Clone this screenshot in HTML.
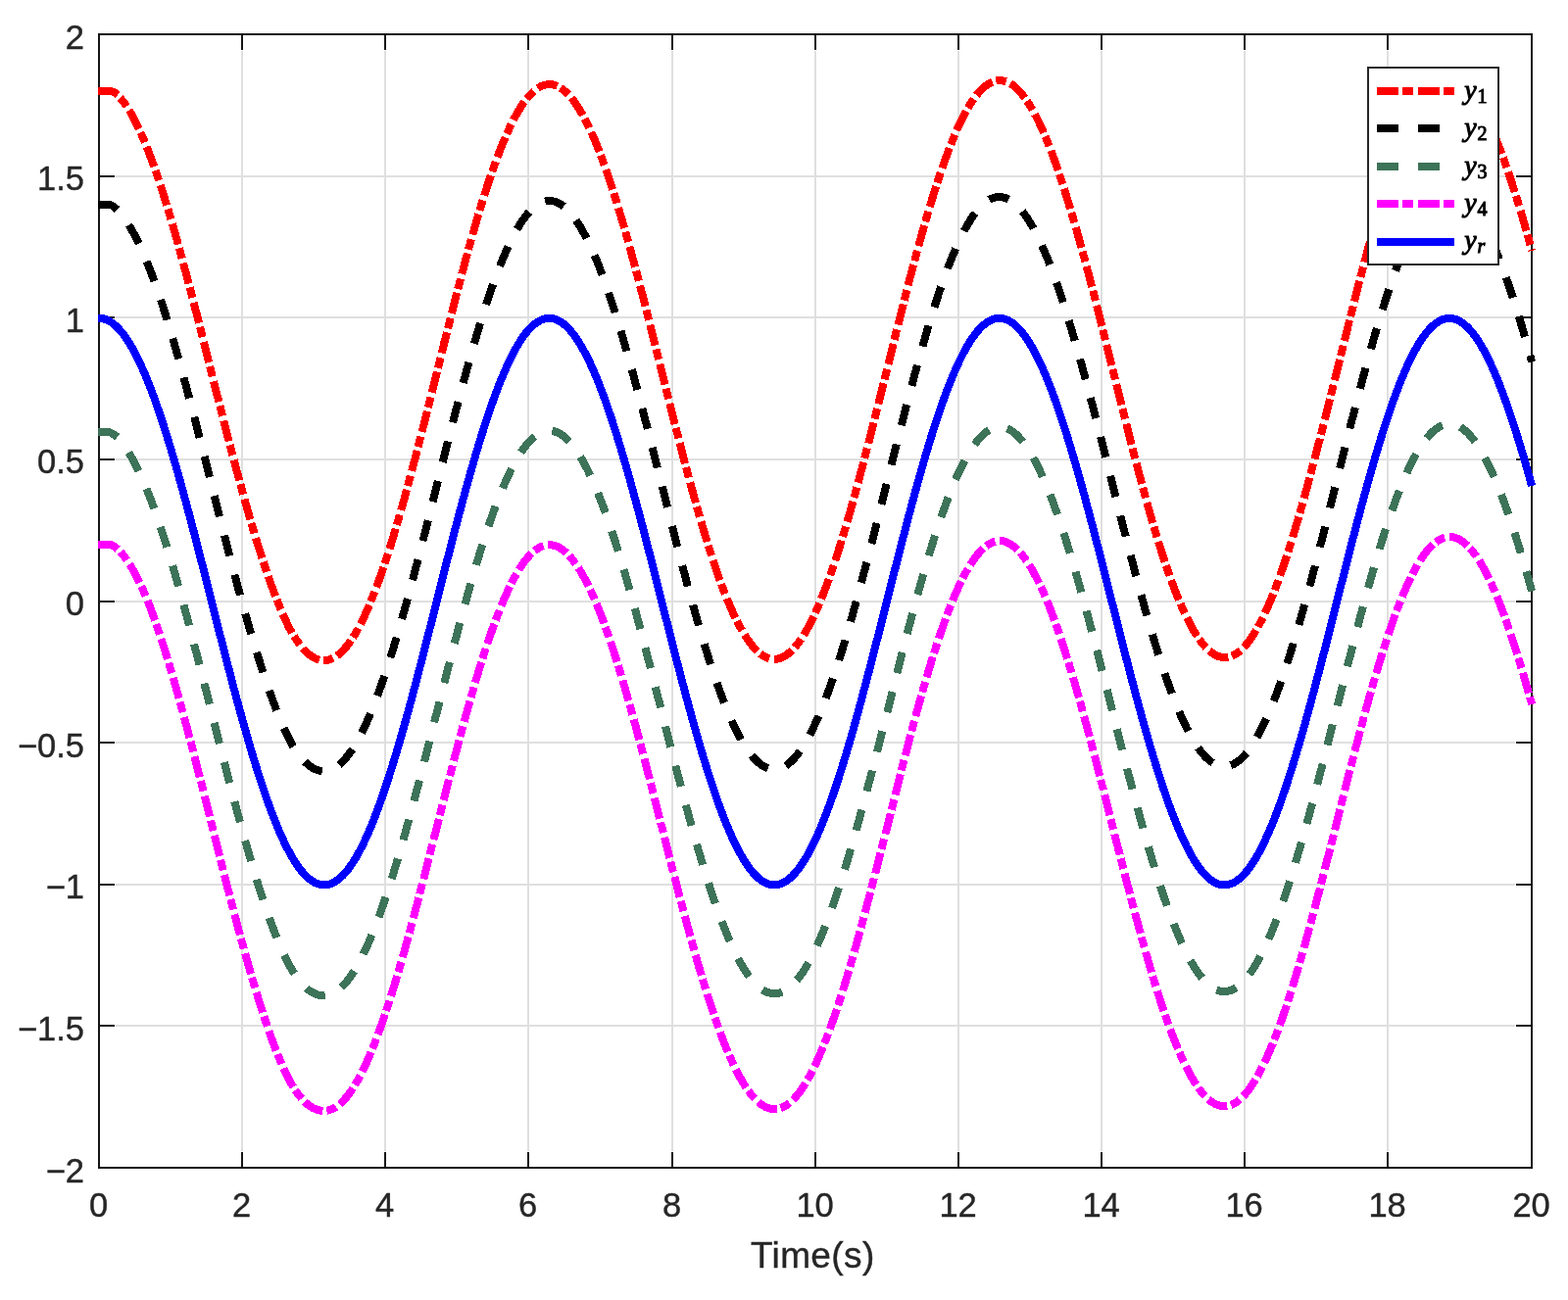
<!DOCTYPE html>
<html lang="en">
<head>
<meta charset="utf-8">
<title>Time(s) plot</title>
<style>
html,body{margin:0;padding:0;background:#fff;}
body{width:1600px;height:1327px;overflow:hidden;position:relative;font-family:"Liberation Sans",sans-serif;}
svg{position:absolute;left:0;top:0;display:block;}
.tick{font-family:"Liberation Sans",sans-serif;font-size:34.5px;fill:#262626;stroke:#262626;stroke-width:0.4px;}
.xlab{font-family:"Liberation Sans",sans-serif;font-size:37px;fill:#262626;stroke:#262626;stroke-width:0.4px;letter-spacing:0.4px;}
.leg{font-family:"Liberation Serif",serif;font-style:italic;font-weight:normal;font-size:28px;fill:#000;stroke:#000;stroke-width:1.0px;}
.sub{font-family:"Liberation Serif",serif;font-style:normal;font-weight:normal;font-size:20px;fill:#000;stroke:#000;stroke-width:1.0px;}
.subi{font-family:"Liberation Serif",serif;font-style:italic;font-weight:normal;font-size:20px;fill:#000;stroke:#000;stroke-width:1.0px;}
</style>
</head>
<body>
<svg xmlns="http://www.w3.org/2000/svg" width="1600" height="1327" viewBox="0 0 1600 1327">
<defs><clipPath id="ax"><rect x="99.8" y="30" width="1470.2" height="1165"/></clipPath></defs>
<rect x="0" y="0" width="1600" height="1327" fill="#fff"/>

<g stroke="#dfdfdf" stroke-width="2" fill="none" shape-rendering="crispEdges">
<line x1="247" y1="52.0" x2="247" y2="1175.0"/>
<line x1="393" y1="52.0" x2="393" y2="1175.0"/>
<line x1="539" y1="52.0" x2="539" y2="1175.0"/>
<line x1="686" y1="52.0" x2="686" y2="1175.0"/>
<line x1="832" y1="52.0" x2="832" y2="1175.0"/>
<line x1="978" y1="52.0" x2="978" y2="1175.0"/>
<line x1="1124" y1="52.0" x2="1124" y2="1175.0"/>
<line x1="1270" y1="52.0" x2="1270" y2="1175.0"/>
<line x1="1416" y1="52.0" x2="1416" y2="1175.0"/>
<line x1="118.0" y1="1047" x2="1546.0" y2="1047"/>
<line x1="118.0" y1="903" x2="1546.0" y2="903"/>
<line x1="118.0" y1="758" x2="1546.0" y2="758"/>
<line x1="118.0" y1="614" x2="1546.0" y2="614"/>
<line x1="118.0" y1="469" x2="1546.0" y2="469"/>
<line x1="118.0" y1="324" x2="1546.0" y2="324"/>
<line x1="118.0" y1="180" x2="1546.0" y2="180"/>
</g>
<g stroke="#151515" stroke-width="2" fill="none" stroke-linecap="butt" shape-rendering="crispEdges">
<rect x="101.0" y="35.0" width="1462.0" height="1157.0"/>
<line x1="247" y1="1192.0" x2="247" y2="1176.0"/>
<line x1="247" y1="35.0" x2="247" y2="51.0"/>
<line x1="393" y1="1192.0" x2="393" y2="1176.0"/>
<line x1="393" y1="35.0" x2="393" y2="51.0"/>
<line x1="539" y1="1192.0" x2="539" y2="1176.0"/>
<line x1="539" y1="35.0" x2="539" y2="51.0"/>
<line x1="686" y1="1192.0" x2="686" y2="1176.0"/>
<line x1="686" y1="35.0" x2="686" y2="51.0"/>
<line x1="832" y1="1192.0" x2="832" y2="1176.0"/>
<line x1="832" y1="35.0" x2="832" y2="51.0"/>
<line x1="978" y1="1192.0" x2="978" y2="1176.0"/>
<line x1="978" y1="35.0" x2="978" y2="51.0"/>
<line x1="1124" y1="1192.0" x2="1124" y2="1176.0"/>
<line x1="1124" y1="35.0" x2="1124" y2="51.0"/>
<line x1="1270" y1="1192.0" x2="1270" y2="1176.0"/>
<line x1="1270" y1="35.0" x2="1270" y2="51.0"/>
<line x1="1416" y1="1192.0" x2="1416" y2="1176.0"/>
<line x1="1416" y1="35.0" x2="1416" y2="51.0"/>
<line x1="101.0" y1="1047.00" x2="117.0" y2="1047.00"/>
<line x1="1563.0" y1="1047.00" x2="1547.0" y2="1047.00"/>
<line x1="101.0" y1="903.00" x2="117.0" y2="903.00"/>
<line x1="1563.0" y1="903.00" x2="1547.0" y2="903.00"/>
<line x1="101.0" y1="758.00" x2="117.0" y2="758.00"/>
<line x1="1563.0" y1="758.00" x2="1547.0" y2="758.00"/>
<line x1="101.0" y1="614.00" x2="117.0" y2="614.00"/>
<line x1="1563.0" y1="614.00" x2="1547.0" y2="614.00"/>
<line x1="101.0" y1="469.00" x2="117.0" y2="469.00"/>
<line x1="1563.0" y1="469.00" x2="1547.0" y2="469.00"/>
<line x1="101.0" y1="324.00" x2="117.0" y2="324.00"/>
<line x1="1563.0" y1="324.00" x2="1547.0" y2="324.00"/>
<line x1="101.0" y1="180.00" x2="117.0" y2="180.00"/>
<line x1="1563.0" y1="180.00" x2="1547.0" y2="180.00"/>
</g>
<g clip-path="url(#ax)" fill="none" stroke-linejoin="bevel" stroke-linecap="butt" stroke-width="8" shape-rendering="crispEdges">
<path d="M100.00 93.45L101.52 93.45L103.04 93.45L104.56 93.45L106.08 93.45L107.60 93.45L109.12 93.45L110.64 93.45L112.16 93.45L113.69 93.45L115.21 93.45L116.51 94.07L117.67 95.05L118.80 96.07L119.90 97.13M122.57 99.96L123.58 101.12L124.56 102.30L125.52 103.50L126.45 104.72L127.36 105.96L128.26 107.21L129.13 108.47M131.81 112.57L132.63 113.88L133.42 115.20L134.20 116.54L134.94 117.89L135.68 119.25L136.40 120.62L137.11 121.99L137.82 123.36L138.51 124.74L139.19 126.12L139.87 127.51L140.54 128.91L141.20 130.30L141.85 131.70M143.48 135.29L144.11 136.70L144.73 138.12L145.35 139.54L145.96 140.96L146.56 142.39L147.16 143.82L147.75 145.25M149.61 149.81L150.18 151.26L150.75 152.70L151.31 154.14L151.87 155.59L152.42 157.04L152.97 158.49L153.52 159.94L154.06 161.39L154.60 162.85L155.14 164.30L155.67 165.76L156.19 167.22L156.72 168.68L157.24 170.14M158.55 173.86L159.06 175.33L159.57 176.80L160.07 178.27L160.57 179.74L161.07 181.21L161.57 182.68L162.06 184.15M163.62 188.84L164.10 190.32L164.58 191.79L165.06 193.27L165.54 194.75L166.01 196.23L166.48 197.71L166.95 199.19L167.42 200.67L167.89 202.15L168.35 203.64L168.81 205.12L169.27 206.60L169.73 208.09L170.18 209.57M171.34 213.36L171.78 214.85L172.23 216.34L172.68 217.83L173.12 219.32L173.57 220.81L174.01 222.30L174.45 223.79M175.84 228.54L176.27 230.03L176.70 231.52L177.14 233.02L177.56 234.51L177.99 236.01L178.42 237.50L178.85 239.00L179.27 240.49L179.69 241.99L180.12 243.49L180.54 244.99L180.96 246.48L181.38 247.98L181.79 249.48M182.85 253.29L183.27 254.79L183.68 256.29L184.09 257.79L184.50 259.30L184.91 260.80L185.32 262.30L185.73 263.80M187.02 268.58L187.43 270.08L187.83 271.58L188.23 273.09L188.63 274.59L189.04 276.09L189.44 277.60L189.84 279.10L190.25 280.60L190.65 282.11L191.05 283.61L191.45 285.11L191.85 286.62L192.24 288.12L192.64 289.63M193.65 293.46L194.05 294.96L194.44 296.47L194.83 297.97L195.23 299.48L195.62 300.99L196.01 302.49L196.41 304.00M197.64 308.78L198.03 310.28L198.42 311.78L198.81 313.28L199.20 314.79L199.58 316.29L199.97 317.79L200.36 319.29L200.74 320.80L201.13 322.30L201.51 323.80L201.89 325.31L202.28 326.81L202.66 328.31L203.05 329.82M204.02 333.65L204.40 335.15L204.78 336.65L205.17 338.16L205.55 339.66L205.93 341.17L206.31 342.67L206.69 344.18M207.90 348.96L208.28 350.47L208.66 351.97L209.04 353.48L209.42 354.98L209.79 356.49L210.17 357.99L210.55 359.50L210.93 361.01L211.31 362.51L211.69 364.02L212.07 365.52L212.44 367.03L212.82 368.53L213.20 370.04M214.16 373.87L214.54 375.37L214.92 376.88L215.29 378.39L215.67 379.89L216.05 381.40L216.43 382.90L216.80 384.41M218.01 389.20L218.39 390.70L218.77 392.21L219.15 393.71L219.53 395.22L219.91 396.72L220.29 398.23L220.67 399.73L221.05 401.23L221.43 402.74L221.81 404.24L222.20 405.75L222.58 407.25L222.96 408.76L223.34 410.26M224.31 414.09L224.70 415.59L225.08 417.10L225.46 418.60L225.85 420.10L226.23 421.61L226.61 423.11L227.00 424.61M228.22 429.40L228.61 430.90L228.99 432.40L229.38 433.91L229.77 435.41L230.15 436.91L230.54 438.41L230.93 439.92L231.32 441.42L231.71 442.92L232.09 444.42L232.48 445.93L232.87 447.43L233.26 448.93L233.65 450.43M234.65 454.25L235.04 455.75L235.44 457.25L235.83 458.75L236.22 460.25L236.62 461.76L237.01 463.26L237.41 464.76M238.67 469.53L239.07 471.02L239.47 472.52L239.87 474.02L240.27 475.51L240.67 477.01L241.07 478.50L241.47 480.00L241.87 481.49L242.28 482.99L242.68 484.48L243.09 485.98L243.49 487.47L243.89 488.97L244.30 490.46M245.32 494.27L245.73 495.76L246.13 497.26L246.54 498.75L246.94 500.24L247.35 501.73L247.76 503.23L248.17 504.72M249.48 509.46L249.90 510.95L250.31 512.44L250.73 513.93L251.15 515.42L251.56 516.91L251.98 518.40L252.40 519.89L252.83 521.38L253.25 522.87L253.67 524.35L254.10 525.84L254.53 527.33L254.96 528.81L255.39 530.30M256.49 534.08L256.92 535.56L257.36 537.04L257.79 538.53L258.23 540.01L258.67 541.49L259.12 542.97L259.56 544.45M260.98 549.16L261.43 550.63L261.88 552.11L262.34 553.59L262.80 555.06L263.25 556.54L263.71 558.01L264.17 559.48L264.64 560.96L265.10 562.43L265.57 563.90L266.04 565.37L266.51 566.84L266.98 568.31L267.46 569.78M268.68 573.52L269.16 574.98L269.64 576.45L270.13 577.91L270.62 579.37L271.11 580.84L271.61 582.30L272.11 583.76M273.71 588.39L274.22 589.85L274.74 591.30L275.25 592.75L275.77 594.20L276.30 595.65L276.82 597.09L277.35 598.54L277.89 599.98L278.43 601.43L278.97 602.87L279.52 604.31L280.07 605.75L280.62 607.18L281.18 608.62M282.62 612.26L283.19 613.69L283.77 615.11L284.34 616.54L284.92 617.97L285.49 619.39L286.08 620.81L286.67 622.23M288.58 626.73L289.19 628.14L289.80 629.54L290.43 630.94L291.06 632.34L291.70 633.73L292.34 635.12L292.99 636.50L293.65 637.89L294.32 639.27L295.01 640.63L295.74 641.98L296.48 643.32L297.23 644.66L297.99 645.99M299.99 649.32L300.79 650.61L301.61 651.89L302.45 653.16L303.30 654.42L304.17 655.67L305.06 656.90L305.97 658.12M308.99 661.88L309.98 663.00L311.01 664.09L312.07 665.16L313.16 666.19L314.28 667.19L315.44 668.14L316.63 669.06L317.85 669.92L319.12 670.73L320.42 671.47L321.77 672.13L323.15 672.71L324.57 673.20L326.02 673.59M329.76 674.06L331.25 674.05L332.73 673.95L334.20 673.73L335.65 673.39L337.07 672.95L338.46 672.42L339.81 671.80M343.87 669.33L345.08 668.42L346.26 667.47L347.39 666.47L348.50 665.44L349.57 664.38L350.62 663.28L351.63 662.16L352.62 661.02L353.59 659.85L354.53 658.67L355.45 657.47L356.35 656.26L357.23 655.03L358.09 653.78M360.22 650.55L361.03 649.26L361.83 647.96L362.61 646.65L363.38 645.33L364.14 644.00L364.88 642.67L365.62 641.33M367.89 637.03L368.59 635.66L369.27 634.29L369.95 632.92L370.62 631.54L371.28 630.15L371.93 628.76L372.58 627.37L373.22 625.98L373.85 624.58L374.47 623.18L375.09 621.78L375.70 620.37L376.31 618.96L376.91 617.55M378.41 613.94L379.00 612.52L379.57 611.09L380.15 609.66L380.71 608.23L381.28 606.80L381.83 605.37L382.39 603.93M384.12 599.35L384.66 597.91L385.20 596.46L385.73 595.02L386.25 593.57L386.78 592.12L387.30 590.67L387.81 589.22L388.33 587.76L388.84 586.31L389.35 584.85L389.85 583.40L390.35 581.94L390.85 580.48L391.34 579.02M392.59 575.30L393.08 573.83L393.56 572.37L394.05 570.90L394.53 569.44L395.00 567.97L395.48 566.50L395.95 565.03M397.44 560.35L397.90 558.87L398.36 557.40L398.82 555.93L399.28 554.45L399.74 552.97L400.19 551.50L400.64 550.02L401.09 548.54L401.54 547.06L401.99 545.58L402.43 544.10L402.87 542.62L403.32 541.14L403.76 539.66M404.87 535.89L405.31 534.41L405.74 532.92L406.17 531.44L406.60 529.95L407.03 528.47L407.46 526.98L407.89 525.50M409.24 520.76L409.66 519.27L410.08 517.79L410.50 516.30L410.91 514.81L411.33 513.32L411.75 511.83L412.16 510.34L412.58 508.85L412.99 507.35L413.40 505.86L413.81 504.37L414.22 502.88L414.63 501.39L415.04 499.89M416.07 496.09L416.47 494.60L416.88 493.11L417.28 491.61L417.68 490.12L418.08 488.62L418.48 487.13L418.88 485.63M420.15 480.87L420.55 479.37L420.94 477.88L421.34 476.38L421.73 474.88L422.12 473.38L422.52 471.89L422.91 470.39L423.30 468.89L423.69 467.39L424.08 465.89L424.47 464.40L424.86 462.90L425.25 461.40L425.64 459.90M426.63 456.08L427.01 454.58L427.40 453.08L427.78 451.58L428.17 450.08L428.55 448.58L428.94 447.08L429.32 445.58M430.54 440.80L430.92 439.30L431.30 437.80L431.68 436.30L432.06 434.80L432.44 433.30L432.82 431.80L433.20 430.29L433.58 428.79L433.96 427.29L434.34 425.79L434.72 424.28L435.10 422.78L435.48 421.28L435.85 419.78M436.81 415.95L437.19 414.45L437.57 412.95L437.94 411.44L438.32 409.94L438.70 408.44L439.07 406.94L439.45 405.43M440.64 400.65L441.02 399.14L441.39 397.64L441.77 396.13L442.14 394.63L442.52 393.12L442.90 391.62L443.27 390.11L443.65 388.61L444.02 387.10L444.40 385.60L444.77 384.09L445.15 382.59L445.52 381.08L445.89 379.57M446.85 375.73L447.23 374.21L447.61 372.70L447.98 371.19L448.36 369.68L448.74 368.17L449.11 366.66L449.49 365.14M450.69 360.33L451.07 358.82L451.44 357.31L451.82 355.80L452.20 354.29L452.58 352.78L452.95 351.27L453.33 349.75L453.71 348.24L454.09 346.73L454.47 345.22L454.85 343.71L455.23 342.20L455.61 340.69L455.99 339.18M456.95 335.33L457.33 333.82L457.72 332.31L458.10 330.80L458.48 329.29L458.86 327.78L459.24 326.27L459.63 324.76M460.84 319.96L461.23 318.45L461.61 316.94L462.00 315.43L462.38 313.92L462.77 312.41L463.16 310.90L463.54 309.39L463.93 307.88L464.32 306.38L464.71 304.87L465.09 303.36L465.48 301.85L465.87 300.34L466.26 298.83M467.26 295.00L467.65 293.49L468.04 291.98L468.44 290.48L468.83 288.97L469.23 287.46L469.62 285.96L470.02 284.45M471.28 279.66L471.68 278.16L472.08 276.65L472.48 275.15L472.88 273.64L473.29 272.14L473.69 270.63L474.09 269.13L474.50 267.63L474.90 266.12L475.31 264.62L475.72 263.12L476.13 261.62L476.53 260.11L476.94 258.61M477.99 254.79L478.41 253.29L478.82 251.79L479.24 250.29L479.65 248.79L480.07 247.29L480.49 245.79L480.91 244.29M482.25 239.53L482.68 238.03L483.10 236.53L483.53 235.04L483.96 233.54L484.39 232.05L484.82 230.55L485.26 229.06L485.69 227.56L486.12 226.07L486.56 224.58L487.00 223.08L487.44 221.59L487.88 220.10L488.33 218.61M489.46 214.82L489.91 213.33L490.36 211.84L490.81 210.35L491.27 208.86L491.72 207.38L492.18 205.89L492.64 204.41M494.12 199.68L494.59 198.20L495.06 196.72L495.53 195.24L496.01 193.76L496.48 192.28L496.96 190.80L497.45 189.33L497.93 187.85L498.42 186.37L498.91 184.90L499.40 183.42L499.89 181.95L500.39 180.48L500.89 179.01M502.18 175.27L502.69 173.80L503.20 172.34L503.72 170.87L504.24 169.41L504.76 167.95L505.29 166.49L505.82 165.03M507.53 160.40L508.08 158.94L508.63 157.49L509.18 156.05L509.74 154.60L510.31 153.15L510.87 151.71L511.45 150.27L512.02 148.83L512.60 147.39L513.19 145.96L513.79 144.53L514.38 143.09L514.99 141.67L515.60 140.24M517.18 136.63L517.81 135.21L518.45 133.80L519.09 132.40L519.75 130.99L520.41 129.59L521.08 128.20L521.75 126.81M523.97 122.41L524.68 121.04L525.40 119.68L526.14 118.32L526.88 116.97L527.64 115.63L528.41 114.29L529.20 112.96L529.99 111.64L530.80 110.33L531.63 109.03L532.47 107.73L533.33 106.45L534.21 105.18L535.11 103.93M537.48 100.81L538.44 99.62L539.44 98.45L540.46 97.31L541.50 96.19L542.58 95.10L543.69 94.04L544.83 93.01M548.70 90.07L549.97 89.28L551.29 88.56L552.64 87.91L554.03 87.35L555.46 86.88L556.91 86.52L558.39 86.28L559.88 86.15L561.38 86.15L562.88 86.28L564.36 86.53L565.81 86.89L567.24 87.36L568.63 87.92M571.95 89.69L573.19 90.51L574.40 91.38L575.57 92.30L576.71 93.27L577.81 94.27L578.88 95.31L579.92 96.38M583.08 99.96L584.03 101.14L584.95 102.33L585.86 103.55L586.74 104.77L587.61 106.01L588.46 107.27L589.29 108.53L590.11 109.80L590.91 111.08L591.70 112.38L592.47 113.68L593.23 114.98L593.98 116.30L594.72 117.62M596.56 121.02L597.26 122.38L597.96 123.73L598.64 125.09L599.32 126.46L599.99 127.83L600.65 129.20L601.30 130.58M603.33 134.99L603.96 136.38L604.58 137.78L605.19 139.18L605.79 140.59L606.40 142.00L606.99 143.41L607.58 144.82L608.16 146.23L608.74 147.65L609.31 149.07L609.88 150.49L610.45 151.91L611.01 153.33L611.56 154.76M612.96 158.40L613.50 159.84L614.04 161.27L614.57 162.71L615.10 164.15L615.63 165.59L616.15 167.03L616.67 168.48M618.30 173.08L618.81 174.53L619.31 175.98L619.81 177.44L620.31 178.89L620.80 180.35L621.30 181.80L621.79 183.26L622.27 184.72L622.76 186.18L623.24 187.64L623.72 189.10L624.20 190.56L624.67 192.02L625.14 193.48M626.34 197.21L626.80 198.68L627.26 200.14L627.73 201.61L628.18 203.08L628.64 204.55L629.10 206.02L629.55 207.49M630.98 212.18L631.43 213.65L631.87 215.13L632.31 216.60L632.75 218.08L633.19 219.56L633.63 221.03L634.07 222.51L634.50 223.99L634.94 225.47L635.37 226.95L635.80 228.43L636.23 229.91L636.66 231.39L637.08 232.87M638.16 236.64L638.58 238.12L639.00 239.60L639.42 241.09L639.84 242.57L640.26 244.06L640.68 245.54L641.09 247.03M642.41 251.75L642.82 253.24L643.23 254.73L643.63 256.22L644.04 257.70L644.45 259.19L644.86 260.68L645.26 262.17L645.66 263.66L646.07 265.15L646.47 266.64L646.87 268.13L647.27 269.62L647.67 271.11L648.07 272.60M649.08 276.39L649.48 277.89L649.87 279.38L650.27 280.87L650.66 282.36L651.06 283.85L651.45 285.35L651.84 286.84M653.09 291.59L653.48 293.09L653.86 294.58L654.25 296.08L654.64 297.57L655.03 299.06L655.42 300.56L655.80 302.05L656.19 303.55L656.57 305.05L656.96 306.54L657.34 308.04L657.73 309.53L658.11 311.03L658.49 312.52M659.46 316.33L659.85 317.83L660.23 319.33L660.61 320.82L660.99 322.32L661.37 323.82L661.75 325.31L662.13 326.81M663.33 331.58L663.71 333.07L664.09 334.57L664.46 336.07L664.84 337.57L665.22 339.07L665.59 340.57L665.97 342.06L666.35 343.56L666.72 345.06L667.10 346.56L667.47 348.06L667.85 349.56L668.22 351.06L668.60 352.55M669.55 356.37L669.93 357.87L670.30 359.37L670.67 360.87L671.05 362.37L671.42 363.86L671.80 365.36L672.17 366.86M673.36 371.63L673.73 373.14L674.11 374.64L674.48 376.15L674.86 377.66L675.23 379.16L675.61 380.67L675.98 382.17L676.36 383.68L676.73 385.19L677.11 386.69L677.48 388.20L677.86 389.70L678.23 391.21L678.61 392.72M679.57 396.56L679.94 398.06L680.32 399.57L680.70 401.08L681.07 402.59L681.45 404.10L681.83 405.61L682.20 407.12M683.40 411.91L683.78 413.42L684.16 414.93L684.54 416.44L684.92 417.95L685.30 419.45L685.68 420.96L686.05 422.47L686.43 423.98L686.81 425.48L687.19 426.99L687.57 428.50L687.96 430.01L688.34 431.51L688.72 433.02M689.69 436.86L690.07 438.36L690.46 439.87L690.84 441.38L691.22 442.88L691.61 444.39L691.99 445.90L692.38 447.40M693.61 452.19L693.99 453.70L694.38 455.20L694.77 456.71L695.16 458.21L695.55 459.72L695.94 461.22L696.33 462.73L696.72 464.23L697.11 465.74L697.50 467.24L697.90 468.74L698.29 470.25L698.68 471.75L699.08 473.25M700.08 477.08L700.48 478.58L700.88 480.08L701.28 481.58L701.68 483.09L702.08 484.59L702.48 486.09L702.88 487.59M704.16 492.36L704.57 493.86L704.97 495.36L705.38 496.86L705.79 498.36L706.20 499.86L706.61 501.36L707.02 502.86L707.43 504.35L707.84 505.85L708.25 507.35L708.67 508.85L709.08 510.34L709.50 511.84L709.92 513.33M710.99 517.14L711.41 518.63L711.83 520.13L712.26 521.62L712.68 523.12L713.11 524.61L713.54 526.10L713.97 527.59M715.34 532.34L715.78 533.83L716.22 535.32L716.65 536.80L717.09 538.29L717.54 539.78L717.98 541.27L718.42 542.75L718.87 544.24L719.32 545.73L719.77 547.21L720.22 548.70L720.67 550.18L721.13 551.66L721.58 553.15M722.76 556.92L723.22 558.40L723.68 559.88L724.15 561.35L724.62 562.83L725.09 564.31L725.57 565.79L726.05 567.26M727.58 571.95L728.07 573.42L728.55 574.89L729.05 576.36L729.54 577.83L730.04 579.29L730.54 580.76L731.04 582.23L731.55 583.69L732.06 585.15L732.57 586.62L733.08 588.08L733.60 589.54L734.12 590.99L734.65 592.45M736.00 596.15L736.54 597.60L737.08 599.05L737.63 600.50L738.18 601.95L738.73 603.39L739.29 604.83L739.85 606.28M741.68 610.85L742.26 612.28L742.84 613.70L743.44 615.13L744.04 616.55L744.64 617.97L745.25 619.39L745.87 620.81L746.49 622.22L747.12 623.63L747.75 625.04L748.40 626.44L749.05 627.84L749.70 629.24L750.37 630.63M752.10 634.15L752.80 635.53L753.50 636.90L754.21 638.26L754.94 639.62L755.67 640.97L756.42 642.32L757.18 643.66M759.68 647.86L760.49 649.16L761.31 650.45L762.15 651.73L763.01 652.99L763.89 654.25L764.79 655.49L765.70 656.71L766.64 657.92L767.60 659.11L768.59 660.28L769.60 661.43L770.64 662.55L771.71 663.65L772.81 664.71M775.74 667.23L776.95 668.14L778.20 668.99L779.49 669.78L780.82 670.50L782.19 671.14L783.60 671.69L785.05 672.14M789.78 672.82L791.29 672.77L792.79 672.60L794.28 672.31L795.74 671.91L797.16 671.40L798.55 670.80L799.90 670.11L801.21 669.35L802.48 668.53L803.70 667.65L804.90 666.71L806.05 665.73L807.17 664.72L808.26 663.67M810.91 660.83L811.91 659.67L812.88 658.49L813.83 657.29L814.76 656.07L815.66 654.84L816.55 653.59L817.42 652.33M820.07 648.23L820.87 646.92L821.66 645.59L822.44 644.27L823.20 642.93L823.96 641.59L824.70 640.24L825.43 638.88L826.14 637.52L826.85 636.15L827.55 634.78L828.24 633.40L828.92 632.02L829.59 630.64L830.25 629.25M831.91 625.69L832.55 624.28L833.18 622.87L833.81 621.46L834.43 620.05L835.04 618.63L835.64 617.21L836.24 615.79M838.12 611.24L838.70 609.80L839.27 608.37L839.84 606.93L840.41 605.49L840.96 604.05L841.52 602.60L842.07 601.16L842.62 599.71L843.16 598.26L843.70 596.81L844.23 595.36L844.77 593.90L845.29 592.45L845.82 590.99M847.14 587.28L847.65 585.82L848.16 584.35L848.67 582.89L849.17 581.43L849.67 579.96L850.17 578.49L850.66 577.02M852.22 572.35L852.71 570.87L853.19 569.40L853.67 567.92L854.14 566.45L854.62 564.97L855.09 563.49L855.56 562.02L856.03 560.54L856.50 559.06L856.96 557.58L857.42 556.10L857.88 554.62L858.34 553.14L858.79 551.65M859.95 547.88L860.40 546.39L860.84 544.91L861.29 543.42L861.74 541.93L862.18 540.45L862.62 538.96L863.06 537.47M864.45 532.73L864.88 531.24L865.31 529.75L865.74 528.26L866.17 526.76L866.60 525.27L867.03 523.78L867.45 522.28L867.88 520.79L868.30 519.30L868.72 517.80L869.14 516.31L869.56 514.81L869.98 513.32L870.39 511.82M871.45 508.01L871.86 506.51L872.28 505.02L872.69 503.52L873.10 502.02L873.51 500.52L873.91 499.02L874.32 497.52M875.61 492.75L876.01 491.25L876.42 489.75L876.82 488.25L877.22 486.75L877.62 485.25L878.02 483.74L878.42 482.24L878.81 480.74L879.21 479.24L879.61 477.73L880.00 476.23L880.40 474.73L880.79 473.23L881.18 471.72M882.18 467.89L882.57 466.39L882.96 464.89L883.35 463.38L883.74 461.88L884.13 460.37L884.52 458.87L884.91 457.36M886.14 452.57L886.52 451.07L886.91 449.56L887.29 448.05L887.68 446.55L888.06 445.04L888.44 443.53L888.83 442.03L889.21 440.52L889.59 439.01L889.97 437.51L890.35 436.00L890.74 434.49L891.12 432.98L891.50 431.48M892.46 427.64L892.84 426.13L893.22 424.62L893.60 423.12L893.98 421.61L894.35 420.10L894.73 418.59L895.11 417.08M896.31 412.28L896.68 410.77L897.06 409.27L897.43 407.76L897.81 406.25L898.19 404.74L898.56 403.23L898.94 401.72L899.31 400.21L899.69 398.70L900.06 397.19L900.44 395.68L900.81 394.18L901.18 392.67L901.56 391.16M902.51 387.32L902.89 385.81L903.26 384.30L903.63 382.79L904.01 381.28L904.38 379.77L904.76 378.26L905.13 376.75M906.32 371.94L906.70 370.43L907.07 368.92L907.44 367.41L907.82 365.90L908.19 364.39L908.57 362.88L908.94 361.37L909.32 359.85L909.69 358.34L910.07 356.83L910.44 355.32L910.82 353.81L911.19 352.30L911.57 350.79M912.53 346.94L912.90 345.43L913.28 343.92L913.66 342.41L914.03 340.90L914.41 339.39L914.79 337.88L915.17 336.37M916.37 331.57L916.75 330.06L917.13 328.55L917.51 327.04L917.89 325.53L918.27 324.02L918.65 322.51L919.03 321.00L919.41 319.49L919.79 317.98L920.17 316.47L920.55 314.97L920.94 313.46L921.32 311.95L921.70 310.44M922.68 306.60L923.07 305.09L923.45 303.59L923.84 302.08L924.22 300.57L924.61 299.06L925.00 297.56L925.39 296.05M926.63 291.25L927.02 289.75L927.41 288.24L927.80 286.74L928.19 285.23L928.58 283.73L928.98 282.22L929.37 280.72L929.77 279.21L930.16 277.71L930.56 276.20L930.96 274.70L931.35 273.19L931.75 271.69L932.15 270.18M933.17 266.36L933.57 264.86L933.98 263.35L934.38 261.85L934.79 260.35L935.19 258.85L935.60 257.35L936.01 255.84M937.31 251.07L937.72 249.57L938.13 248.07L938.55 246.57L938.96 245.07L939.38 243.58L939.79 242.08L940.21 240.58L940.63 239.08L941.05 237.59L941.47 236.09L941.90 234.59L942.32 233.10L942.75 231.60L943.17 230.11M944.27 226.30L944.70 224.81L945.13 223.32L945.56 221.82L946.00 220.33L946.44 218.84L946.88 217.35L947.32 215.86M948.73 211.12L949.17 209.63L949.62 208.14L950.07 206.66L950.53 205.17L950.98 203.69L951.44 202.20L951.89 200.72L952.35 199.23L952.82 197.75L953.28 196.27L953.75 194.78L954.21 193.30L954.68 191.82L955.16 190.34M956.37 186.58L956.85 185.11L957.33 183.63L957.82 182.16L958.31 180.68L958.80 179.21L959.29 177.74L959.79 176.27M961.39 171.60L961.89 170.13L962.40 168.67L962.92 167.20L963.44 165.74L963.96 164.28L964.48 162.82L965.01 161.36L965.54 159.91L966.08 158.45L966.62 157.00L967.16 155.55L967.71 154.09L968.26 152.65L968.81 151.20M970.25 147.52L970.82 146.08L971.39 144.65L971.97 143.21L972.56 141.78L973.15 140.35L973.75 138.92L974.35 137.49M976.31 132.98L976.94 131.56L977.57 130.16L978.21 128.75L978.86 127.35L979.52 125.95L980.18 124.55L980.85 123.16L981.53 121.78L982.22 120.40L982.92 119.02L983.63 117.65L984.35 116.28L985.08 114.92L985.82 113.56M987.76 110.15L988.54 108.82L989.34 107.51L990.15 106.20L990.97 104.90L991.81 103.61L992.67 102.33L993.55 101.07M996.46 97.15L997.42 95.96L998.40 94.79L999.40 93.64L1000.44 92.52L1001.50 91.42L1002.59 90.36L1003.72 89.33L1004.88 88.34L1006.08 87.39L1007.31 86.50L1008.59 85.66L1009.91 84.89L1011.27 84.20L1012.67 83.59M1016.36 82.51L1017.83 82.28L1019.31 82.18L1020.80 82.17L1022.29 82.28L1023.76 82.50L1025.21 82.83L1026.63 83.27M1030.90 85.26L1032.18 86.05L1033.41 86.90L1034.61 87.80L1035.78 88.75L1036.91 89.74L1038.00 90.77L1039.07 91.83L1040.10 92.91L1041.11 94.03L1042.09 95.16L1043.05 96.32L1043.98 97.49L1044.90 98.69L1045.79 99.89M1047.99 103.05L1048.83 104.32L1049.66 105.60L1050.46 106.89L1051.26 108.18L1052.03 109.49L1052.80 110.80L1053.55 112.12M1055.88 116.37L1056.59 117.72L1057.30 119.08L1057.99 120.44L1058.67 121.81L1059.35 123.18L1060.01 124.55L1060.67 125.93L1061.32 127.32L1061.97 128.70L1062.60 130.09L1063.23 131.48L1063.85 132.88L1064.47 134.28L1065.08 135.68M1066.61 139.27L1067.20 140.68L1067.78 142.10L1068.36 143.52L1068.94 144.94L1069.51 146.37L1070.08 147.79L1070.64 149.22M1072.40 153.77L1072.94 155.21L1073.48 156.65L1074.02 158.09L1074.55 159.53L1075.08 160.98L1075.60 162.42L1076.13 163.87L1076.65 165.31L1077.16 166.76L1077.67 168.21L1078.18 169.66L1078.69 171.11L1079.19 172.57L1079.69 174.02M1080.95 177.73L1081.44 179.19L1081.93 180.65L1082.42 182.11L1082.90 183.57L1083.38 185.03L1083.86 186.50L1084.33 187.96M1085.83 192.63L1086.30 194.10L1086.77 195.57L1087.23 197.04L1087.69 198.51L1088.15 199.98L1088.61 201.45L1089.06 202.92L1089.51 204.40L1089.97 205.87L1090.42 207.35L1090.86 208.82L1091.31 210.30L1091.75 211.77L1092.20 213.25M1093.32 217.01L1093.76 218.49L1094.19 219.97L1094.63 221.45L1095.06 222.93L1095.49 224.42L1095.92 225.90L1096.35 227.38M1097.71 232.10L1098.13 233.58L1098.55 235.07L1098.97 236.55L1099.39 238.04L1099.81 239.53L1100.23 241.01L1100.65 242.50L1101.06 243.99L1101.48 245.47L1101.89 246.96L1102.30 248.45L1102.72 249.94L1103.13 251.43L1103.53 252.92M1104.57 256.71L1104.98 258.20L1105.38 259.69L1105.79 261.18L1106.19 262.67L1106.60 264.16L1107.00 265.65L1107.40 267.15M1108.67 271.90L1109.07 273.39L1109.46 274.88L1109.86 276.38L1110.26 277.87L1110.65 279.36L1111.05 280.86L1111.44 282.35L1111.83 283.85L1112.23 285.34L1112.62 286.84L1113.01 288.33L1113.40 289.83L1113.79 291.32L1114.18 292.82M1115.17 296.63L1115.56 298.13L1115.94 299.62L1116.33 301.12L1116.72 302.62L1117.10 304.11L1117.49 305.61L1117.87 307.11M1119.09 311.87L1119.48 313.37L1119.86 314.87L1120.24 316.37L1120.62 317.87L1121.01 319.37L1121.39 320.86L1121.77 322.36L1122.15 323.86L1122.53 325.36L1122.91 326.86L1123.29 328.36L1123.67 329.86L1124.05 331.36L1124.43 332.86M1125.39 336.67L1125.77 338.17L1126.15 339.67L1126.52 341.17L1126.90 342.67L1127.28 344.17L1127.65 345.67L1128.03 347.17M1129.23 351.95L1129.61 353.45L1129.98 354.96L1130.36 356.46L1130.74 357.97L1131.12 359.47L1131.49 360.98L1131.87 362.48L1132.24 363.99L1132.61 365.50L1132.98 367.00L1133.35 368.51L1133.72 370.02L1134.10 371.52L1134.47 373.03M1135.41 376.88L1135.79 378.39L1136.16 379.90L1136.53 381.41L1136.90 382.92L1137.28 384.43L1137.65 385.94L1138.02 387.46M1139.21 392.26L1139.58 393.77L1139.95 395.29L1140.33 396.80L1140.70 398.31L1141.07 399.82L1141.45 401.33L1141.82 402.84L1142.19 404.35L1142.57 405.86L1142.94 407.37L1143.32 408.88L1143.69 410.39L1144.07 411.91L1144.44 413.42M1145.40 417.26L1145.78 418.77L1146.15 420.28L1146.53 421.79L1146.91 423.30L1147.28 424.81L1147.66 426.32L1148.04 427.83M1149.25 432.63L1149.63 434.14L1150.01 435.65L1150.39 437.16L1150.77 438.67L1151.15 440.18L1151.53 441.69L1151.91 443.19L1152.29 444.70L1152.68 446.21L1153.06 447.72L1153.44 449.23L1153.83 450.74L1154.21 452.24L1154.60 453.75M1155.58 457.59L1155.97 459.09L1156.36 460.60L1156.75 462.11L1157.14 463.61L1157.52 465.12L1157.92 466.63L1158.31 468.13M1159.55 472.92L1159.95 474.43L1160.34 475.93L1160.74 477.44L1161.13 478.94L1161.53 480.44L1161.93 481.95L1162.33 483.45L1162.73 484.96L1163.13 486.46L1163.53 487.96L1163.93 489.46L1164.33 490.97L1164.73 492.47L1165.14 493.97M1166.17 497.79L1166.58 499.29L1166.99 500.79L1167.40 502.29L1167.81 503.79L1168.22 505.29L1168.63 506.79L1169.05 508.29M1170.37 513.06L1170.79 514.56L1171.21 516.05L1171.63 517.55L1172.05 519.04L1172.47 520.54L1172.90 522.03L1173.32 523.53L1173.75 525.02L1174.18 526.52L1174.61 528.01L1175.04 529.51L1175.47 531.00L1175.91 532.49L1176.34 533.98M1177.46 537.78L1177.90 539.27L1178.34 540.76L1178.79 542.24L1179.23 543.73L1179.68 545.22L1180.13 546.71L1180.58 548.19M1182.03 552.92L1182.49 554.40L1182.95 555.88L1183.42 557.37L1183.88 558.85L1184.35 560.33L1184.82 561.81L1185.29 563.29L1185.77 564.76L1186.24 566.24L1186.72 567.72L1187.20 569.19L1187.69 570.67L1188.17 572.14L1188.66 573.62M1189.92 577.36L1190.42 578.83L1190.92 580.30L1191.43 581.77L1191.93 583.23L1192.44 584.70L1192.96 586.16L1193.47 587.62M1195.14 592.26L1195.67 593.72L1196.21 595.17L1196.75 596.63L1197.29 598.08L1197.84 599.53L1198.39 600.97L1198.94 602.42L1199.50 603.86L1200.07 605.31L1200.64 606.75L1201.21 608.19L1201.79 609.62L1202.38 611.06L1202.96 612.49M1204.49 616.12L1205.10 617.54L1205.71 618.96L1206.33 620.38L1206.96 621.79L1207.60 623.20L1208.24 624.61L1208.89 626.01M1211.01 630.45L1211.69 631.83L1212.38 633.21L1213.08 634.58L1213.79 635.95L1214.51 637.31L1215.24 638.67L1215.98 640.02L1216.73 641.37L1217.50 642.70L1218.27 644.03L1219.07 645.36L1219.87 646.67L1220.69 647.97L1221.53 649.27M1223.73 652.50L1224.63 653.74L1225.55 654.97L1226.49 656.19L1227.45 657.38L1228.43 658.55L1229.44 659.70L1230.48 660.83M1233.99 664.20L1235.15 665.17L1236.34 666.10L1237.58 666.97L1238.86 667.78L1240.17 668.53L1241.53 669.20L1242.92 669.79L1244.36 670.28L1245.82 670.66L1247.31 670.93L1248.81 671.08L1250.33 671.09L1251.84 670.97L1253.33 670.74M1256.99 669.64L1258.37 669.03L1259.71 668.34L1261.01 667.58L1262.28 666.75L1263.50 665.87L1264.69 664.94L1265.84 663.96M1269.30 660.59L1270.33 659.46L1271.33 658.31L1272.31 657.13L1273.26 655.94L1274.19 654.73L1275.11 653.50L1276.00 652.26L1276.87 651.01L1277.72 649.74L1278.56 648.46L1279.38 647.17L1280.19 645.88L1280.98 644.57L1281.76 643.26M1283.69 639.86L1284.43 638.51L1285.16 637.16L1285.88 635.80L1286.58 634.44L1287.28 633.07L1287.97 631.69L1288.65 630.32M1290.76 625.90L1291.41 624.50L1292.05 623.10L1292.68 621.69L1293.31 620.28L1293.93 618.87L1294.55 617.46L1295.16 616.04L1295.76 614.62L1296.35 613.20L1296.95 611.78L1297.53 610.35L1298.11 608.92L1298.69 607.49L1299.26 606.06M1300.69 602.40L1301.25 600.96L1301.80 599.52L1302.35 598.07L1302.89 596.63L1303.43 595.18L1303.96 593.73L1304.50 592.28M1306.16 587.65L1306.68 586.19L1307.20 584.73L1307.71 583.27L1308.22 581.81L1308.72 580.35L1309.22 578.89L1309.72 577.42L1310.22 575.96L1310.71 574.49L1311.21 573.03L1311.69 571.56L1312.18 570.09L1312.66 568.62L1313.14 567.15M1314.36 563.40L1314.83 561.93L1315.30 560.45L1315.77 558.97L1316.24 557.50L1316.70 556.02L1317.17 554.54L1317.63 553.06M1319.08 548.35L1319.53 546.87L1319.98 545.39L1320.43 543.91L1320.88 542.42L1321.33 540.94L1321.77 539.45L1322.21 537.97L1322.65 536.48L1323.09 535.00L1323.53 533.51L1323.97 532.02L1324.40 530.53L1324.84 529.05L1325.27 527.56M1326.36 523.77L1326.79 522.28L1327.22 520.78L1327.64 519.29L1328.06 517.80L1328.49 516.31L1328.91 514.82L1329.33 513.32M1330.66 508.57L1331.07 507.08L1331.49 505.58L1331.90 504.09L1332.31 502.59L1332.73 501.10L1333.14 499.60L1333.55 498.10L1333.95 496.61L1334.36 495.11L1334.77 493.61L1335.17 492.11L1335.58 490.62L1335.98 489.12L1336.39 487.62M1337.41 483.81L1337.81 482.31L1338.21 480.81L1338.61 479.31L1339.01 477.81L1339.40 476.31L1339.80 474.81L1340.20 473.31M1341.45 468.53L1341.85 467.03L1342.24 465.53L1342.63 464.02L1343.02 462.52L1343.41 461.02L1343.80 459.52L1344.19 458.01L1344.58 456.51L1344.97 455.01L1345.36 453.51L1345.75 452.00L1346.14 450.50L1346.52 449.00L1346.91 447.49M1347.89 443.66L1348.27 442.16L1348.66 440.65L1349.04 439.15L1349.43 437.65L1349.81 436.14L1350.19 434.64L1350.58 433.13M1351.79 428.34L1352.17 426.84L1352.55 425.33L1352.93 423.83L1353.31 422.32L1353.69 420.81L1354.07 419.31L1354.45 417.80L1354.83 416.30L1355.21 414.79L1355.59 413.29L1355.97 411.78L1356.34 410.27L1356.72 408.77L1357.10 407.26M1358.06 403.43L1358.44 401.92L1358.81 400.42L1359.18 398.91L1359.56 397.41L1359.93 395.90L1360.30 394.40L1360.67 392.89M1361.85 388.11L1362.23 386.60L1362.60 385.10L1362.97 383.59L1363.34 382.09L1363.71 380.58L1364.08 379.08L1364.46 377.57L1364.83 376.07L1365.20 374.56L1365.57 373.06L1365.94 371.56L1366.31 370.05L1366.69 368.55L1367.06 367.04M1368.00 363.21L1368.38 361.71L1368.75 360.20L1369.12 358.70L1369.49 357.19L1369.87 355.69L1370.24 354.19L1370.61 352.68M1371.80 347.90L1372.17 346.39L1372.55 344.89L1372.92 343.38L1373.29 341.88L1373.67 340.38L1374.04 338.87L1374.42 337.37L1374.79 335.87L1375.17 334.36L1375.54 332.86L1375.92 331.36L1376.30 329.85L1376.67 328.35L1377.05 326.85M1378.01 323.02L1378.39 321.52L1378.77 320.02L1379.14 318.51L1379.52 317.01L1379.90 315.51L1380.28 314.01L1380.66 312.51M1381.88 307.73L1382.26 306.23L1382.64 304.73L1383.02 303.22L1383.41 301.72L1383.79 300.22L1384.18 298.72L1384.56 297.22L1384.95 295.72L1385.33 294.22L1385.72 292.72L1386.11 291.22L1386.49 289.72L1386.88 288.22L1387.27 286.72M1388.27 282.91L1388.66 281.41L1389.05 279.91L1389.44 278.41L1389.84 276.92L1390.23 275.42L1390.62 273.92L1391.02 272.42M1392.28 267.66L1392.68 266.17L1393.08 264.67L1393.48 263.18L1393.88 261.68L1394.29 260.19L1394.69 258.69L1395.09 257.20L1395.50 255.70L1395.90 254.21L1396.31 252.72L1396.72 251.22L1397.13 249.73L1397.54 248.24L1397.95 246.75M1399.00 242.95L1399.41 241.46L1399.83 239.97L1400.25 238.48L1400.66 236.99L1401.08 235.50L1401.50 234.01L1401.93 232.52M1403.28 227.79L1403.70 226.31L1404.13 224.82L1404.56 223.33L1404.99 221.85L1405.43 220.37L1405.86 218.88L1406.30 217.40L1406.73 215.92L1407.17 214.43L1407.61 212.95L1408.05 211.47L1408.50 209.99L1408.94 208.51L1409.39 207.03M1410.54 203.27L1410.99 201.79L1411.44 200.31L1411.90 198.84L1412.36 197.36L1412.82 195.89L1413.29 194.41L1413.75 192.94M1415.25 188.26L1415.72 186.79L1416.20 185.33L1416.68 183.86L1417.16 182.39L1417.64 180.93L1418.13 179.46L1418.62 178.00L1419.11 176.54L1419.60 175.08L1420.10 173.62L1420.60 172.16L1421.10 170.70L1421.61 169.24L1422.12 167.79M1423.43 164.09L1423.95 162.64L1424.48 161.19L1425.00 159.74L1425.54 158.30L1426.07 156.85L1426.61 155.41L1427.15 153.97M1428.91 149.39L1429.47 147.96L1430.03 146.53L1430.60 145.10L1431.17 143.68L1431.75 142.26L1432.34 140.83L1432.93 139.41L1433.52 138.00L1434.12 136.58L1434.73 135.17L1435.34 133.76L1435.96 132.36L1436.59 130.95L1437.22 129.55M1438.86 126.01L1439.52 124.62L1440.18 123.24L1440.85 121.87L1441.54 120.50L1442.23 119.13L1442.93 117.77L1443.64 116.41M1445.96 112.14L1446.71 110.81L1447.48 109.50L1448.25 108.19L1449.04 106.89L1449.85 105.60L1450.67 104.31L1451.51 103.04L1452.36 101.78L1453.23 100.53L1454.12 99.30L1455.03 98.08L1455.96 96.87L1456.91 95.69L1457.89 94.52M1460.48 91.67L1461.54 90.61L1462.63 89.58L1463.76 88.58L1464.92 87.63L1466.12 86.72L1467.35 85.86L1468.63 85.06M1472.91 83.03L1474.33 82.58L1475.78 82.24L1477.25 82.00L1478.74 81.89L1480.23 81.92L1481.71 82.08L1483.17 82.36L1484.61 82.75L1486.02 83.23L1487.39 83.81L1488.73 84.48L1490.02 85.22L1491.28 86.02L1492.49 86.88M1495.45 89.30L1496.56 90.33L1497.64 91.39L1498.69 92.48L1499.70 93.60L1500.70 94.74L1501.66 95.90L1502.61 97.08M1505.48 100.97L1506.35 102.22L1507.20 103.49L1508.03 104.77L1508.85 106.06L1509.65 107.36L1510.44 108.66L1511.22 109.98L1511.98 111.30L1512.73 112.63L1513.47 113.97L1514.19 115.31L1514.91 116.66L1515.62 118.01L1516.31 119.37M1518.05 122.86L1518.72 124.24L1519.38 125.62L1520.04 127.01L1520.68 128.40L1521.32 129.80L1521.95 131.19L1522.57 132.59M1524.52 137.08L1525.12 138.49L1525.72 139.91L1526.30 141.33L1526.89 142.76L1527.47 144.18L1528.04 145.61L1528.61 147.04L1529.17 148.47L1529.73 149.90L1530.29 151.34L1530.84 152.77L1531.39 154.21L1531.93 155.65L1532.47 157.09M1533.82 160.77L1534.35 162.22L1534.87 163.67L1535.39 165.12L1535.91 166.57L1536.42 168.03L1536.93 169.48L1537.44 170.94M1539.03 175.58L1539.53 177.04L1540.02 178.50L1540.51 179.97L1540.99 181.43L1541.48 182.90L1541.96 184.37L1542.44 185.83L1542.92 187.30L1543.39 188.77L1543.86 190.24L1544.33 191.71L1544.80 193.18L1545.27 194.65L1545.73 196.12M1546.90 199.88L1547.36 201.35L1547.82 202.83L1548.27 204.31L1548.72 205.79L1549.17 207.27L1549.62 208.75L1550.07 210.23M1551.48 214.95L1551.92 216.44L1552.36 217.93L1552.80 219.41L1553.23 220.90L1553.67 222.39L1554.10 223.87L1554.53 225.36L1554.96 226.85L1555.39 228.34L1555.82 229.83L1556.25 231.32L1556.67 232.81L1557.09 234.30L1557.52 235.79M1558.59 239.59L1559.01 241.08L1559.42 242.58L1559.84 244.07L1560.25 245.56L1560.67 247.06L1561.08 248.55L1561.49 250.05M1562.80 254.80L1563.10 255.92" stroke="#ff0000"/>
<path d="M100.00 209.15L101.53 209.15L103.05 209.15L104.58 209.15L106.10 209.15L107.63 209.15L109.15 209.15L110.68 209.15L112.20 209.15L113.65 209.44L114.92 210.27L116.16 211.16L117.36 212.10L118.53 213.09L119.66 214.11M131.48 229.67L132.29 230.99L133.08 232.32L133.86 233.66L134.63 235.00L135.38 236.35L136.13 237.70L136.86 239.06L137.58 240.43L138.29 241.80L139.00 243.18L139.69 244.56L140.38 245.95L141.05 247.34L141.72 248.73M149.64 266.79L150.23 268.23L150.80 269.67L151.38 271.11L151.95 272.56L152.51 274.00L153.07 275.45L153.63 276.90L154.18 278.35L154.73 279.80L155.27 281.26L155.81 282.71L156.35 284.17L156.88 285.63L157.41 287.09M163.87 305.77L164.36 307.25L164.85 308.73L165.33 310.20L165.81 311.68L166.29 313.16L166.77 314.64L167.24 316.12L167.72 317.60L168.19 319.09L168.65 320.57L169.12 322.05L169.59 323.54L170.05 325.02L170.51 326.51M176.22 345.46L176.66 346.96L177.10 348.45L177.54 349.94L177.97 351.44L178.41 352.93L178.84 354.43L179.27 355.92L179.70 357.42L180.13 358.92L180.55 360.41L180.98 361.91L181.40 363.41L181.83 364.91L182.25 366.40M187.54 385.50L187.94 387.00L188.35 388.51L188.76 390.01L189.17 391.51L189.57 393.02L189.98 394.52L190.38 396.02L190.78 397.53L191.19 399.03L191.59 400.54L191.99 402.04L192.39 403.55L192.79 405.05L193.19 406.56M198.21 425.71L198.60 427.21L198.99 428.72L199.38 430.22L199.77 431.72L200.16 433.23L200.55 434.73L200.93 436.24L201.32 437.74L201.71 439.24L202.09 440.75L202.48 442.25L202.87 443.76L203.25 445.26L203.64 446.77M208.51 465.93L208.90 467.43L209.28 468.94L209.66 470.44L210.04 471.95L210.42 473.45L210.80 474.96L211.18 476.47L211.56 477.97L211.94 479.48L212.32 480.99L212.70 482.49L213.08 484.00L213.46 485.50L213.84 487.01M218.68 506.18L219.06 507.69L219.44 509.19L219.82 510.70L220.20 512.21L220.58 513.71L220.96 515.22L221.34 516.72L221.73 518.23L222.11 519.74L222.49 521.24L222.87 522.75L223.25 524.25L223.63 525.76L224.01 527.27M228.90 546.42L229.28 547.93L229.67 549.43L230.06 550.94L230.44 552.44L230.83 553.94L231.22 555.45L231.60 556.95L231.99 558.46L232.38 559.96L232.77 561.46L233.16 562.97L233.55 564.47L233.94 565.97L234.33 567.48M239.36 586.59L239.76 588.08L240.15 589.57L240.55 591.07L240.95 592.56L241.35 594.05L241.75 595.54L242.15 597.03L242.55 598.53L242.96 600.02L243.36 601.51L243.77 603.00L244.17 604.49L244.58 605.98L244.98 607.47M250.24 626.39L250.66 627.87L251.08 629.36L251.50 630.84L251.93 632.32L252.35 633.80L252.78 635.29L253.20 636.77L253.63 638.25L254.06 639.73L254.49 641.21L254.92 642.69L255.36 644.17L255.79 645.65L256.23 647.13M261.92 665.89L262.38 667.36L262.84 668.83L263.30 670.29L263.77 671.76L264.23 673.23L264.70 674.69L265.17 676.16L265.65 677.62L266.12 679.08L266.60 680.55L267.08 682.01L267.56 683.47L268.05 684.93L268.53 686.39M274.78 704.93L275.29 706.38L275.80 707.83L276.32 709.27L276.83 710.72L277.36 712.16L277.88 713.60L278.41 715.05L278.94 716.48L279.48 717.92L280.02 719.36L280.56 720.79L281.11 722.23L281.66 723.66L282.22 725.09M289.73 743.06L290.36 744.45L290.99 745.84L291.64 747.22L292.29 748.60L292.94 749.97L293.61 751.34L294.28 752.71L294.97 754.07L295.66 755.43L296.36 756.78L297.07 758.13L297.79 759.47L298.53 760.81L299.33 762.11M310.92 777.36L312.05 778.48L313.22 779.57L314.44 780.60L315.70 781.59L317.00 782.52L318.34 783.39L319.72 784.18L321.15 784.89L322.62 785.51L324.13 786.03L325.66 786.48L327.23 786.81L328.81 787.01M346.01 780.72L347.15 779.74L348.26 778.72L349.34 777.67L350.39 776.59L351.41 775.49L352.40 774.36L353.37 773.21L354.32 772.04L355.24 770.85L356.15 769.65L357.03 768.43L357.89 767.20L358.74 765.96L359.57 764.70M369.11 747.89L369.79 746.52L370.46 745.15L371.13 743.77L371.78 742.39L372.43 741.01L373.08 739.62L373.71 738.24L374.34 736.84L374.96 735.45L375.57 734.05L376.18 732.65L376.78 731.24L377.38 729.84L377.97 728.43M385.11 710.28L385.64 708.84L386.17 707.39L386.70 705.95L387.22 704.51L387.74 703.06L388.25 701.61L388.77 700.17L389.28 698.72L389.78 697.27L390.29 695.81L390.79 694.36L391.28 692.91L391.78 691.46L392.27 690.00M398.33 671.38L398.80 669.91L399.26 668.44L399.71 666.97L400.17 665.50L400.62 664.03L401.08 662.56L401.53 661.08L401.98 659.61L402.42 658.14L402.87 656.66L403.31 655.19L403.75 653.71L404.19 652.24L404.63 650.76M410.10 631.92L410.53 630.43L410.95 628.95L411.37 627.46L411.78 625.98L412.20 624.49L412.62 623.01L413.03 621.52L413.44 620.03L413.86 618.55L414.27 617.06L414.68 615.57L415.09 614.09L415.50 612.60L415.90 611.11M421.02 592.14L421.42 590.65L421.82 589.16L422.21 587.67L422.61 586.17L423.00 584.68L423.40 583.19L423.79 581.69L424.18 580.20L424.57 578.71L424.97 577.21L425.36 575.72L425.75 574.22L426.14 572.73L426.53 571.24M431.44 552.20L431.82 550.70L432.21 549.21L432.59 547.71L432.97 546.21L433.35 544.71L433.73 543.22L434.11 541.72L434.50 540.22L434.88 538.73L435.26 537.23L435.64 535.73L436.02 534.23L436.40 532.74L436.78 531.24M441.59 512.17L441.97 510.66L442.35 509.16L442.73 507.65L443.11 506.15L443.48 504.64L443.86 503.14L444.24 501.63L444.62 500.12L445.00 498.62L445.38 497.11L445.75 495.61L446.13 494.10L446.51 492.60L446.89 491.09M451.74 471.81L452.13 470.29L452.51 468.78L452.89 467.27L453.27 465.75L453.66 464.24L454.04 462.72L454.42 461.21L454.81 459.69L455.19 458.18L455.57 456.66L455.96 455.15L456.34 453.64L456.73 452.12L457.11 450.61M462.05 431.35L462.44 429.84L462.83 428.32L463.22 426.81L463.61 425.30L464.00 423.79L464.39 422.27L464.79 420.76L465.18 419.25L465.57 417.74L465.97 416.23L466.36 414.72L466.76 413.21L467.16 411.70L467.55 410.19M472.67 390.98L473.07 389.47L473.48 387.96L473.89 386.45L474.30 384.95L474.71 383.44L475.12 381.93L475.53 380.43L475.94 378.92L476.36 377.42L476.77 375.91L477.19 374.41L477.61 372.90L478.02 371.40L478.44 369.89M483.88 350.78L484.31 349.28L484.75 347.78L485.19 346.29L485.63 344.79L486.07 343.29L486.51 341.79L486.95 340.30L487.40 338.80L487.85 337.31L488.30 335.81L488.75 334.32L489.20 332.82L489.65 331.33L490.11 329.84M496.08 310.90L496.57 309.42L497.05 307.94L497.54 306.46L498.03 304.98L498.53 303.50L499.03 302.02L499.52 300.54L500.03 299.07L500.53 297.59L501.04 296.12L501.55 294.64L502.07 293.17L502.58 291.70L503.10 290.23M510.05 271.65L510.62 270.21L511.20 268.76L511.78 267.32L512.37 265.88L512.96 264.44L513.56 263.00L514.17 261.57L514.78 260.13L515.40 258.71L516.02 257.28L516.65 255.85L517.29 254.43L517.93 253.02L518.58 251.60M527.61 234.01L528.39 232.67L529.18 231.34L529.99 230.01L530.81 228.70L531.65 227.40L532.51 226.10L533.38 224.82L534.27 223.56L535.18 222.30L536.12 221.06L537.07 219.84L538.05 218.64L539.05 217.46L540.08 216.30M556.11 205.50L557.67 205.18L559.24 205.00L560.83 204.96L562.41 205.05L563.98 205.27L565.53 205.63L567.05 206.10L568.52 206.68L569.96 207.36L571.35 208.12L572.70 208.96L574.00 209.86L575.27 210.82M587.81 224.92L588.66 226.16L589.49 227.42L590.30 228.69L591.11 229.96L591.89 231.25L592.67 232.54L593.43 233.84L594.18 235.15L594.91 236.47L595.64 237.79L596.36 239.11L597.06 240.44L597.76 241.78L598.44 243.12M606.57 260.64L607.16 262.04L607.75 263.44L608.34 264.85L608.92 266.26L609.49 267.67L610.06 269.08L610.63 270.50L611.19 271.92L611.74 273.33L612.30 274.75L612.84 276.18L613.39 277.60L613.93 279.02L614.46 280.45M621.00 298.76L621.49 300.21L621.99 301.66L622.47 303.11L622.96 304.56L623.44 306.02L623.92 307.47L624.40 308.92L624.88 310.38L625.35 311.83L625.83 313.29L626.29 314.75L626.76 316.21L627.23 317.66L627.69 319.12M633.43 337.77L633.87 339.24L634.31 340.71L634.74 342.19L635.18 343.66L635.61 345.13L636.04 346.60L636.48 348.08L636.91 349.55L637.33 351.02L637.76 352.50L638.19 353.97L638.61 355.45L639.03 356.92L639.45 358.40M644.73 377.23L645.14 378.71L645.55 380.19L645.95 381.67L646.36 383.16L646.76 384.64L647.16 386.12L647.57 387.61L647.97 389.09L648.37 390.57L648.77 392.06L649.17 393.54L649.57 395.03L649.96 396.51L650.36 398.00M655.36 416.93L655.75 418.41L656.14 419.90L656.53 421.39L656.91 422.88L657.30 424.37L657.69 425.86L658.07 427.35L658.46 428.84L658.84 430.33L659.23 431.82L659.61 433.31L659.99 434.80L660.38 436.29L660.76 437.78M665.60 456.76L665.98 458.25L666.36 459.74L666.74 461.24L667.12 462.73L667.50 464.22L667.87 465.71L668.25 467.21L668.63 468.70L669.01 470.19L669.38 471.68L669.76 473.18L670.14 474.67L670.51 476.16L670.89 477.65M675.68 496.69L676.06 498.20L676.44 499.71L676.82 501.22L677.20 502.73L677.58 504.24L677.96 505.75L678.34 507.26L678.72 508.77L679.11 510.28L679.49 511.79L679.87 513.30L680.25 514.81L680.63 516.32L681.01 517.83M685.88 537.05L686.26 538.55L686.64 540.06L687.03 541.57L687.41 543.08L687.80 544.59L688.18 546.10L688.57 547.61L688.96 549.12L689.34 550.63L689.73 552.13L690.12 553.64L690.51 555.15L690.89 556.66L691.28 558.17M696.27 577.35L696.66 578.85L697.06 580.36L697.46 581.86L697.85 583.37L698.25 584.87L698.65 586.38L699.05 587.88L699.45 589.39L699.85 590.89L700.25 592.39L700.65 593.90L701.06 595.40L701.46 596.91L701.86 598.41M707.09 617.52L707.50 619.02L707.92 620.51L708.34 622.01L708.76 623.51L709.18 625.01L709.60 626.51L710.02 628.00L710.45 629.50L710.87 631.00L711.30 632.49L711.73 633.99L712.16 635.48L712.59 636.98L713.02 638.47M718.64 657.45L719.09 658.94L719.55 660.43L720.00 661.91L720.46 663.40L720.92 664.88L721.38 666.37L721.85 667.85L722.31 669.33L722.78 670.82L723.25 672.30L723.72 673.78L724.19 675.26L724.67 676.74L725.15 678.22M731.45 696.95L731.97 698.42L732.49 699.88L733.01 701.34L733.53 702.80L734.06 704.26L734.59 705.72L735.12 707.18L735.66 708.63L736.20 710.09L736.75 711.54L737.30 712.99L737.85 714.44L738.41 715.89L738.98 717.33M746.58 735.53L747.21 736.94L747.86 738.34L748.51 739.74L749.17 741.14L749.83 742.54L750.51 743.93L751.19 745.31L751.88 746.70L752.58 748.08L753.30 749.45L754.02 750.82L754.75 752.18L755.49 753.53L756.24 754.88M767.09 771.18L768.07 772.36L769.07 773.51L770.10 774.64L771.16 775.74L772.25 776.81L773.37 777.85L774.52 778.85L775.71 779.81L776.94 780.72L778.21 781.57L779.52 782.36L780.87 783.08L782.26 783.71L783.68 784.26M801.73 781.56L802.97 780.72L804.17 779.83L805.34 778.89L806.48 777.91L807.58 776.90L808.64 775.85L809.68 774.77L810.70 773.67L811.68 772.54L812.64 771.40L813.58 770.23L814.50 769.05L815.40 767.85L816.27 766.64M826.24 750.14L826.95 748.79L827.64 747.43L828.33 746.07L829.01 744.71L829.68 743.34L830.34 741.96L830.99 740.58L831.64 739.20L832.28 737.82L832.91 736.43L833.53 735.04L834.15 733.65L834.77 732.25L835.37 730.85M842.66 712.79L843.20 711.35L843.74 709.92L844.28 708.48L844.81 707.04L845.33 705.60L845.86 704.16L846.38 702.71L846.90 701.27L847.41 699.82L847.92 698.38L848.43 696.93L848.93 695.48L849.44 694.03L849.94 692.58M856.07 674.01L856.54 672.54L857.00 671.07L857.46 669.61L857.92 668.14L858.38 666.67L858.84 665.20L859.29 663.73L859.75 662.26L860.20 660.79L860.65 659.31L861.09 657.84L861.54 656.37L861.98 654.89L862.43 653.42M867.93 634.60L868.36 633.12L868.78 631.64L869.20 630.16L869.62 628.67L870.04 627.19L870.46 625.71L870.87 624.22L871.29 622.74L871.70 621.25L872.12 619.77L872.53 618.28L872.94 616.80L873.35 615.31L873.76 613.82M878.89 594.87L879.29 593.38L879.69 591.89L880.09 590.40L880.48 588.91L880.88 587.42L881.27 585.92L881.66 584.43L882.06 582.94L882.45 581.45L882.84 579.95L883.23 578.46L883.62 576.97L884.01 575.48L884.40 573.98M889.32 554.96L889.70 553.46L890.08 551.97L890.47 550.47L890.85 548.97L891.23 547.48L891.61 545.98L891.99 544.49L892.37 542.99L892.75 541.49L893.13 540.00L893.51 538.50L893.89 537.00L894.27 535.51L894.65 534.01M899.45 514.95L899.83 513.45L900.21 511.95L900.58 510.45L900.96 508.96L901.33 507.46L901.71 505.96L902.09 504.46L902.46 502.96L902.84 501.46L903.21 499.97L903.59 498.47L903.96 496.97L904.34 495.47L904.71 493.97M909.54 474.70L909.92 473.18L910.31 471.67L910.69 470.15L911.07 468.63L911.45 467.12L911.83 465.60L912.21 464.08L912.59 462.57L912.98 461.05L913.36 459.54L913.74 458.02L914.12 456.51L914.51 454.99L914.89 453.47M919.79 434.19L920.18 432.68L920.56 431.16L920.95 429.65L921.34 428.14L921.73 426.62L922.12 425.11L922.51 423.59L922.90 422.08L923.29 420.57L923.68 419.05L924.08 417.54L924.47 416.03L924.86 414.52L925.26 413.00M930.32 393.77L930.72 392.26L931.13 390.75L931.53 389.24L931.94 387.73L932.34 386.22L932.75 384.71L933.16 383.20L933.56 381.69L933.97 380.19L934.38 378.68L934.79 377.17L935.21 375.66L935.62 374.16L936.03 372.65M941.39 353.50L941.82 352.00L942.25 350.50L942.68 348.99L943.12 347.49L943.55 345.99L943.99 344.49L944.42 342.99L944.86 341.49L945.30 340.00L945.74 338.50L946.19 337.00L946.63 335.50L947.08 334.00L947.53 332.51M953.38 313.52L953.86 312.03L954.33 310.54L954.81 309.06L955.29 307.57L955.77 306.09L956.26 304.60L956.75 303.12L957.24 301.64L957.73 300.16L958.22 298.68L958.72 297.20L959.22 295.72L959.73 294.24L960.23 292.77M966.97 274.09L967.52 272.63L968.08 271.17L968.64 269.72L969.21 268.27L969.78 266.82L970.36 265.37L970.94 263.92L971.53 262.48L972.12 261.04L972.71 259.60L973.32 258.16L973.93 256.72L974.54 255.29L975.16 253.86M983.70 235.98L984.43 234.61L985.17 233.25L985.93 231.89L986.69 230.54L987.47 229.19L988.26 227.85L989.07 226.52L989.89 225.20L990.72 223.89L991.58 222.59L992.44 221.31L993.33 220.03L994.24 218.77L995.16 217.52M1009.36 204.05L1010.67 203.35L1012.03 202.72L1013.42 202.18L1014.84 201.74L1016.30 201.40L1017.77 201.17L1019.26 201.06L1020.75 201.07L1022.24 201.20L1023.71 201.45L1025.15 201.81L1026.57 202.28L1027.96 202.83L1029.30 203.48M1043.22 215.80L1044.14 216.97L1045.05 218.17L1045.93 219.38L1046.79 220.60L1047.64 221.83L1048.47 223.08L1049.28 224.33L1050.08 225.60L1050.87 226.87L1051.64 228.15L1052.40 229.44L1053.15 230.74L1053.89 232.04L1054.61 233.35M1063.12 250.58L1063.74 251.97L1064.35 253.35L1064.96 254.75L1065.56 256.14L1066.15 257.54L1066.74 258.93L1067.33 260.33L1067.91 261.74L1068.48 263.14L1069.05 264.55L1069.61 265.96L1070.17 267.37L1070.73 268.78L1071.28 270.20M1077.98 288.38L1078.49 289.82L1078.99 291.26L1079.49 292.71L1079.99 294.15L1080.48 295.60L1080.97 297.04L1081.46 298.49L1081.94 299.94L1082.43 301.38L1082.91 302.83L1083.38 304.28L1083.86 305.73L1084.33 307.19L1084.80 308.64M1090.63 327.21L1091.07 328.68L1091.52 330.14L1091.96 331.61L1092.40 333.07L1092.84 334.54L1093.28 336.01L1093.71 337.48L1094.15 338.94L1094.58 340.41L1095.01 341.88L1095.44 343.35L1095.87 344.82L1096.30 346.29L1096.72 347.76M1102.05 366.54L1102.46 368.01L1102.87 369.49L1103.28 370.97L1103.68 372.45L1104.09 373.93L1104.50 375.41L1104.90 376.89L1105.31 378.37L1105.71 379.85L1106.11 381.33L1106.51 382.81L1106.91 384.29L1107.31 385.77L1107.71 387.25M1112.73 406.14L1113.12 407.62L1113.51 409.11L1113.90 410.59L1114.29 412.08L1114.68 413.56L1115.07 415.05L1115.45 416.54L1115.84 418.02L1116.23 419.51L1116.61 421.00L1117.00 422.48L1117.38 423.97L1117.76 425.46L1118.15 426.94M1123.00 445.89L1123.37 447.38L1123.75 448.87L1124.13 450.36L1124.51 451.85L1124.89 453.34L1125.26 454.83L1125.64 456.32L1126.02 457.81L1126.39 459.30L1126.77 460.79L1127.15 462.28L1127.52 463.77L1127.90 465.26L1128.28 466.75M1133.07 485.80L1133.45 487.32L1133.83 488.84L1134.21 490.36L1134.60 491.88L1134.98 493.39L1135.36 494.91L1135.74 496.43L1136.12 497.95L1136.50 499.46L1136.88 500.98L1137.26 502.50L1137.65 504.02L1138.03 505.53L1138.41 507.05M1143.28 526.36L1143.66 527.88L1144.05 529.40L1144.43 530.91L1144.82 532.43L1145.20 533.95L1145.59 535.47L1145.97 536.98L1146.36 538.50L1146.74 540.01L1147.13 541.53L1147.52 543.05L1147.90 544.56L1148.29 546.08L1148.68 547.60M1153.65 566.88L1154.05 568.39L1154.44 569.91L1154.84 571.42L1155.23 572.93L1155.63 574.45L1156.02 575.96L1156.42 577.48L1156.82 578.99L1157.22 580.50L1157.62 582.01L1158.02 583.53L1158.42 585.04L1158.82 586.55L1159.22 588.06M1164.41 607.29L1164.82 608.80L1165.24 610.30L1165.65 611.81L1166.07 613.32L1166.49 614.83L1166.90 616.33L1167.32 617.84L1167.74 619.35L1168.17 620.85L1168.59 622.36L1169.01 623.87L1169.44 625.37L1169.86 626.88L1170.29 628.38M1175.85 647.49L1176.29 648.99L1176.74 650.49L1177.19 651.99L1177.64 653.48L1178.10 654.98L1178.55 656.48L1179.01 657.97L1179.47 659.47L1179.93 660.96L1180.39 662.45L1180.86 663.95L1181.32 665.44L1181.79 666.93L1182.26 668.42M1188.45 687.33L1188.95 688.81L1189.46 690.29L1189.97 691.76L1190.48 693.24L1191.00 694.71L1191.51 696.19L1192.04 697.66L1192.56 699.13L1193.09 700.60L1193.62 702.07L1194.16 703.54L1194.70 705.00L1195.24 706.47L1195.79 707.93M1203.15 726.39L1203.76 727.83L1204.38 729.26L1205.01 730.69L1205.64 732.11L1206.28 733.54L1206.93 734.96L1207.58 736.37L1208.24 737.79L1208.91 739.19L1209.59 740.60L1210.28 742.00L1210.97 743.40L1211.67 744.79L1212.39 746.18M1222.53 763.20L1223.43 764.46L1224.35 765.71L1225.30 766.94L1226.26 768.16L1227.25 769.36L1228.27 770.53L1229.31 771.68L1230.39 772.80L1231.49 773.89L1232.63 774.95L1233.80 775.97L1235.01 776.94L1236.26 777.86L1237.55 778.73M1255.94 781.22L1257.42 780.62L1258.85 779.92L1260.24 779.14L1261.59 778.29L1262.89 777.37L1264.15 776.39L1265.37 775.36L1266.55 774.29L1267.70 773.19L1268.81 772.04L1269.89 770.87L1270.94 769.67L1271.97 768.45M1282.61 752.55L1283.36 751.22L1284.09 749.89L1284.81 748.56L1285.52 747.22L1286.22 745.87L1286.92 744.52L1287.60 743.17L1288.27 741.81L1288.94 740.44L1289.60 739.08L1290.25 737.70L1290.89 736.33L1291.52 734.95L1292.15 733.57M1299.67 715.68L1300.23 714.26L1300.78 712.83L1301.33 711.40L1301.88 709.98L1302.42 708.55L1302.95 707.11L1303.49 705.68L1304.02 704.24L1304.54 702.81L1305.06 701.37L1305.58 699.93L1306.10 698.49L1306.61 697.05L1307.12 695.61M1313.36 677.13L1313.84 675.67L1314.31 674.21L1314.78 672.75L1315.25 671.29L1315.71 669.82L1316.17 668.36L1316.63 666.89L1317.09 665.43L1317.55 663.96L1318.01 662.50L1318.46 661.03L1318.91 659.56L1319.36 658.10L1319.81 656.63M1325.37 637.88L1325.80 636.40L1326.23 634.92L1326.65 633.44L1327.08 631.96L1327.50 630.49L1327.92 629.01L1328.34 627.53L1328.76 626.05L1329.18 624.57L1329.59 623.08L1330.01 621.60L1330.42 620.12L1330.84 618.64L1331.25 617.16M1336.41 598.26L1336.81 596.77L1337.21 595.28L1337.61 593.80L1338.01 592.31L1338.40 590.82L1338.80 589.33L1339.20 587.84L1339.59 586.35L1339.98 584.87L1340.38 583.38L1340.77 581.89L1341.16 580.40L1341.55 578.91L1341.94 577.42M1346.87 558.44L1347.25 556.94L1347.64 555.45L1348.02 553.96L1348.40 552.46L1348.78 550.97L1349.17 549.48L1349.55 547.98L1349.93 546.49L1350.31 545.00L1350.69 543.50L1351.07 542.01L1351.45 540.52L1351.83 539.02L1352.21 537.53M1357.00 518.50L1357.38 516.99L1357.76 515.48L1358.14 513.96L1358.52 512.45L1358.90 510.93L1359.28 509.42L1359.66 507.90L1360.04 506.39L1360.42 504.88L1360.80 503.36L1361.18 501.85L1361.56 500.33L1361.94 498.82L1362.32 497.30M1367.16 477.94L1367.54 476.42L1367.92 474.90L1368.30 473.38L1368.68 471.86L1369.06 470.34L1369.44 468.82L1369.82 467.29L1370.21 465.77L1370.59 464.25L1370.97 462.73L1371.35 461.21L1371.73 459.69L1372.11 458.17L1372.50 456.65M1377.39 437.30L1377.77 435.78L1378.16 434.26L1378.55 432.74L1378.94 431.22L1379.32 429.70L1379.71 428.18L1380.10 426.66L1380.49 425.14L1380.88 423.63L1381.27 422.11L1381.66 420.59L1382.05 419.07L1382.44 417.55L1382.83 416.03M1387.87 396.72L1388.27 395.21L1388.67 393.69L1389.07 392.17L1389.48 390.66L1389.88 389.14L1390.28 387.63L1390.69 386.11L1391.09 384.60L1391.50 383.09L1391.90 381.57L1392.31 380.06L1392.72 378.54L1393.13 377.03L1393.54 375.52M1398.85 356.28L1399.27 354.77L1399.70 353.26L1400.13 351.76L1400.55 350.25L1400.98 348.74L1401.41 347.23L1401.85 345.73L1402.28 344.22L1402.71 342.71L1403.15 341.21L1403.59 339.70L1404.03 338.20L1404.47 336.69L1404.91 335.19M1410.68 316.09L1411.14 314.59L1411.61 313.10L1412.08 311.60L1412.55 310.11L1413.03 308.61L1413.50 307.12L1413.98 305.63L1414.46 304.14L1414.95 302.65L1415.43 301.16L1415.92 299.67L1416.41 298.18L1416.90 296.69L1417.40 295.20M1423.97 276.38L1424.51 274.90L1425.05 273.44L1425.60 271.97L1426.15 270.50L1426.71 269.04L1427.26 267.57L1427.83 266.11L1428.40 264.65L1428.97 263.19L1429.55 261.74L1430.13 260.28L1430.72 258.83L1431.31 257.38L1431.91 255.93M1440.08 237.76L1440.77 236.36L1441.48 234.96L1442.19 233.57L1442.91 232.18L1443.65 230.80L1444.39 229.42L1445.15 228.05L1445.92 226.69L1446.70 225.33L1447.49 223.98L1448.30 222.64L1449.12 221.31L1449.96 219.99L1450.82 218.68M1463.64 203.56L1464.85 202.58L1466.10 201.65L1467.39 200.78L1468.73 199.97L1470.10 199.24L1471.52 198.60L1472.98 198.05L1474.47 197.60L1476.00 197.27L1477.54 197.07L1479.10 197.00L1480.66 197.07L1482.20 197.26L1483.73 197.58M1499.86 208.66L1500.89 209.84L1501.89 211.04L1502.87 212.26L1503.82 213.50L1504.76 214.76L1505.67 216.03L1506.56 217.31L1507.43 218.61L1508.29 219.92L1509.13 221.24L1509.95 222.57L1510.76 223.91L1511.55 225.25L1512.34 226.61M1521.36 244.36L1522.00 245.79L1522.65 247.22L1523.28 248.65L1523.91 250.08L1524.53 251.52L1525.15 252.96L1525.76 254.40L1526.36 255.85L1526.96 257.29L1527.56 258.74L1528.14 260.19L1528.73 261.65L1529.31 263.10L1529.88 264.56M1536.81 283.25L1537.33 284.73L1537.85 286.21L1538.36 287.69L1538.87 289.17L1539.38 290.66L1539.89 292.14L1540.39 293.62L1540.89 295.11L1541.38 296.60L1541.88 298.08L1542.37 299.57L1542.86 301.06L1543.34 302.55L1543.83 304.04M1549.78 323.02L1550.23 324.51L1550.68 325.99L1551.13 327.47L1551.57 328.96L1552.02 330.44L1552.46 331.92L1552.90 333.41L1553.34 334.89L1553.78 336.38L1554.21 337.87L1554.65 339.35L1555.08 340.84L1555.51 342.33L1555.94 343.82M1561.31 362.80L1561.67 364.09L1562.03 365.38L1562.39 366.68L1562.74 367.97L1563.10 369.26" stroke="#000000"/>
<path d="M100.00 440.55L101.52 440.55L103.04 440.55L104.56 440.55L106.08 440.55L107.60 440.55L109.12 440.55L110.60 440.79L112.02 441.34L113.40 441.97L114.74 442.69L116.04 443.48L117.30 444.32L118.52 445.23L119.71 446.18M131.31 461.85L132.11 463.17L132.88 464.50L133.65 465.84L134.41 467.18L135.17 468.53L135.92 469.88L136.66 471.23L137.38 472.60L138.10 473.96L138.80 475.34L139.50 476.71L140.18 478.09L140.86 479.48L141.53 480.87M149.47 498.89L150.06 500.32L150.64 501.76L151.21 503.20L151.78 504.64L152.35 506.08L152.91 507.53L153.47 508.97L154.02 510.42L154.57 511.87L155.11 513.32L155.65 514.77L156.19 516.23L156.72 517.68L157.25 519.14M163.72 537.80L164.21 539.27L164.70 540.74L165.19 542.22L165.67 543.70L166.15 545.17L166.62 546.65L167.10 548.13L167.57 549.61L168.04 551.09L168.51 552.57L168.98 554.05L169.45 555.53L169.91 557.01L170.37 558.50M176.09 577.43L176.53 578.92L176.96 580.41L177.40 581.90L177.83 583.40L178.27 584.89L178.70 586.38L179.13 587.88L179.56 589.37L179.98 590.87L180.41 592.36L180.84 593.86L181.26 595.35L181.68 596.85L182.11 598.35M187.39 617.42L187.80 618.92L188.21 620.42L188.62 621.92L189.03 623.42L189.43 624.93L189.84 626.43L190.24 627.93L190.65 629.43L191.05 630.93L191.46 632.44L191.86 633.94L192.26 635.44L192.66 636.95L193.06 638.45M198.09 657.58L198.48 659.08L198.87 660.58L199.26 662.08L199.65 663.58L200.04 665.08L200.43 666.58L200.82 668.08L201.21 669.59L201.60 671.09L201.98 672.59L202.37 674.09L202.76 675.59L203.14 677.10L203.53 678.60M208.41 697.73L208.80 699.23L209.18 700.73L209.56 702.24L209.94 703.74L210.32 705.24L210.70 706.75L211.09 708.25L211.47 709.76L211.85 711.26L212.23 712.76L212.61 714.27L212.99 715.77L213.37 717.27L213.75 718.78M218.60 737.92L218.98 739.42L219.36 740.93L219.74 742.43L220.12 743.94L220.50 745.44L220.88 746.94L221.26 748.45L221.64 749.95L222.03 751.45L222.41 752.96L222.79 754.46L223.17 755.97L223.55 757.47L223.94 758.97M228.83 778.10L229.21 779.60L229.60 781.10L229.99 782.61L230.37 784.11L230.76 785.61L231.15 787.11L231.54 788.61L231.93 790.11L232.32 791.61L232.71 793.12L233.10 794.62L233.49 796.12L233.88 797.62L234.27 799.12M239.30 818.20L239.70 819.70L240.10 821.19L240.50 822.69L240.90 824.19L241.30 825.68L241.71 827.18L242.11 828.67L242.51 830.17L242.92 831.66L243.33 833.16L243.73 834.65L244.14 836.15L244.54 837.64L244.95 839.14M250.19 858.13L250.61 859.61L251.03 861.10L251.45 862.59L251.87 864.08L252.29 865.57L252.72 867.06L253.14 868.54L253.57 870.03L254.00 871.52L254.43 873.00L254.86 874.49L255.29 875.97L255.73 877.46L256.16 878.94M261.84 897.78L262.29 899.26L262.75 900.73L263.21 902.21L263.68 903.68L264.14 905.15L264.61 906.63L265.08 908.10L265.55 909.57L266.02 911.04L266.50 912.51L266.98 913.98L267.46 915.44L267.94 916.91L268.43 918.38M274.77 936.96L275.29 938.41L275.81 939.86L276.33 941.31L276.86 942.76L277.39 944.20L277.93 945.65L278.47 947.09L279.01 948.53L279.56 949.97L280.11 951.41L280.66 952.85L281.22 954.28L281.79 955.72L282.36 957.15M290.17 975.07L290.82 976.45L291.49 977.83L292.17 979.20L292.85 980.57L293.54 981.93L294.24 983.29L294.95 984.65L295.68 986.00L296.41 987.34L297.15 988.68L297.91 990.01L298.68 991.33L299.50 992.62L300.34 993.90M312.63 1008.71L313.76 1009.68L314.94 1010.60L316.15 1011.48L317.40 1012.30L318.69 1013.05L320.01 1013.74L321.37 1014.35L322.77 1014.88L324.20 1015.31L325.65 1015.70L327.11 1015.97L328.60 1016.13L330.09 1016.18L331.59 1016.14M348.28 1007.83L349.37 1006.78L350.43 1005.69L351.47 1004.58L352.47 1003.44L353.45 1002.28L354.41 1001.10L355.34 999.91L356.26 998.69L357.15 997.47L358.02 996.23L358.88 994.97L359.72 993.71L360.55 992.43L361.36 991.15M370.68 974.07L371.35 972.69L372.01 971.30L372.67 969.91L373.31 968.52L373.95 967.13L374.58 965.73L375.21 964.32L375.83 962.92L376.44 961.51L377.05 960.10L377.65 958.69L378.25 957.27L378.84 955.85L379.42 954.43M386.50 936.16L387.03 934.71L387.55 933.26L388.08 931.81L388.59 930.36L389.11 928.91L389.62 927.45L390.13 926.00L390.64 924.54L391.15 923.08L391.65 921.62L392.14 920.16L392.64 918.70L393.13 917.24L393.62 915.78M399.67 897.08L400.13 895.60L400.59 894.13L401.05 892.65L401.51 891.17L401.96 889.70L402.41 888.22L402.86 886.74L403.31 885.26L403.76 883.78L404.20 882.30L404.65 880.82L405.09 879.34L405.53 877.86L405.97 876.38M411.45 857.47L411.87 855.98L412.29 854.49L412.71 853.00L413.13 851.51L413.55 850.02L413.97 848.53L414.38 847.04L414.80 845.55L415.21 844.06L415.62 842.56L416.04 841.07L416.45 839.58L416.86 838.09L417.27 836.59M422.41 817.57L422.81 816.07L423.21 814.58L423.60 813.08L424.00 811.58L424.40 810.09L424.79 808.59L425.19 807.09L425.58 805.59L425.98 804.10L426.37 802.60L426.77 801.10L427.16 799.60L427.55 798.10L427.94 796.61M432.89 777.52L433.28 776.02L433.66 774.52L434.05 773.02L434.43 771.52L434.82 770.02L435.20 768.52L435.59 767.01L435.97 765.51L436.36 764.01L436.74 762.51L437.12 761.01L437.51 759.51L437.89 758.01L438.27 756.51M443.14 737.39L443.52 735.89L443.90 734.38L444.28 732.87L444.66 731.37L445.05 729.86L445.43 728.35L445.81 726.85L446.19 725.34L446.58 723.83L446.96 722.33L447.34 720.82L447.72 719.31L448.11 717.81L448.49 716.30M453.37 697.11L453.76 695.60L454.14 694.09L454.53 692.59L454.91 691.08L455.30 689.57L455.68 688.06L456.07 686.56L456.46 685.05L456.84 683.54L457.23 682.03L457.62 680.53L458.01 679.02L458.39 677.51L458.78 676.01M463.76 656.84L464.16 655.34L464.55 653.83L464.95 652.33L465.34 650.82L465.74 649.32L466.13 647.82L466.53 646.31L466.93 644.81L467.33 643.31L467.73 641.80L468.13 640.30L468.53 638.80L468.93 637.29L469.33 635.79M474.51 616.69L474.93 615.19L475.34 613.69L475.76 612.19L476.17 610.69L476.59 609.20L477.00 607.70L477.42 606.20L477.84 604.70L478.26 603.21L478.69 601.71L479.11 600.22L479.53 598.72L479.96 597.22L480.38 595.73M485.92 576.74L486.36 575.25L486.81 573.77L487.26 572.28L487.71 570.79L488.16 569.30L488.61 567.82L489.06 566.33L489.52 564.85L489.98 563.36L490.44 561.88L490.90 560.40L491.36 558.92L491.83 557.43L492.29 555.95M498.43 537.17L498.93 535.71L499.43 534.24L499.93 532.77L500.44 531.31L500.95 529.84L501.46 528.38L501.98 526.92L502.50 525.46L503.02 524.00L503.55 522.54L504.08 521.08L504.61 519.62L505.14 518.17L505.68 516.71M512.92 498.38L513.52 496.96L514.13 495.53L514.74 494.12L515.36 492.70L515.98 491.28L516.61 489.87L517.25 488.47L517.89 487.06L518.55 485.66L519.21 484.26L519.87 482.87L520.55 481.48L521.23 480.09L521.92 478.71M531.66 461.70L532.51 460.43L533.38 459.17L534.27 457.92L535.18 456.69L536.11 455.47L537.06 454.27L538.04 453.09L539.04 451.93L540.06 450.79L541.11 449.68L542.20 448.59L543.31 447.54L544.46 446.53L545.64 445.56M563.43 439.90L564.90 440.19L566.35 440.58L567.77 441.08L569.15 441.66L570.49 442.33L571.79 443.07L573.06 443.88L574.29 444.74L575.48 445.65L576.63 446.61L577.75 447.60L578.84 448.63L579.90 449.69L580.93 450.78M592.31 466.39L593.09 467.71L593.87 469.03L594.63 470.36L595.37 471.69L596.11 473.03L596.84 474.38L597.55 475.73L598.26 477.09L598.95 478.45L599.64 479.82L600.32 481.19L600.99 482.57L601.65 483.95L602.31 485.33M610.10 503.26L610.68 504.69L611.25 506.12L611.82 507.55L612.38 508.98L612.94 510.42L613.49 511.86L614.04 513.30L614.59 514.74L615.13 516.18L615.67 517.62L616.20 519.06L616.73 520.51L617.26 521.96L617.78 523.41M624.19 541.96L624.68 543.43L625.16 544.89L625.64 546.36L626.12 547.83L626.60 549.30L627.07 550.77L627.55 552.24L628.02 553.71L628.48 555.18L628.95 556.65L629.41 558.13L629.88 559.60L630.34 561.07L630.79 562.55M636.48 581.38L636.92 582.87L637.36 584.35L637.79 585.83L638.22 587.32L638.66 588.80L639.09 590.29L639.51 591.78L639.94 593.26L640.37 594.75L640.79 596.24L641.22 597.73L641.64 599.21L642.06 600.70L642.48 602.19M647.75 621.17L648.16 622.66L648.57 624.16L648.98 625.65L649.38 627.14L649.79 628.64L650.19 630.13L650.59 631.63L651.00 633.12L651.40 634.62L651.80 636.11L652.20 637.61L652.60 639.11L653.00 640.60L653.40 642.10M658.42 661.16L658.81 662.66L659.20 664.16L659.59 665.66L659.98 667.16L660.37 668.65L660.76 670.15L661.15 671.65L661.54 673.15L661.93 674.65L662.32 676.15L662.70 677.65L663.09 679.15L663.48 680.65L663.86 682.15M668.76 701.26L669.14 702.76L669.52 704.26L669.91 705.76L670.29 707.26L670.67 708.76L671.05 710.26L671.44 711.77L671.82 713.27L672.20 714.77L672.58 716.27L672.97 717.77L673.35 719.27L673.73 720.78L674.11 722.28M678.99 741.44L679.37 742.95L679.75 744.45L680.14 745.96L680.52 747.46L680.90 748.97L681.29 750.48L681.67 751.98L682.06 753.49L682.44 754.99L682.83 756.50L683.21 758.01L683.60 759.51L683.98 761.02L684.37 762.52M689.30 781.68L689.69 783.18L690.08 784.69L690.47 786.19L690.86 787.69L691.25 789.20L691.65 790.70L692.04 792.21L692.43 793.71L692.82 795.21L693.22 796.72L693.61 798.22L694.01 799.72L694.40 801.22L694.80 802.73M699.89 821.83L700.29 823.33L700.70 824.83L701.10 826.33L701.51 827.83L701.92 829.33L702.32 830.83L702.73 832.33L703.14 833.83L703.55 835.32L703.97 836.82L704.38 838.32L704.79 839.82L705.21 841.31L705.62 842.81M711.00 861.82L711.43 863.32L711.86 864.81L712.29 866.30L712.72 867.79L713.16 869.28L713.60 870.77L714.03 872.25L714.47 873.74L714.91 875.23L715.36 876.72L715.80 878.20L716.25 879.69L716.69 881.18L717.14 882.66M723.00 901.51L723.48 902.99L723.95 904.46L724.43 905.94L724.91 907.41L725.39 908.88L725.88 910.35L726.37 911.82L726.86 913.30L727.35 914.76L727.84 916.23L728.34 917.70L728.84 919.17L729.34 920.63L729.85 922.10M736.56 940.62L737.11 942.06L737.67 943.50L738.23 944.95L738.79 946.38L739.36 947.82L739.94 949.26L740.51 950.69L741.10 952.12L741.69 953.55L742.28 954.98L742.88 956.40L743.48 957.82L744.09 959.24L744.71 960.66M753.16 978.37L753.88 979.72L754.61 981.08L755.35 982.42L756.10 983.76L756.87 985.09L757.64 986.42L758.43 987.73L759.24 989.04L760.05 990.34L760.89 991.63L761.74 992.91L762.60 994.18L763.49 995.43L764.39 996.67M778.04 1010.30L779.33 1011.09L780.66 1011.80L782.02 1012.43L783.43 1012.98L784.87 1013.43L786.33 1013.78L787.82 1014.01L789.33 1014.12L790.83 1014.15L792.34 1014.06L793.83 1013.85L795.30 1013.53L796.75 1013.11L798.16 1012.58M813.07 1000.56L814.04 999.37L814.99 998.17L815.92 996.94L816.82 995.71L817.71 994.46L818.58 993.19L819.43 991.92L820.27 990.63L821.09 989.34L821.89 988.03L822.69 986.72L823.46 985.40L824.23 984.07L824.99 982.74M833.77 965.21L834.41 963.80L835.04 962.39L835.66 960.98L836.28 959.57L836.89 958.15L837.50 956.73L838.10 955.30L838.69 953.88L839.28 952.45L839.87 951.02L840.45 949.59L841.02 948.15L841.59 946.72L842.15 945.28M849.02 926.82L849.53 925.36L850.04 923.90L850.55 922.43L851.06 920.97L851.56 919.50L852.07 918.04L852.56 916.57L853.06 915.10L853.55 913.64L854.04 912.17L854.53 910.70L855.02 909.22L855.50 907.75L855.98 906.28M861.93 887.46L862.38 885.98L862.83 884.49L863.28 883.01L863.73 881.52L864.18 880.04L864.63 878.55L865.07 877.07L865.51 875.58L865.96 874.09L866.40 872.60L866.83 871.11L867.27 869.63L867.71 868.14L868.14 866.65M873.57 847.65L873.99 846.15L874.41 844.66L874.82 843.16L875.24 841.67L875.65 840.17L876.07 838.67L876.48 837.18L876.89 835.68L877.31 834.18L877.72 832.68L878.13 831.18L878.54 829.69L878.94 828.19L879.35 826.69M884.47 807.59L884.87 806.09L885.27 804.59L885.67 803.09L886.06 801.58L886.46 800.08L886.85 798.58L887.25 797.08L887.64 795.57L888.04 794.07L888.43 792.57L888.82 791.06L889.22 789.56L889.61 788.06L890.00 786.55M894.96 767.40L895.34 765.90L895.73 764.39L896.12 762.89L896.50 761.38L896.89 759.88L897.28 758.37L897.66 756.87L898.05 755.36L898.43 753.86L898.82 752.35L899.20 750.84L899.59 749.34L899.97 747.83L900.36 746.33M905.25 727.16L905.62 725.66L906.00 724.15L906.38 722.65L906.76 721.15L907.13 719.65L907.51 718.14L907.89 716.64L908.27 715.14L908.64 713.64L909.02 712.13L909.40 710.63L909.78 709.13L910.15 707.63L910.53 706.13M915.36 687.01L915.74 685.51L916.12 684.01L916.50 682.51L916.89 681.01L917.27 679.51L917.65 678.01L918.03 676.51L918.42 675.00L918.80 673.50L919.18 672.00L919.57 670.50L919.95 669.00L920.34 667.50L920.72 666.00M925.66 646.92L926.06 645.43L926.45 643.93L926.84 642.43L927.23 640.94L927.63 639.44L928.02 637.94L928.42 636.45L928.81 634.95L929.21 633.45L929.61 631.96L930.01 630.46L930.41 628.96L930.81 627.47L931.21 625.97M936.37 606.97L936.78 605.48L937.20 603.99L937.61 602.50L938.03 601.01L938.44 599.52L938.86 598.03L939.28 596.54L939.70 595.05L940.12 593.56L940.54 592.07L940.96 590.59L941.38 589.10L941.81 587.61L942.24 586.13M947.78 567.25L948.23 565.77L948.67 564.30L949.12 562.82L949.57 561.34L950.02 559.86L950.48 558.39L950.94 556.91L951.39 555.44L951.85 553.96L952.32 552.49L952.78 551.02L953.24 549.54L953.71 548.07L954.18 546.60M960.37 527.97L960.87 526.51L961.38 525.06L961.89 523.60L962.40 522.15L962.91 520.70L963.43 519.25L963.95 517.80L964.48 516.35L965.01 514.90L965.54 513.46L966.08 512.02L966.62 510.57L967.16 509.13L967.71 507.69M975.07 489.57L975.69 488.16L976.31 486.76L976.93 485.37L977.57 483.97L978.21 482.58L978.85 481.19L979.51 479.80L980.17 478.42L980.84 477.04L981.52 475.67L982.21 474.30L982.90 472.94L983.61 471.58L984.33 470.22M994.47 453.70L995.37 452.49L996.29 451.29L997.22 450.11L998.18 448.95L999.17 447.81L1000.18 446.69L1001.22 445.60L1002.29 444.53L1003.38 443.50L1004.51 442.50L1005.68 441.54L1006.88 440.63L1008.12 439.77L1009.40 438.96M1027.61 437.33L1029.00 437.96L1030.35 438.68L1031.65 439.46L1032.92 440.31L1034.14 441.21L1035.33 442.17L1036.49 443.16L1037.61 444.19L1038.69 445.26L1039.75 446.36L1040.78 447.48L1041.79 448.62L1042.76 449.79L1043.72 450.98M1054.38 467.35L1055.12 468.70L1055.86 470.06L1056.58 471.42L1057.29 472.79L1058.00 474.17L1058.69 475.54L1059.38 476.93L1060.05 478.31L1060.72 479.70L1061.38 481.10L1062.03 482.50L1062.68 483.90L1063.32 485.30L1063.95 486.71M1071.51 504.89L1072.07 506.33L1072.62 507.78L1073.18 509.22L1073.72 510.67L1074.27 512.12L1074.81 513.57L1075.35 515.03L1075.88 516.48L1076.41 517.94L1076.93 519.40L1077.46 520.85L1077.98 522.31L1078.49 523.77L1079.01 525.24M1085.30 543.94L1085.78 545.42L1086.25 546.90L1086.73 548.38L1087.20 549.85L1087.67 551.33L1088.14 552.81L1088.60 554.29L1089.06 555.78L1089.53 557.26L1089.99 558.74L1090.44 560.22L1090.90 561.71L1091.35 563.19L1091.81 564.68M1097.43 583.63L1097.86 585.12L1098.29 586.61L1098.72 588.10L1099.15 589.60L1099.58 591.09L1100.00 592.59L1100.43 594.08L1100.85 595.57L1101.28 597.07L1101.70 598.57L1102.12 600.06L1102.54 601.56L1102.96 603.05L1103.37 604.55M1108.60 623.63L1109.01 625.13L1109.41 626.63L1109.82 628.13L1110.22 629.63L1110.62 631.14L1111.03 632.64L1111.43 634.14L1111.83 635.64L1112.23 637.14L1112.63 638.65L1113.02 640.15L1113.42 641.65L1113.82 643.16L1114.22 644.66M1119.22 663.81L1119.61 665.31L1120.00 666.82L1120.39 668.33L1120.78 669.83L1121.16 671.34L1121.55 672.84L1121.94 674.35L1122.33 675.86L1122.71 677.36L1123.10 678.87L1123.49 680.38L1123.87 681.88L1124.26 683.39L1124.65 684.90M1129.53 704.08L1129.92 705.59L1130.30 707.09L1130.68 708.60L1131.06 710.10L1131.45 711.61L1131.83 713.12L1132.21 714.62L1132.59 716.13L1132.97 717.63L1133.36 719.14L1133.74 720.65L1134.12 722.15L1134.50 723.66L1134.88 725.17M1139.74 744.32L1140.12 745.82L1140.51 747.33L1140.89 748.83L1141.27 750.33L1141.65 751.84L1142.04 753.34L1142.42 754.85L1142.80 756.35L1143.19 757.86L1143.57 759.36L1143.96 760.86L1144.34 762.37L1144.73 763.87L1145.11 765.38M1150.04 784.51L1150.43 786.01L1150.82 787.51L1151.21 789.01L1151.60 790.51L1151.99 792.02L1152.38 793.52L1152.78 795.02L1153.17 796.52L1153.56 798.02L1153.96 799.52L1154.35 801.02L1154.75 802.52L1155.14 804.02L1155.54 805.52M1160.64 824.60L1161.04 826.10L1161.45 827.60L1161.85 829.09L1162.26 830.59L1162.67 832.08L1163.08 833.58L1163.49 835.08L1163.90 836.57L1164.31 838.07L1164.73 839.56L1165.14 841.06L1165.56 842.55L1165.97 844.04L1166.39 845.54M1171.79 864.52L1172.23 866.00L1172.66 867.49L1173.10 868.98L1173.53 870.46L1173.97 871.95L1174.41 873.44L1174.85 874.92L1175.29 876.41L1175.74 877.89L1176.18 879.37L1176.63 880.86L1177.08 882.34L1177.53 883.82L1177.98 885.30M1183.90 904.10L1184.38 905.57L1184.86 907.04L1185.35 908.51L1185.83 909.98L1186.32 911.45L1186.81 912.91L1187.31 914.38L1187.80 915.84L1188.30 917.31L1188.80 918.77L1189.31 920.23L1189.82 921.69L1190.33 923.15L1190.84 924.61M1197.67 943.05L1198.23 944.48L1198.80 945.92L1199.37 947.35L1199.95 948.78L1200.53 950.21L1201.12 951.63L1201.71 953.05L1202.31 954.48L1202.91 955.90L1203.52 957.31L1204.13 958.73L1204.75 960.14L1205.38 961.55L1206.01 962.95M1214.75 980.45L1215.50 981.78L1216.26 983.11L1217.04 984.43L1217.83 985.74L1218.63 987.04L1219.44 988.34L1220.27 989.62L1221.12 990.90L1221.98 992.16L1222.86 993.41L1223.76 994.64L1224.68 995.87L1225.62 997.07L1226.59 998.26M1241.35 1010.36L1242.75 1010.90L1244.18 1011.35L1245.64 1011.69L1247.12 1011.93L1248.62 1012.04L1250.12 1012.03L1251.61 1011.90L1253.09 1011.66L1254.55 1011.30L1255.98 1010.83L1257.37 1010.28L1258.73 1009.64L1260.04 1008.92L1261.32 1008.13M1274.88 994.50L1275.78 993.26L1276.66 992.01L1277.52 990.74L1278.36 989.46L1279.19 988.18L1280.01 986.88L1280.81 985.57L1281.59 984.26L1282.37 982.93L1283.13 981.61L1283.87 980.27L1284.61 978.93L1285.34 977.58L1286.05 976.22M1294.47 958.55L1295.08 957.13L1295.69 955.71L1296.29 954.29L1296.89 952.87L1297.48 951.45L1298.06 950.02L1298.64 948.59L1299.22 947.16L1299.79 945.73L1300.36 944.29L1300.92 942.85L1301.48 941.42L1302.03 939.98L1302.58 938.53M1309.26 920.04L1309.77 918.58L1310.27 917.11L1310.77 915.65L1311.26 914.18L1311.76 912.72L1312.25 911.25L1312.73 909.78L1313.22 908.31L1313.70 906.84L1314.18 905.37L1314.66 903.90L1315.14 902.43L1315.61 900.95L1316.08 899.48M1321.92 880.65L1322.36 879.17L1322.81 877.69L1323.25 876.20L1323.69 874.72L1324.14 873.23L1324.57 871.74L1325.01 870.26L1325.45 868.77L1325.88 867.28L1326.32 865.79L1326.75 864.31L1327.18 862.82L1327.61 861.33L1328.04 859.84M1333.39 840.84L1333.80 839.35L1334.21 837.85L1334.62 836.36L1335.03 834.86L1335.44 833.37L1335.85 831.87L1336.26 830.37L1336.67 828.88L1337.07 827.38L1337.48 825.88L1337.88 824.39L1338.29 822.89L1338.69 821.39L1339.09 819.89M1344.15 800.80L1344.55 799.30L1344.94 797.80L1345.33 796.30L1345.72 794.80L1346.12 793.30L1346.51 791.79L1346.90 790.29L1347.29 788.79L1347.68 787.29L1348.07 785.78L1348.45 784.28L1348.84 782.78L1349.23 781.28L1349.62 779.77M1354.52 760.64L1354.90 759.13L1355.29 757.63L1355.67 756.12L1356.05 754.62L1356.43 753.12L1356.81 751.61L1357.20 750.11L1357.58 748.60L1357.96 747.10L1358.34 745.59L1358.72 744.09L1359.10 742.59L1359.48 741.08L1359.86 739.58M1364.70 720.44L1365.08 718.94L1365.46 717.43L1365.84 715.93L1366.22 714.43L1366.60 712.92L1366.98 711.42L1367.36 709.92L1367.74 708.41L1368.12 706.91L1368.50 705.41L1368.88 703.90L1369.26 702.40L1369.64 700.90L1370.02 699.39M1374.88 680.27L1375.27 678.76L1375.65 677.26L1376.04 675.76L1376.42 674.26L1376.81 672.76L1377.19 671.25L1377.58 669.75L1377.96 668.25L1378.35 666.75L1378.74 665.25L1379.12 663.75L1379.51 662.24L1379.90 660.74L1380.29 659.24M1385.27 640.15L1385.66 638.65L1386.06 637.16L1386.45 635.66L1386.85 634.16L1387.25 632.66L1387.65 631.16L1388.05 629.67L1388.45 628.17L1388.85 626.67L1389.25 625.18L1389.65 623.68L1390.05 622.18L1390.45 620.69L1390.86 619.19M1396.07 600.18L1396.49 598.68L1396.91 597.19L1397.32 595.70L1397.74 594.21L1398.16 592.72L1398.58 591.23L1399.01 589.74L1399.43 588.25L1399.86 586.76L1400.28 585.27L1400.71 583.79L1401.14 582.30L1401.57 580.81L1402.00 579.32M1407.61 560.45L1408.06 558.97L1408.52 557.49L1408.97 556.01L1409.43 554.53L1409.89 553.06L1410.35 551.58L1410.81 550.11L1411.27 548.63L1411.74 547.16L1412.21 545.68L1412.68 544.21L1413.15 542.74L1413.63 541.27L1414.10 539.80M1420.39 521.17L1420.90 519.72L1421.42 518.26L1421.94 516.81L1422.46 515.36L1422.99 513.91L1423.51 512.46L1424.05 511.01L1424.58 509.57L1425.12 508.12L1425.67 506.68L1426.21 505.24L1426.77 503.80L1427.32 502.36L1427.88 500.92M1435.44 482.85L1436.07 481.45L1436.71 480.06L1437.36 478.67L1438.01 477.28L1438.67 475.89L1439.34 474.51L1440.02 473.14L1440.70 471.76L1441.40 470.40L1442.10 469.03L1442.82 467.68L1443.54 466.32L1444.28 464.98L1445.02 463.64M1455.71 447.45L1456.66 446.28L1457.64 445.13L1458.65 444.01L1459.68 442.91L1460.74 441.83L1461.83 440.79L1462.95 439.78L1464.11 438.82L1465.30 437.89L1466.53 437.02L1467.80 436.20L1469.11 435.45L1470.46 434.77L1471.84 434.17M1490.06 435.97L1491.35 436.77L1492.59 437.63L1493.80 438.54L1494.97 439.50L1496.10 440.50L1497.21 441.54L1498.28 442.60L1499.32 443.70L1500.34 444.82L1501.33 445.97L1502.29 447.13L1503.23 448.32L1504.15 449.52L1505.05 450.73M1515.23 467.29L1515.95 468.64L1516.66 470.01L1517.35 471.37L1518.04 472.74L1518.72 474.12L1519.40 475.50L1520.06 476.89L1520.72 478.27L1521.36 479.67L1522.01 481.06L1522.64 482.46L1523.27 483.86L1523.89 485.26L1524.51 486.67M1531.89 504.82L1532.44 506.26L1532.98 507.71L1533.53 509.15L1534.06 510.60L1534.60 512.05L1535.13 513.49L1535.65 514.94L1536.18 516.40L1536.70 517.85L1537.22 519.30L1537.73 520.76L1538.24 522.21L1538.75 523.67L1539.25 525.13M1545.46 543.79L1545.93 545.26L1546.40 546.73L1546.86 548.21L1547.33 549.68L1547.79 551.16L1548.26 552.64L1548.72 554.11L1549.17 555.59L1549.63 557.07L1550.08 558.55L1550.54 560.03L1550.99 561.51L1551.44 562.99L1551.88 564.47M1557.45 583.39L1557.90 584.92L1558.34 586.46L1558.78 587.99L1559.21 589.53L1559.65 591.07L1560.09 592.60L1560.52 594.14L1560.95 595.68L1561.38 597.22L1561.81 598.76L1562.24 600.30L1562.67 601.83L1563.10 603.37" stroke="#3d7358"/>
<path d="M100.00 556.25L101.53 556.25L103.05 556.25L104.58 556.25L106.11 556.25L107.64 556.25L109.16 556.25L110.69 556.25L112.22 556.25L113.72 556.35L115.06 557.08L116.36 557.88L117.63 558.74L118.85 559.66L120.03 560.62M122.91 563.26L123.93 564.42L124.92 565.60L125.88 566.80L126.82 568.02L127.75 569.26L128.65 570.51L129.53 571.77M132.22 575.87L133.04 577.19L133.84 578.51L134.63 579.84L135.41 581.18L136.17 582.53L136.92 583.88L137.66 585.24L138.39 586.60L139.11 587.97L139.82 589.35L140.52 590.73L141.21 592.11L141.90 593.50L142.57 594.89M144.25 598.46L144.90 599.87L145.55 601.28L146.18 602.70L146.81 604.12L147.43 605.54L148.05 606.96L148.65 608.39M150.50 612.97L151.07 614.41L151.64 615.86L152.20 617.31L152.76 618.76L153.31 620.21L153.86 621.67L154.40 623.12L154.94 624.58L155.48 626.04L156.02 627.49L156.54 628.96L157.07 630.42L157.59 631.88L158.11 633.34M159.42 637.08L159.93 638.55L160.44 640.02L160.94 641.49L161.44 642.96L161.94 644.44L162.43 645.91L162.93 647.39M164.47 652.09L164.96 653.57L165.44 655.05L165.91 656.53L166.39 658.01L166.86 659.49L167.33 660.98L167.80 662.46L168.27 663.95L168.73 665.43L169.19 666.92L169.65 668.40L170.11 669.89L170.57 671.38L171.02 672.87M172.17 676.66L172.62 678.15L173.07 679.64L173.52 681.13L173.96 682.62L174.40 684.12L174.84 685.61L175.28 687.10M176.68 691.86L177.11 693.36L177.54 694.85L177.97 696.35L178.40 697.85L178.83 699.34L179.26 700.84L179.69 702.34L180.11 703.84L180.53 705.34L180.96 706.84L181.38 708.33L181.80 709.83L182.22 711.33L182.64 712.83M183.70 716.66L184.11 718.16L184.52 719.66L184.94 721.16L185.35 722.67L185.76 724.17L186.17 725.67L186.58 727.18M187.87 731.96L188.28 733.47L188.68 734.97L189.09 736.48L189.49 737.98L189.89 739.49L190.29 740.99L190.69 742.50L191.09 744.00L191.49 745.51L191.89 747.02L192.29 748.52L192.69 750.03L193.08 751.54L193.48 753.05M194.48 756.88L194.88 758.39L195.27 759.90L195.66 761.40L196.05 762.91L196.44 764.42L196.83 765.92L197.22 767.43M198.46 772.22L198.85 773.73L199.23 775.23L199.62 776.74L200.01 778.24L200.39 779.75L200.78 781.26L201.16 782.76L201.55 784.27L201.93 785.77L202.31 787.28L202.70 788.79L203.08 790.29L203.46 791.80L203.85 793.31M204.82 797.14L205.20 798.65L205.58 800.16L205.96 801.66L206.34 803.17L206.72 804.68L207.10 806.19L207.48 807.69M208.69 812.49L209.07 814.00L209.45 815.51L209.83 817.02L210.20 818.52L210.58 820.03L210.96 821.54L211.34 823.05L211.72 824.56L212.09 826.06L212.47 827.57L212.85 829.08L213.23 830.59L213.61 832.10L213.98 833.61M214.94 837.44L215.32 838.95L215.70 840.46L216.08 841.97L216.45 843.48L216.83 844.99L217.21 846.49L217.59 848.00M218.79 852.80L219.17 854.31L219.54 855.82L219.92 857.33L220.30 858.83L220.68 860.34L221.06 861.85L221.43 863.36L221.81 864.87L222.19 866.37L222.57 867.88L222.95 869.39L223.33 870.90L223.71 872.41L224.09 873.91M225.05 877.75L225.43 879.26L225.81 880.77L226.19 882.27L226.58 883.78L226.96 885.29L227.34 886.80L227.72 888.30M228.94 893.10L229.32 894.60L229.70 896.11L230.09 897.62L230.47 899.12L230.86 900.63L231.24 902.13L231.63 903.64L232.01 905.15L232.40 906.65L232.79 908.16L233.17 909.66L233.56 911.17L233.95 912.67L234.34 914.18M235.33 918.01L235.72 919.51L236.11 921.02L236.50 922.52L236.89 924.03L237.28 925.53L237.68 927.03L238.07 928.54M239.33 933.32L239.72 934.82L240.12 936.32L240.51 937.81L240.91 939.31L241.31 940.81L241.71 942.31L242.11 943.80L242.51 945.30L242.91 946.80L243.31 948.29L243.71 949.79L244.12 951.28L244.52 952.78L244.92 954.28M245.96 958.08L246.37 959.57L246.78 961.07L247.18 962.56L247.59 964.05L248.00 965.55L248.41 967.04L248.82 968.53M250.13 973.28L250.54 974.77L250.96 976.26L251.37 977.75L251.79 979.24L252.21 980.73L252.63 982.22L253.05 983.71L253.47 985.20L253.90 986.69L254.32 988.18L254.75 989.67L255.17 991.15L255.60 992.64L256.03 994.13M257.13 997.91L257.57 999.39L258.00 1000.88L258.44 1002.36L258.88 1003.84L259.32 1005.33L259.76 1006.81L260.21 1008.29M261.63 1013.00L262.08 1014.48L262.53 1015.95L262.99 1017.43L263.44 1018.91L263.90 1020.38L264.36 1021.86L264.83 1023.33L265.29 1024.81L265.76 1026.28L266.23 1027.75L266.70 1029.22L267.17 1030.69L267.65 1032.16L268.12 1033.63M269.35 1037.37L269.83 1038.84L270.31 1040.30L270.80 1041.77L271.29 1043.23L271.78 1044.69L272.27 1046.16L272.77 1047.62M274.37 1052.26L274.87 1053.72L275.39 1055.17L275.90 1056.62L276.42 1058.08L276.94 1059.53L277.46 1060.98L277.99 1062.42L278.53 1063.87L279.06 1065.31L279.60 1066.76L280.14 1068.20L280.69 1069.64L281.25 1071.08L281.80 1072.52M283.24 1076.16L283.81 1077.59L284.40 1079.01L284.99 1080.43L285.59 1081.85L286.19 1083.26L286.80 1084.67L287.42 1086.08M289.42 1090.54L290.06 1091.93L290.71 1093.32L291.36 1094.70L292.03 1096.08L292.70 1097.46L293.38 1098.83L294.07 1100.20L294.77 1101.56L295.48 1102.92L296.20 1104.27L296.92 1105.62L297.66 1106.96L298.42 1108.30L299.23 1109.60M301.35 1112.84L302.21 1114.09L303.09 1115.33L303.99 1116.56L304.91 1117.77L305.85 1118.96L306.81 1120.14L307.80 1121.29M311.10 1124.80L312.18 1125.83L313.30 1126.82L314.46 1127.77L315.66 1128.67L316.89 1129.52L318.16 1130.31L319.47 1131.03L320.82 1131.68L322.21 1132.25L323.63 1132.72L325.06 1133.15L326.52 1133.51L327.99 1133.75L329.48 1133.87M333.26 1133.70L334.73 1133.44L336.18 1133.06L337.59 1132.59L338.97 1132.02L340.32 1131.37L341.62 1130.65L342.89 1129.86M346.70 1126.97L347.84 1125.96L348.94 1124.92L350.01 1123.84L351.05 1122.74L352.06 1121.61L353.05 1120.46L354.01 1119.29L354.95 1118.10L355.87 1116.89L356.77 1115.67L357.65 1114.44L358.52 1113.19L359.36 1111.93L360.19 1110.66M362.25 1107.36L363.03 1106.05L363.80 1104.73L364.56 1103.40L365.31 1102.07L366.05 1100.73L366.77 1099.38L367.49 1098.03M369.70 1093.69L370.38 1092.31L371.05 1090.93L371.72 1089.55L372.37 1088.16L373.02 1086.77L373.66 1085.37L374.30 1083.97L374.92 1082.57L375.54 1081.17L376.16 1079.76L376.77 1078.35L377.37 1076.94L377.97 1075.52L378.56 1074.11M380.05 1070.48L380.62 1069.05L381.19 1067.62L381.76 1066.19L382.32 1064.76L382.88 1063.32L383.43 1061.89L383.98 1060.45M385.70 1055.86L386.23 1054.41L386.76 1052.96L387.29 1051.51L387.81 1050.06L388.33 1048.61L388.85 1047.16L389.36 1045.70L389.88 1044.25L390.38 1042.79L390.89 1041.33L391.39 1039.87L391.89 1038.41L392.38 1036.95L392.88 1035.49M394.12 1031.77L394.61 1030.30L395.09 1028.83L395.57 1027.36L396.05 1025.90L396.52 1024.43L397.00 1022.96L397.47 1021.49M398.96 1016.80L399.42 1015.33L399.88 1013.85L400.34 1012.37L400.80 1010.90L401.25 1009.42L401.71 1007.94L402.16 1006.46L402.61 1004.99L403.06 1003.51L403.51 1002.03L403.95 1000.55L404.40 999.07L404.84 997.58L405.28 996.10M406.40 992.33L406.83 990.84L407.27 989.36L407.70 987.87L408.13 986.39L408.56 984.90L408.99 983.42L409.42 981.93M410.77 977.20L411.20 975.71L411.62 974.22L412.04 972.73L412.46 971.24L412.88 969.75L413.30 968.26L413.71 966.77L414.13 965.28L414.54 963.78L414.96 962.29L415.37 960.80L415.78 959.31L416.19 957.82L416.60 956.32M417.64 952.52L418.05 951.03L418.45 949.53L418.86 948.04L419.26 946.54L419.67 945.05L420.07 943.55L420.47 942.06M421.75 937.30L422.15 935.80L422.55 934.31L422.95 932.81L423.34 931.31L423.74 929.81L424.14 928.32L424.53 926.82L424.93 925.32L425.32 923.82L425.72 922.33L426.11 920.83L426.50 919.33L426.89 917.83L427.29 916.33M428.28 912.52L428.67 911.02L429.06 909.52L429.45 908.02L429.84 906.52L430.23 905.02L430.62 903.52L431.00 902.02M432.23 897.24L432.62 895.74L433.01 894.24L433.39 892.74L433.78 891.24L434.16 889.74L434.55 888.24L434.93 886.73L435.31 885.23L435.70 883.73L436.08 882.23L436.46 880.73L436.85 879.23L437.23 877.73L437.61 876.22M438.59 872.40L438.97 870.90L439.35 869.40L439.73 867.89L440.11 866.39L440.49 864.89L440.87 863.39L441.26 861.89M442.47 857.11L442.85 855.60L443.23 854.10L443.61 852.59L443.99 851.09L444.37 849.59L444.75 848.08L445.13 846.58L445.51 845.07L445.90 843.57L446.28 842.07L446.66 840.56L447.04 839.06L447.42 837.55L447.80 836.05M448.77 832.22L449.15 830.71L449.53 829.21L449.91 827.70L450.30 826.20L450.68 824.69L451.06 823.19L451.44 821.68M452.66 816.90L453.04 815.39L453.43 813.89L453.81 812.38L454.19 810.88L454.58 809.37L454.96 807.87L455.34 806.37L455.73 804.86L456.11 803.36L456.50 801.85L456.88 800.35L457.27 798.85L457.65 797.34L458.04 795.84M459.03 792.01L459.41 790.51L459.80 789.01L460.19 787.50L460.58 786.00L460.97 784.50L461.35 783.00L461.74 781.49M462.99 776.71L463.38 775.21L463.77 773.71L464.16 772.21L464.56 770.71L464.95 769.21L465.34 767.71L465.74 766.20L466.13 764.70L466.53 763.20L466.93 761.70L467.32 760.20L467.72 758.70L468.12 757.20L468.52 755.70M469.54 751.89L469.94 750.39L470.34 748.89L470.74 747.39L471.15 745.89L471.55 744.40L471.96 742.90L472.36 741.40M473.66 736.64L474.07 735.14L474.48 733.65L474.89 732.15L475.30 730.66L475.71 729.16L476.13 727.67L476.54 726.17L476.96 724.68L477.37 723.18L477.79 721.69L478.21 720.20L478.63 718.70L479.05 717.21L479.47 715.72M480.55 711.92L480.98 710.43L481.41 708.94L481.83 707.45L482.26 705.96L482.69 704.47L483.13 702.98L483.56 701.50M484.95 696.76L485.39 695.28L485.83 693.79L486.27 692.31L486.71 690.82L487.16 689.34L487.61 687.86L488.05 686.37L488.50 684.89L488.96 683.41L489.41 681.93L489.87 680.45L490.32 678.97L490.78 677.49L491.24 676.01M492.42 672.25L492.89 670.77L493.36 669.30L493.83 667.82L494.31 666.35L494.78 664.88L495.26 663.41L495.74 661.93M497.29 657.26L497.78 655.79L498.27 654.33L498.76 652.86L499.26 651.40L499.76 649.94L500.27 648.47L500.77 647.01L501.28 645.55L501.80 644.09L502.31 642.64L502.83 641.18L503.35 639.72L503.88 638.27L504.41 636.82M505.77 633.13L506.31 631.68L506.86 630.24L507.40 628.79L507.96 627.35L508.52 625.91L509.08 624.47L509.64 623.04M511.47 618.48L512.06 617.06L512.65 615.63L513.25 614.21L513.85 612.79L514.45 611.38L515.07 609.97L515.68 608.55L516.31 607.15L516.94 605.74L517.58 604.34L518.23 602.94L518.88 601.54L519.54 600.15L520.21 598.76M521.94 595.26L522.64 593.89L523.34 592.52L524.06 591.17L524.78 589.81L525.52 588.46L526.27 587.12L527.03 585.79M529.52 581.60L530.33 580.31L531.16 579.02L532.00 577.75L532.85 576.49L533.73 575.24L534.62 574.00L535.53 572.78L536.47 571.57L537.42 570.38L538.40 569.21L539.40 568.07L540.43 566.94L541.49 565.84L542.58 564.78M545.48 562.23L546.68 561.32L547.91 560.45L549.18 559.64L550.49 558.90L551.84 558.23L553.23 557.64L554.65 557.14M559.33 556.28L560.83 556.25L562.33 556.33L563.82 556.53L565.30 556.85L566.74 557.27L568.15 557.80L569.53 558.41L570.86 559.10L572.16 559.86L573.42 560.69L574.64 561.57L575.82 562.50L576.97 563.47L578.08 564.48M580.81 567.23L581.83 568.36L582.83 569.51L583.80 570.68L584.75 571.88L585.68 573.09L586.58 574.31L587.47 575.55M590.19 579.59L591.01 580.88L591.82 582.19L592.61 583.50L593.39 584.82L594.16 586.15L594.91 587.49L595.66 588.83L596.39 590.18L597.11 591.53L597.83 592.89L598.53 594.25L599.22 595.62L599.91 597.00L600.59 598.37M602.27 601.91L602.93 603.30L603.57 604.70L604.21 606.11L604.84 607.51L605.46 608.92L606.08 610.33L606.69 611.74M608.60 616.26L609.19 617.69L609.77 619.12L610.35 620.55L610.92 621.98L611.49 623.42L612.06 624.85L612.62 626.29L613.18 627.73L613.73 629.17L614.28 630.62L614.82 632.06L615.36 633.51L615.90 634.96L616.43 636.40M617.77 640.10L618.29 641.56L618.81 643.01L619.33 644.47L619.84 645.93L620.35 647.39L620.85 648.85L621.36 650.31M622.94 654.97L623.43 656.44L623.92 657.91L624.41 659.38L624.90 660.85L625.38 662.32L625.86 663.79L626.34 665.26L626.81 666.74L627.29 668.21L627.76 669.68L628.23 671.16L628.69 672.63L629.16 674.11L629.62 675.59M630.79 679.35L631.25 680.83L631.71 682.31L632.16 683.79L632.61 685.27L633.06 686.76L633.51 688.24L633.96 689.72M635.37 694.45L635.81 695.93L636.25 697.42L636.68 698.91L637.12 700.39L637.56 701.88L637.99 703.37L638.42 704.86L638.85 706.35L639.28 707.84L639.71 709.33L640.14 710.82L640.56 712.31L640.99 713.80L641.41 715.29M642.49 719.09L642.91 720.58L643.32 722.07L643.74 723.57L644.16 725.06L644.58 726.55L644.99 728.05L645.40 729.54M646.71 734.30L647.12 735.80L647.53 737.29L647.94 738.79L648.35 740.29L648.76 741.78L649.16 743.28L649.57 744.78L649.97 746.28L650.38 747.77L650.78 749.27L651.18 750.77L651.58 752.27L651.98 753.77L652.38 755.27M653.40 759.08L653.80 760.58L654.20 762.08L654.59 763.58L654.99 765.09L655.38 766.59L655.78 768.09L656.17 769.59M657.43 774.36L657.82 775.87L658.21 777.37L658.60 778.87L658.99 780.37L659.38 781.87L659.77 783.38L660.16 784.88L660.55 786.38L660.94 787.88L661.33 789.39L661.72 790.89L662.11 792.39L662.49 793.90L662.88 795.40M663.86 799.23L664.25 800.73L664.64 802.23L665.02 803.74L665.41 805.24L665.79 806.74L666.18 808.25L666.56 809.75M667.78 814.54L668.17 816.04L668.55 817.55L668.93 819.05L669.32 820.56L669.70 822.06L670.08 823.57L670.46 825.07L670.85 826.57L671.23 828.08L671.61 829.58L671.99 831.09L672.37 832.59L672.76 834.10L673.14 835.60M674.11 839.43L674.49 840.94L674.87 842.44L675.26 843.94L675.64 845.45L676.02 846.95L676.40 848.46L676.78 849.96M677.99 854.74L678.38 856.25L678.76 857.75L679.14 859.25L679.52 860.75L679.90 862.26L680.29 863.76L680.67 865.26L681.05 866.77L681.43 868.27L681.82 869.77L682.20 871.27L682.58 872.78L682.96 874.28L683.35 875.78M684.32 879.61L684.71 881.11L685.09 882.61L685.48 884.11L685.86 885.62L686.25 887.12L686.63 888.62L687.02 890.12M688.25 894.90L688.64 896.40L689.02 897.90L689.41 899.40L689.80 900.90L690.19 902.40L690.58 903.90L690.97 905.41L691.36 906.91L691.75 908.41L692.14 909.91L692.53 911.41L692.92 912.91L693.31 914.41L693.70 915.91M694.71 919.72L695.10 921.22L695.50 922.72L695.89 924.22L696.29 925.72L696.68 927.22L697.08 928.71L697.48 930.21M698.75 934.98L699.15 936.47L699.55 937.97L699.95 939.47L700.35 940.96L700.76 942.46L701.16 943.96L701.57 945.45L701.97 946.95L702.38 948.44L702.79 949.94L703.19 951.43L703.60 952.93L704.01 954.42L704.42 955.91M705.47 959.72L705.89 961.21L706.30 962.70L706.72 964.19L707.14 965.68L707.55 967.18L707.97 968.67L708.39 970.16M709.74 974.90L710.16 976.39L710.59 977.88L711.01 979.36L711.44 980.85L711.87 982.34L712.30 983.83L712.73 985.31L713.17 986.80L713.60 988.28L714.04 989.77L714.47 991.25L714.91 992.74L715.35 994.22L715.79 995.71M716.93 999.48L717.37 1000.96L717.82 1002.44L718.27 1003.92L718.72 1005.40L719.18 1006.88L719.63 1008.36L720.09 1009.84M721.56 1014.53L722.02 1016.01L722.49 1017.48L722.96 1018.95L723.43 1020.42L723.90 1021.89L724.38 1023.37L724.86 1024.84L725.34 1026.30L725.82 1027.77L726.30 1029.24L726.79 1030.71L727.28 1032.17L727.77 1033.64L728.27 1035.10M729.54 1038.82L730.04 1040.28L730.55 1041.74L731.06 1043.20L731.57 1044.65L732.09 1046.11L732.61 1047.56L733.13 1049.01M734.81 1053.62L735.35 1055.07L735.89 1056.51L736.43 1057.95L736.98 1059.39L737.53 1060.83L738.09 1062.27L738.65 1063.71L739.21 1065.14L739.78 1066.57L740.36 1068.00L740.94 1069.43L741.52 1070.86L742.11 1072.28L742.70 1073.70M744.24 1077.30L744.85 1078.71L745.47 1080.12L746.10 1081.52L746.73 1082.93L747.37 1084.32L748.01 1085.72L748.67 1087.11M750.80 1091.51L751.48 1092.88L752.17 1094.24L752.88 1095.60L753.59 1096.96L754.31 1098.31L755.04 1099.65L755.79 1100.99L756.54 1102.32L757.31 1103.64L758.09 1104.96L758.88 1106.27L759.69 1107.57L760.51 1108.86L761.35 1110.14M763.55 1113.34L764.45 1114.57L765.36 1115.78L766.29 1116.98L767.25 1118.16L768.23 1119.32L769.24 1120.46L770.27 1121.57M773.74 1124.91L774.89 1125.87L776.07 1126.79L777.28 1127.66L778.54 1128.48L779.84 1129.23L781.17 1129.91L782.54 1130.51L783.95 1131.02L785.39 1131.43L786.85 1131.74L788.34 1131.93L789.83 1132.01L791.33 1132.00L792.82 1131.87M796.52 1131.03L797.93 1130.52L799.31 1129.92L800.65 1129.24L801.94 1128.48L803.20 1127.66L804.42 1126.79L805.61 1125.87M809.17 1122.64L810.23 1121.55L811.26 1120.43L812.27 1119.29L813.25 1118.13L814.21 1116.95L815.15 1115.75L816.06 1114.53L816.96 1113.30L817.83 1112.05L818.69 1110.80L819.53 1109.53L820.36 1108.25L821.17 1106.96L821.96 1105.67M823.94 1102.31L824.70 1100.98L825.44 1099.64L826.18 1098.30L826.90 1096.94L827.61 1095.59L828.31 1094.23L829.01 1092.86M831.16 1088.48L831.82 1087.09L832.48 1085.70L833.12 1084.30L833.76 1082.90L834.40 1081.50L835.02 1080.10L835.64 1078.69L836.25 1077.28L836.86 1075.87L837.46 1074.45L838.06 1073.03L838.65 1071.61L839.24 1070.19L839.82 1068.77M841.28 1065.13L841.84 1063.69L842.40 1062.26L842.96 1060.82L843.51 1059.38L844.06 1057.94L844.60 1056.50L845.14 1055.05M846.84 1050.45L847.37 1049.00L847.89 1047.54L848.41 1046.09L848.92 1044.63L849.44 1043.18L849.95 1041.72L850.46 1040.26L850.96 1038.80L851.46 1037.34L851.96 1035.88L852.46 1034.42L852.95 1032.96L853.44 1031.49L853.93 1030.03M855.16 1026.29L855.64 1024.82L856.12 1023.35L856.59 1021.88L857.07 1020.41L857.54 1018.94L858.01 1017.46L858.48 1015.99M859.95 1011.30L860.41 1009.82L860.87 1008.34L861.32 1006.86L861.78 1005.38L862.23 1003.90L862.68 1002.42L863.13 1000.94L863.58 999.46L864.02 997.98L864.47 996.50L864.91 995.02L865.35 993.53L865.79 992.05L866.23 990.57M867.34 986.79L867.77 985.30L868.21 983.81L868.64 982.33L869.07 980.84L869.49 979.35L869.92 977.86L870.35 976.38M871.70 971.64L872.12 970.15L872.54 968.66L872.96 967.16L873.38 965.67L873.79 964.18L874.21 962.69L874.63 961.20L875.04 959.70L875.45 958.21L875.87 956.72L876.28 955.23L876.69 953.73L877.10 952.24L877.51 950.74M878.54 946.94L878.95 945.44L879.36 943.95L879.76 942.45L880.16 940.96L880.57 939.46L880.97 937.96L881.37 936.47M882.64 931.70L883.04 930.21L883.44 928.71L883.84 927.21L884.24 925.71L884.63 924.21L885.03 922.71L885.43 921.22L885.82 919.72L886.21 918.22L886.61 916.72L887.00 915.22L887.39 913.72L887.79 912.22L888.18 910.72M889.17 906.90L889.56 905.40L889.95 903.90L890.34 902.40L890.73 900.90L891.12 899.40L891.51 897.90L891.90 896.40M893.13 891.62L893.52 890.12L893.90 888.62L894.29 887.11L894.68 885.61L895.06 884.11L895.45 882.61L895.83 881.11L896.22 879.60L896.60 878.10L896.99 876.60L897.37 875.10L897.75 873.60L898.14 872.09L898.52 870.59M899.50 866.77L899.88 865.26L900.26 863.76L900.65 862.26L901.03 860.76L901.41 859.25L901.79 857.75L902.18 856.25M903.39 851.47L903.77 849.96L904.16 848.46L904.54 846.96L904.92 845.46L905.30 843.95L905.68 842.45L906.06 840.94L906.43 839.44L906.81 837.94L907.19 836.43L907.56 834.93L907.94 833.43L908.32 831.92L908.69 830.42M909.65 826.59L910.03 825.09L910.41 823.58L910.79 822.08L911.16 820.58L911.54 819.07L911.92 817.57L912.30 816.07M913.50 811.28L913.88 809.78L914.26 808.28L914.64 806.78L915.02 805.27L915.40 803.77L915.78 802.27L916.16 800.77L916.54 799.26L916.92 797.76L917.30 796.26L917.69 794.76L918.07 793.25L918.45 791.75L918.83 790.25M919.81 786.43L920.19 784.93L920.58 783.43L920.96 781.92L921.35 780.42L921.73 778.92L922.12 777.42L922.51 775.92M923.74 771.15L924.13 769.65L924.52 768.15L924.91 766.65L925.30 765.15L925.69 763.65L926.08 762.15L926.47 760.65L926.86 759.15L927.26 757.65L927.65 756.16L928.04 754.66L928.44 753.16L928.83 751.66L929.23 750.16M930.24 746.35L930.64 744.86L931.04 743.36L931.44 741.86L931.84 740.37L932.24 738.87L932.65 737.38L933.05 735.88M934.34 731.12L934.74 729.63L935.15 728.14L935.56 726.64L935.97 725.15L936.38 723.66L936.79 722.17L937.20 720.67L937.62 719.18L938.03 717.69L938.45 716.20L938.86 714.71L939.28 713.22L939.70 711.73L940.12 710.24M941.19 706.45L941.62 704.96L942.04 703.47L942.47 701.98L942.90 700.50L943.33 699.01L943.76 697.52L944.19 696.04M945.57 691.31L946.01 689.83L946.45 688.35L946.89 686.87L947.33 685.38L947.77 683.90L948.22 682.42L948.66 680.94L949.11 679.46L949.56 677.98L950.01 676.50L950.47 675.03L950.92 673.55L951.38 672.07L951.84 670.60M953.02 666.84L953.48 665.37L953.95 663.90L954.42 662.43L954.90 660.96L955.37 659.49L955.85 658.02L956.33 656.55M957.87 651.88L958.36 650.42L958.85 648.96L959.34 647.50L959.84 646.04L960.34 644.58L960.84 643.12L961.35 641.66L961.86 640.20L962.37 638.75L962.88 637.29L963.40 635.84L963.92 634.39L964.45 632.94L964.98 631.49M966.34 627.81L966.88 626.37L967.42 624.93L967.97 623.49L968.53 622.05L969.08 620.61L969.65 619.18L970.21 617.75M972.04 613.21L972.63 611.79L973.22 610.37L973.81 608.95L974.42 607.54L975.02 606.13L975.64 604.72L976.26 603.31L976.88 601.91L977.52 600.51L978.16 599.11L978.80 597.72L979.46 596.33L980.12 594.95L980.79 593.56M982.53 590.07L983.23 588.71L983.94 587.35L984.65 586.00L985.38 584.66L986.12 583.32L986.87 581.98L987.64 580.66M990.14 576.50L990.96 575.21L991.79 573.94L992.63 572.68L993.49 571.43L994.37 570.19L995.27 568.97L996.19 567.76L997.13 566.57L998.10 565.40L999.09 564.25L1000.10 563.12L1001.14 562.01L1002.21 560.93L1003.32 559.89M1006.25 557.42L1007.46 556.54L1008.70 555.71L1009.99 554.94L1011.31 554.24L1012.67 553.62L1014.07 553.09L1015.50 552.65M1020.18 552.00L1021.67 552.09L1023.16 552.29L1024.62 552.61L1026.06 553.04L1027.46 553.56L1028.83 554.17L1030.16 554.86L1031.45 555.62L1032.70 556.44L1033.91 557.32L1035.09 558.25L1036.23 559.22L1037.34 560.22L1038.42 561.26M1041.06 564.07L1042.05 565.22L1043.02 566.39L1043.96 567.58L1044.89 568.78L1045.79 570.00L1046.68 571.24L1047.54 572.49M1050.20 576.55L1051.00 577.85L1051.79 579.16L1052.57 580.47L1053.34 581.80L1054.09 583.13L1054.83 584.47L1055.57 585.81L1056.29 587.16L1057.00 588.52L1057.70 589.88L1058.39 591.24L1059.07 592.61L1059.75 593.99L1060.41 595.36M1062.08 598.90L1062.72 600.29L1063.35 601.69L1063.98 603.09L1064.60 604.50L1065.22 605.91L1065.83 607.32L1066.43 608.73M1068.32 613.24L1068.90 614.67L1069.48 616.10L1070.05 617.53L1070.62 618.96L1071.19 620.39L1071.74 621.83L1072.30 623.26L1072.85 624.70L1073.40 626.14L1073.94 627.58L1074.48 629.03L1075.01 630.47L1075.55 631.92L1076.07 633.36M1077.40 637.06L1077.92 638.51L1078.43 639.96L1078.95 641.42L1079.45 642.88L1079.96 644.33L1080.46 645.79L1080.96 647.25M1082.53 651.91L1083.02 653.37L1083.50 654.84L1083.99 656.30L1084.47 657.77L1084.95 659.24L1085.43 660.71L1085.90 662.18L1086.37 663.65L1086.84 665.12L1087.31 666.59L1087.78 668.07L1088.24 669.54L1088.70 671.01L1089.16 672.49M1090.33 676.25L1090.78 677.73L1091.23 679.20L1091.68 680.68L1092.13 682.16L1092.58 683.64L1093.02 685.12L1093.47 686.60M1094.87 691.32L1095.31 692.80L1095.75 694.29L1096.18 695.77L1096.61 697.26L1097.05 698.74L1097.48 700.23L1097.91 701.72L1098.34 703.20L1098.76 704.69L1099.19 706.18L1099.61 707.67L1100.04 709.15L1100.46 710.64L1100.88 712.13M1101.95 715.92L1102.37 717.41L1102.78 718.90L1103.20 720.40L1103.61 721.89L1104.03 723.38L1104.44 724.87L1104.85 726.36M1106.16 731.11L1106.56 732.61L1106.97 734.10L1107.38 735.60L1107.78 737.09L1108.19 738.59L1108.59 740.08L1109.00 741.58L1109.40 743.07L1109.80 744.57L1110.20 746.06L1110.60 747.56L1111.00 749.06L1111.40 750.55L1111.80 752.05M1112.81 755.86L1113.20 757.36L1113.60 758.85L1114.00 760.35L1114.39 761.85L1114.78 763.35L1115.18 764.85L1115.57 766.35M1116.82 771.12L1117.21 772.62L1117.60 774.11L1117.99 775.61L1118.38 777.11L1118.76 778.61L1119.15 780.11L1119.54 781.61L1119.93 783.11L1120.32 784.62L1120.70 786.12L1121.09 787.62L1121.48 789.12L1121.86 790.62L1122.25 792.12M1123.23 795.94L1123.61 797.44L1123.99 798.94L1124.38 800.44L1124.76 801.95L1125.15 803.45L1125.53 804.95L1125.91 806.45M1127.13 811.23L1127.51 812.73L1127.89 814.23L1128.27 815.74L1128.66 817.24L1129.04 818.74L1129.42 820.24L1129.80 821.75L1130.18 823.25L1130.56 824.75L1130.94 826.26L1131.32 827.76L1131.70 829.26L1132.08 830.76L1132.46 832.27M1133.43 836.10L1133.81 837.60L1134.20 839.11L1134.58 840.61L1134.96 842.12L1135.34 843.62L1135.72 845.13L1136.10 846.63M1137.31 851.42L1137.69 852.93L1138.08 854.43L1138.46 855.94L1138.84 857.44L1139.22 858.95L1139.60 860.45L1139.98 861.96L1140.37 863.46L1140.75 864.97L1141.13 866.47L1141.51 867.98L1141.89 869.48L1142.28 870.99L1142.66 872.49M1143.64 876.32L1144.02 877.83L1144.40 879.33L1144.79 880.83L1145.17 882.34L1145.56 883.84L1145.94 885.35L1146.33 886.85M1147.56 891.63L1147.94 893.14L1148.33 894.64L1148.72 896.14L1149.11 897.65L1149.49 899.15L1149.88 900.65L1150.27 902.15L1150.66 903.66L1151.05 905.16L1151.44 906.66L1151.83 908.16L1152.22 909.67L1152.61 911.17L1153.01 912.67M1154.01 916.49L1154.40 917.99L1154.80 919.49L1155.19 920.99L1155.59 922.50L1155.98 924.00L1156.38 925.50L1156.78 927.00M1158.05 931.77L1158.45 933.27L1158.85 934.77L1159.25 936.26L1159.65 937.76L1160.05 939.26L1160.46 940.76L1160.86 942.26L1161.27 943.75L1161.67 945.25L1162.08 946.75L1162.49 948.25L1162.90 949.74L1163.31 951.24L1163.72 952.73M1164.77 956.54L1165.18 958.04L1165.59 959.53L1166.01 961.02L1166.43 962.52L1166.84 964.01L1167.26 965.51L1167.68 967.00M1169.02 971.75L1169.45 973.24L1169.87 974.73L1170.30 976.22L1170.73 977.71L1171.16 979.20L1171.59 980.69L1172.02 982.17L1172.45 983.66L1172.89 985.15L1173.32 986.64L1173.76 988.13L1174.20 989.61L1174.64 991.10L1175.08 992.58M1176.21 996.36L1176.66 997.85L1177.11 999.33L1177.56 1000.81L1178.01 1002.29L1178.46 1003.78L1178.92 1005.26L1179.37 1006.74M1180.84 1011.44L1181.30 1012.92L1181.77 1014.39L1182.24 1015.87L1182.71 1017.34L1183.18 1018.82L1183.66 1020.29L1184.14 1021.76L1184.62 1023.23L1185.10 1024.70L1185.58 1026.17L1186.07 1027.64L1186.56 1029.11L1187.05 1030.58L1187.55 1032.05M1188.82 1035.77L1189.32 1037.23L1189.83 1038.69L1190.34 1040.15L1190.85 1041.61L1191.36 1043.07L1191.88 1044.53L1192.41 1045.98M1194.09 1050.60L1194.63 1052.05L1195.17 1053.50L1195.71 1054.94L1196.26 1056.38L1196.81 1057.82L1197.37 1059.26L1197.93 1060.70L1198.49 1062.14L1199.06 1063.57L1199.63 1065.01L1200.21 1066.44L1200.80 1067.87L1201.39 1069.29L1201.98 1070.72M1203.52 1074.33L1204.13 1075.74L1204.75 1077.15L1205.38 1078.56L1206.01 1079.96L1206.65 1081.37L1207.29 1082.76L1207.95 1084.16M1210.08 1088.57L1210.76 1089.94L1211.46 1091.31L1212.16 1092.67L1212.87 1094.03L1213.59 1095.38L1214.33 1096.73L1215.07 1098.07L1215.83 1099.41L1216.60 1100.73L1217.38 1102.05L1218.17 1103.37L1218.98 1104.67L1219.80 1105.96L1220.64 1107.25M1222.85 1110.45L1223.74 1111.69L1224.66 1112.91L1225.60 1114.11L1226.56 1115.29L1227.54 1116.45L1228.55 1117.60L1229.59 1118.71M1233.07 1122.06L1234.22 1123.02L1235.41 1123.95L1236.63 1124.82L1237.90 1125.63L1239.20 1126.38L1240.54 1127.06L1241.92 1127.66L1243.34 1128.17L1244.78 1128.57L1246.26 1128.87L1247.75 1129.05L1249.25 1129.11L1250.75 1129.05L1252.25 1128.87M1255.93 1127.90L1257.33 1127.34L1258.70 1126.69L1260.02 1125.97L1261.30 1125.18L1262.55 1124.33L1263.75 1123.42L1264.92 1122.47M1268.45 1119.17L1269.50 1118.06L1270.52 1116.93L1271.51 1115.77L1272.48 1114.59L1273.43 1113.40L1274.36 1112.18L1275.26 1110.95L1276.15 1109.71L1277.02 1108.45L1277.87 1107.18L1278.70 1105.91L1279.52 1104.62L1280.32 1103.32L1281.11 1102.01M1283.07 1098.64L1283.82 1097.30L1284.56 1095.95L1285.29 1094.60L1286.01 1093.24L1286.71 1091.88L1287.41 1090.51L1288.10 1089.13M1290.24 1084.73L1290.90 1083.34L1291.54 1081.94L1292.19 1080.54L1292.82 1079.13L1293.45 1077.73L1294.07 1076.32L1294.69 1074.90L1295.30 1073.49L1295.90 1072.07L1296.50 1070.65L1297.09 1069.23L1297.68 1067.80L1298.26 1066.38L1298.84 1064.95M1300.29 1061.30L1300.85 1059.86L1301.41 1058.42L1301.96 1056.98L1302.51 1055.53L1303.05 1054.09L1303.59 1052.64L1304.13 1051.19M1305.82 1046.57L1306.34 1045.12L1306.86 1043.66L1307.38 1042.20L1307.89 1040.75L1308.40 1039.29L1308.91 1037.82L1309.41 1036.36L1309.92 1034.90L1310.41 1033.44L1310.91 1031.97L1311.40 1030.51L1311.89 1029.04L1312.38 1027.57L1312.87 1026.10M1314.09 1022.36L1314.57 1020.89L1315.05 1019.41L1315.52 1017.94L1315.99 1016.46L1316.46 1014.99L1316.93 1013.51L1317.39 1012.04M1318.86 1007.33L1319.32 1005.85L1319.77 1004.37L1320.22 1002.89L1320.68 1001.41L1321.13 999.92L1321.57 998.44L1322.02 996.96L1322.47 995.47L1322.91 993.99L1323.35 992.50L1323.79 991.02L1324.23 989.53L1324.67 988.04L1325.10 986.56M1326.21 982.77L1326.64 981.28L1327.07 979.79L1327.50 978.30L1327.93 976.81L1328.35 975.32L1328.78 973.83L1329.20 972.34M1330.54 967.59L1330.96 966.10L1331.38 964.60L1331.80 963.11L1332.21 961.62L1332.63 960.12L1333.04 958.63L1333.45 957.13L1333.87 955.64L1334.28 954.14L1334.69 952.64L1335.10 951.15L1335.50 949.65L1335.91 948.15L1336.32 946.66M1337.35 942.85L1337.75 941.35L1338.16 939.85L1338.56 938.35L1338.96 936.85L1339.36 935.35L1339.76 933.85L1340.16 932.35M1341.43 927.58L1341.82 926.08L1342.22 924.58L1342.62 923.08L1343.01 921.58L1343.41 920.08L1343.80 918.58L1344.19 917.08L1344.58 915.57L1344.98 914.07L1345.37 912.57L1345.76 911.07L1346.15 909.57L1346.54 908.06L1346.93 906.56M1347.92 902.74L1348.31 901.23L1348.69 899.73L1349.08 898.23L1349.47 896.72L1349.85 895.22L1350.24 893.72L1350.62 892.21M1351.85 887.43L1352.23 885.92L1352.62 884.42L1353.00 882.91L1353.38 881.41L1353.77 879.90L1354.15 878.40L1354.53 876.90L1354.91 875.39L1355.30 873.89L1355.68 872.38L1356.06 870.88L1356.44 869.37L1356.82 867.87L1357.20 866.36M1358.17 862.53L1358.55 861.03L1358.93 859.52L1359.31 858.02L1359.69 856.52L1360.07 855.02L1360.45 853.51L1360.83 852.01M1362.03 847.23L1362.41 845.73L1362.79 844.23L1363.17 842.72L1363.55 841.22L1363.92 839.72L1364.30 838.22L1364.68 836.71L1365.06 835.21L1365.44 833.71L1365.82 832.21L1366.19 830.70L1366.57 829.20L1366.95 827.70L1367.33 826.20M1368.30 822.37L1368.67 820.87L1369.05 819.37L1369.43 817.86L1369.81 816.36L1370.19 814.86L1370.57 813.36L1370.95 811.86M1372.16 807.08L1372.54 805.58L1372.92 804.07L1373.30 802.57L1373.68 801.07L1374.07 799.57L1374.45 798.07L1374.83 796.57L1375.21 795.06L1375.59 793.56L1375.98 792.06L1376.36 790.56L1376.74 789.06L1377.13 787.56L1377.51 786.06M1378.49 782.24L1378.88 780.74L1379.26 779.24L1379.65 777.74L1380.03 776.24L1380.42 774.74L1380.81 773.24L1381.20 771.74M1382.43 766.97L1382.82 765.47L1383.21 763.97L1383.60 762.47L1384.00 760.97L1384.39 759.48L1384.78 757.98L1385.17 756.48L1385.57 754.98L1385.96 753.48L1386.36 751.99L1386.75 750.49L1387.15 748.99L1387.54 747.50L1387.94 746.00M1388.96 742.19L1389.35 740.70L1389.76 739.20L1390.16 737.70L1390.56 736.21L1390.96 734.71L1391.36 733.22L1391.77 731.73M1393.06 726.97L1393.47 725.48L1393.88 723.99L1394.29 722.50L1394.70 721.00L1395.11 719.51L1395.52 718.02L1395.93 716.53L1396.35 715.04L1396.76 713.55L1397.18 712.06L1397.60 710.57L1398.01 709.08L1398.43 707.59L1398.86 706.10M1399.93 702.31L1400.36 700.82L1400.78 699.34L1401.21 697.85L1401.64 696.37L1402.07 694.88L1402.50 693.39L1402.93 691.91M1404.32 687.19L1404.75 685.71L1405.19 684.23L1405.63 682.74L1406.08 681.26L1406.52 679.78L1406.97 678.30L1407.41 676.83L1407.86 675.35L1408.31 673.87L1408.77 672.39L1409.22 670.91L1409.68 669.44L1410.14 667.96L1410.60 666.49M1411.78 662.74L1412.24 661.26L1412.71 659.79L1413.18 658.32L1413.65 656.85L1414.13 655.38L1414.61 653.92L1415.09 652.45M1416.63 647.79L1417.12 646.32L1417.61 644.86L1418.11 643.40L1418.60 641.94L1419.11 640.49L1419.61 639.03L1420.11 637.57L1420.62 636.12L1421.14 634.66L1421.65 633.21L1422.17 631.76L1422.69 630.31L1423.22 628.86L1423.75 627.41M1425.11 623.73L1425.65 622.29L1426.19 620.85L1426.74 619.41L1427.30 617.98L1427.86 616.54L1428.42 615.11L1428.98 613.68M1430.82 609.14L1431.40 607.72L1431.99 606.30L1432.59 604.89L1433.19 603.48L1433.80 602.07L1434.41 600.66L1435.03 599.26L1435.66 597.85L1436.29 596.46L1436.93 595.06L1437.58 593.67L1438.23 592.28L1438.89 590.89L1439.56 589.51M1441.31 586.02L1442.00 584.66L1442.71 583.31L1443.43 581.96L1444.16 580.61L1444.90 579.28L1445.65 577.94L1446.41 576.62M1448.92 572.46L1449.73 571.18L1450.56 569.91L1451.41 568.65L1452.27 567.41L1453.15 566.17L1454.05 564.95L1454.97 563.74L1455.91 562.55L1456.87 561.38L1457.86 560.23L1458.87 559.10L1459.91 558.00L1460.98 556.92L1462.09 555.88M1465.02 553.42L1466.22 552.54L1467.47 551.71L1468.75 550.94L1470.07 550.24L1471.43 549.62L1472.83 549.09L1474.26 548.66M1478.93 548.01L1480.43 548.05L1481.91 548.21L1483.38 548.49L1484.82 548.88L1486.24 549.36L1487.62 549.94L1488.96 550.60L1490.26 551.34L1491.52 552.14L1492.75 553.00L1493.93 553.90L1495.09 554.86L1496.21 555.85L1497.29 556.88M1499.95 559.65L1500.95 560.79L1501.93 561.95L1502.88 563.13L1503.81 564.33L1504.72 565.55L1505.61 566.77L1506.48 568.02M1509.15 572.06L1509.96 573.36L1510.76 574.66L1511.54 575.98L1512.31 577.30L1513.07 578.63L1513.81 579.96L1514.55 581.30L1515.27 582.65L1515.98 584.00L1516.69 585.36L1517.38 586.72L1518.06 588.09L1518.74 589.46L1519.41 590.83M1521.08 594.36L1521.72 595.76L1522.36 597.15L1522.99 598.55L1523.61 599.96L1524.23 601.36L1524.84 602.77L1525.45 604.18M1527.34 608.69L1527.92 610.11L1528.50 611.54L1529.07 612.97L1529.64 614.40L1530.21 615.83L1530.77 617.26L1531.32 618.70L1531.87 620.14L1532.42 621.58L1532.96 623.02L1533.50 624.46L1534.04 625.90L1534.57 627.34L1535.10 628.79M1536.43 632.48L1536.95 633.93L1537.46 635.39L1537.97 636.84L1538.48 638.30L1538.99 639.75L1539.49 641.21L1539.99 642.67M1541.56 647.32L1542.05 648.78L1542.54 650.25L1543.02 651.72L1543.50 653.18L1543.98 654.65L1544.46 656.12L1544.93 657.59L1545.40 659.06L1545.88 660.53L1546.34 662.00L1546.81 663.47L1547.27 664.94L1547.74 666.42L1548.20 667.89M1549.36 671.65L1549.82 673.13L1550.27 674.62L1550.72 676.10L1551.17 677.58L1551.62 679.06L1552.06 680.54L1552.51 682.03M1553.91 686.75L1554.35 688.24L1554.79 689.72L1555.23 691.21L1555.66 692.70L1556.09 694.19L1556.53 695.68L1556.96 697.16L1557.38 698.65L1557.81 700.14L1558.24 701.63L1558.66 703.12L1559.09 704.61L1559.51 706.10L1559.93 707.60M1561.00 711.39L1561.42 712.90L1561.84 714.40L1562.26 715.91L1562.68 717.42L1563.10 718.92" stroke="#ff00ff"/>
<path d="M100.00 324.85L102.00 324.87L103.99 325.08L105.94 325.48L107.85 326.08L109.70 326.85L111.48 327.76L113.19 328.80L114.83 329.94L116.40 331.17L117.92 332.47L119.38 333.84L120.78 335.27L122.13 336.74L123.44 338.25L124.70 339.80L125.93 341.38L127.12 342.98L128.28 344.62L129.41 346.27L130.51 347.94L131.58 349.63L132.62 351.33L133.65 353.05L134.65 354.78L135.63 356.52L136.59 358.27L137.53 360.04L138.46 361.81L139.37 363.59L140.26 365.38L141.14 367.17L142.01 368.98L142.86 370.79L143.70 372.60L144.53 374.42L145.35 376.24L146.16 378.07L146.95 379.91L147.74 381.75L148.51 383.59L149.28 385.44L150.04 387.29L150.79 389.14L151.53 391.00L152.27 392.86L152.99 394.72L153.71 396.59L154.42 398.45L155.13 400.32L155.83 402.20L156.52 404.07L157.21 405.95L157.89 407.83L158.56 409.71L159.23 411.60L159.90 413.48L160.56 415.37L161.21 417.26L161.86 419.15L162.51 421.05L163.15 422.94L163.78 424.84L164.41 426.73L165.04 428.63L165.67 430.53L166.29 432.43L166.90 434.33L167.51 436.24L168.12 438.14L168.73 440.05L169.33 441.96L169.93 443.86L170.52 445.77L171.11 447.68L171.70 449.59L172.29 451.51L172.87 453.42L173.45 455.33L174.03 457.25L174.60 459.16L175.17 461.08L175.74 462.99L176.31 464.91L176.88 466.83L177.44 468.75L178.00 470.67L178.56 472.59L179.11 474.51L179.66 476.43L180.22 478.35L180.76 480.28L181.31 482.20L181.86 484.12L182.40 486.05L182.94 487.97L183.48 489.90L184.02 491.82L184.56 493.75L185.09 495.68L185.62 497.60L186.15 499.53L186.68 501.46L187.21 503.39L187.74 505.32L188.27 507.25L188.79 509.18L189.31 511.11L189.83 513.04L190.35 514.97L190.87 516.90L191.39 518.83L191.91 520.76L192.42 522.69L192.94 524.63L193.45 526.56L193.96 528.49L194.47 530.42L194.98 532.36L195.49 534.29L196.00 536.23L196.51 538.16L197.01 540.09L197.52 542.03L198.02 543.96L198.53 545.90L199.03 547.83L199.53 549.77L200.03 551.71L200.53 553.64L201.03 555.58L201.53 557.51L202.03 559.45L202.53 561.39L203.03 563.32L203.52 565.26L204.02 567.20L204.52 569.13L205.01 571.07L205.51 573.01L206.00 574.95L206.49 576.88L206.99 578.82L207.48 580.76L207.97 582.70L208.47 584.64L208.96 586.57L209.45 588.51L209.94 590.45L210.43 592.39L210.92 594.33L211.42 596.27L211.91 598.20L212.40 600.14L212.89 602.08L213.38 604.02L213.87 605.96L214.36 607.90L214.85 609.83L215.34 611.77L215.83 613.71L216.32 615.65L216.81 617.59L217.30 619.53L217.79 621.47L218.28 623.41L218.77 625.34L219.26 627.28L219.75 629.22L220.24 631.16L220.73 633.10L221.22 635.04L221.71 636.97L222.20 638.91L222.70 640.85L223.19 642.79L223.68 644.73L224.17 646.66L224.67 648.60L225.16 650.54L225.65 652.48L226.15 654.42L226.64 656.35L227.14 658.29L227.63 660.23L228.13 662.16L228.63 664.10L229.12 666.04L229.62 667.97L230.12 669.91L230.62 671.85L231.12 673.78L231.62 675.72L232.12 677.66L232.62 679.59L233.12 681.53L233.63 683.46L234.13 685.40L234.64 687.33L235.14 689.27L235.65 691.20L236.16 693.13L236.66 695.07L237.17 697.00L237.68 698.93L238.20 700.87L238.71 702.80L239.22 704.73L239.74 706.67L240.25 708.60L240.77 710.53L241.29 712.46L241.81 714.39L242.33 716.32L242.85 718.25L243.37 720.18L243.90 722.11L244.43 724.04L244.95 725.97L245.48 727.90L246.01 729.82L246.55 731.75L247.08 733.68L247.62 735.61L248.15 737.53L248.69 739.46L249.23 741.38L249.78 743.31L250.32 745.23L250.87 747.15L251.41 749.08L251.97 751.00L252.52 752.92L253.07 754.84L253.63 756.76L254.19 758.68L254.75 760.60L255.31 762.52L255.88 764.44L256.45 766.36L257.02 768.27L257.59 770.19L258.17 772.10L258.75 774.02L259.33 775.93L259.91 777.84L260.50 779.75L261.09 781.66L261.69 783.57L262.28 785.48L262.88 787.39L263.49 789.29L264.09 791.20L264.70 793.10L265.32 795.01L265.94 796.91L266.56 798.81L267.18 800.71L267.81 802.61L268.45 804.50L269.09 806.40L269.73 808.29L270.38 810.18L271.03 812.07L271.69 813.96L272.35 815.85L273.02 817.73L273.69 819.62L274.37 821.50L275.05 823.37L275.74 825.25L276.44 827.13L277.14 829.00L277.85 830.87L278.57 832.73L279.29 834.60L280.02 836.46L280.76 838.32L281.51 840.17L282.27 842.02L283.03 843.87L283.80 845.72L284.58 847.56L285.38 849.39L286.18 851.22L286.99 853.05L287.81 854.87L288.65 856.69L289.50 858.50L290.36 860.31L291.23 862.10L292.12 863.89L293.03 865.68L293.94 867.45L294.88 869.22L295.84 870.98L296.81 872.73L297.80 874.46L298.82 876.18L299.85 877.89L300.91 879.59L302.00 881.27L303.12 882.93L304.26 884.57L305.44 886.18L306.65 887.77L307.90 889.33L309.19 890.86L310.53 892.35L311.91 893.79L313.34 895.19L314.83 896.52L316.38 897.78L318.00 898.96L319.68 900.04L321.43 901.00L323.25 901.83L325.14 902.50L327.08 902.98L329.05 903.27L331.05 903.35L333.04 903.21L335.01 902.86L336.94 902.32L338.80 901.60L340.60 900.73L342.33 899.73L343.99 898.62L345.59 897.41L347.12 896.13L348.59 894.77L350.01 893.37L351.38 891.91L352.70 890.41L353.98 888.87L355.22 887.30L356.42 885.70L357.59 884.08L358.72 882.43L359.83 880.77L360.91 879.08L361.96 877.38L362.99 875.67L364.00 873.94L364.99 872.20L365.95 870.45L366.90 868.69L367.83 866.92L368.75 865.14L369.65 863.36L370.53 861.56L371.40 859.76L372.26 857.96L373.10 856.15L373.93 854.33L374.76 852.50L375.56 850.68L376.36 848.84L377.15 847.00L377.93 845.16L378.70 843.32L379.46 841.47L380.22 839.62L380.96 837.76L381.70 835.90L382.42 834.04L383.15 832.17L383.86 830.31L384.57 828.44L385.27 826.56L385.96 824.69L386.65 822.81L387.34 820.93L388.01 819.05L388.68 817.17L389.35 815.28L390.01 813.39L390.67 811.51L391.32 809.62L391.96 807.72L392.61 805.83L393.24 803.93L393.88 802.04L394.51 800.14L395.13 798.24L395.75 796.34L396.37 794.44L396.98 792.53L397.59 790.63L398.20 788.72L398.80 786.82L399.40 784.91L399.99 783.00L400.59 781.09L401.18 779.18L401.76 777.27L402.35 775.36L402.93 773.44L403.51 771.53L404.08 769.61L404.65 767.70L405.22 765.78L405.79 763.86L406.36 761.95L406.92 760.03L407.48 758.11L408.04 756.19L408.60 754.27L409.15 752.35L409.70 750.42L410.25 748.50L410.80 746.58L411.34 744.65L411.89 742.73L412.43 740.81L412.97 738.88L413.51 736.95L414.05 735.03L414.58 733.10L415.11 731.17L415.65 729.25L416.18 727.32L416.71 725.39L417.23 723.46L417.76 721.53L418.28 719.60L418.81 717.67L419.33 715.74L419.85 713.81L420.37 711.88L420.89 709.95L421.40 708.02L421.92 706.09L422.43 704.15L422.95 702.22L423.46 700.29L423.97 698.36L424.48 696.42L424.99 694.49L425.50 692.55L426.00 690.62L426.51 688.69L427.02 686.75L427.52 684.82L428.02 682.88L428.53 680.95L429.03 679.01L429.53 677.07L430.03 675.14L430.53 673.20L431.03 671.27L431.53 669.33L432.03 667.39L432.53 665.46L433.02 663.52L433.52 661.58L434.02 659.65L434.51 657.71L435.01 655.77L435.50 653.83L436.00 651.90L436.49 649.96L436.98 648.02L437.48 646.08L437.97 644.15L438.46 642.21L438.95 640.27L439.44 638.33L439.94 636.39L440.43 634.45L440.92 632.52L441.41 630.58L441.90 628.64L442.39 626.70L442.88 624.76L443.37 622.82L443.86 620.89L444.35 618.95L444.84 617.01L445.33 615.07L445.82 613.13L446.31 611.19L446.80 609.25L447.29 607.31L447.78 605.38L448.27 603.44L448.76 601.50L449.25 599.56L449.74 597.62L450.23 595.68L450.72 593.75L451.22 591.81L451.71 589.87L452.20 587.93L452.69 585.99L453.18 584.05L453.68 582.12L454.17 580.18L454.66 578.24L455.16 576.30L455.65 574.37L456.14 572.43L456.64 570.49L457.13 568.55L457.63 566.62L458.13 564.68L458.62 562.74L459.12 560.81L459.62 558.87L460.12 556.93L460.62 555.00L461.12 553.06L461.62 551.13L462.12 549.19L462.62 547.25L463.13 545.32L463.63 543.38L464.13 541.45L464.64 539.51L465.15 537.58L465.65 535.65L466.16 533.71L466.67 531.78L467.18 529.84L467.69 527.91L468.21 525.98L468.72 524.05L469.23 522.11L469.75 520.18L470.27 518.25L470.78 516.32L471.30 514.39L471.82 512.46L472.35 510.53L472.87 508.60L473.39 506.67L473.92 504.74L474.45 502.81L474.97 500.88L475.51 498.95L476.04 497.03L476.57 495.10L477.11 493.17L477.64 491.25L478.18 489.32L478.72 487.39L479.26 485.47L479.81 483.55L480.35 481.62L480.90 479.70L481.45 477.78L482.00 475.85L482.56 473.93L483.11 472.01L483.67 470.09L484.23 468.17L484.79 466.25L485.36 464.34L485.93 462.42L486.50 460.50L487.07 458.59L487.65 456.67L488.22 454.76L488.80 452.84L489.39 450.93L489.97 449.02L490.56 447.11L491.16 445.20L491.75 443.29L492.35 441.38L492.96 439.48L493.56 437.57L494.17 435.67L494.78 433.76L495.40 431.86L496.02 429.96L496.65 428.06L497.27 426.16L497.91 424.27L498.55 422.37L499.19 420.48L499.83 418.59L500.48 416.69L501.14 414.81L501.80 412.92L502.47 411.03L503.14 409.15L503.82 407.27L504.50 405.39L505.19 403.51L505.88 401.64L506.58 399.76L507.29 397.89L508.00 396.03L508.73 394.16L509.46 392.30L510.19 390.44L510.94 388.58L511.69 386.73L512.45 384.88L513.22 383.04L514.00 381.20L514.79 379.36L515.59 377.52L516.40 375.70L517.22 373.87L518.05 372.05L518.89 370.24L519.75 368.44L520.62 366.64L521.50 364.84L522.40 363.06L523.32 361.28L524.25 359.51L525.20 357.75L526.16 356.00L527.15 354.26L528.16 352.53L529.19 350.82L530.24 349.12L531.32 347.44L532.43 345.77L533.56 344.12L534.73 342.50L535.93 340.90L537.17 339.33L538.45 337.79L539.77 336.29L541.14 334.83L542.56 333.43L544.03 332.07L545.56 330.79L547.16 329.58L548.82 328.47L550.55 327.47L552.35 326.60L554.22 325.88L556.14 325.34L558.11 324.99L560.10 324.85L562.10 324.93L564.08 325.22L566.01 325.70L567.90 326.37L569.72 327.20L571.47 328.16L573.15 329.24L574.77 330.42L576.32 331.68L577.81 333.01L579.24 334.41L580.63 335.85L581.96 337.34L583.25 338.87L584.50 340.43L585.71 342.02L586.89 343.63L588.04 345.27L589.15 346.93L590.24 348.61L591.30 350.31L592.34 352.02L593.35 353.74L594.34 355.47L595.32 357.22L596.27 358.98L597.21 360.75L598.13 362.52L599.03 364.31L599.92 366.10L600.79 367.89L601.65 369.70L602.50 371.51L603.34 373.33L604.16 375.15L604.97 376.98L605.78 378.81L606.57 380.64L607.35 382.48L608.12 384.33L608.89 386.18L609.64 388.03L610.39 389.88L611.13 391.74L611.86 393.60L612.58 395.47L613.30 397.33L614.01 399.20L614.71 401.07L615.41 402.95L616.10 404.82L616.78 406.70L617.46 408.58L618.13 410.47L618.80 412.35L619.46 414.24L620.12 416.13L620.77 418.02L621.42 419.91L622.06 421.80L622.70 423.70L623.34 425.59L623.97 427.49L624.59 429.39L625.22 431.29L625.83 433.19L626.45 435.10L627.06 437.00L627.67 438.91L628.27 440.81L628.87 442.72L629.47 444.63L630.06 446.54L630.65 448.45L631.24 450.36L631.82 452.27L632.40 454.18L632.98 456.10L633.56 458.01L634.13 459.93L634.70 461.84L635.27 463.76L635.84 465.68L636.40 467.60L636.96 469.52L637.52 471.44L638.08 473.36L638.63 475.28L639.19 477.20L639.74 479.12L640.28 481.05L640.83 482.97L641.38 484.89L641.92 486.82L642.46 488.74L643.00 490.67L643.54 492.59L644.07 494.52L644.60 496.45L645.14 498.37L645.67 500.30L646.20 502.23L646.73 504.16L647.25 506.09L647.78 508.02L648.30 509.95L648.82 511.88L649.34 513.81L649.86 515.74L650.38 517.67L650.90 519.60L651.41 521.53L651.93 523.47L652.44 525.40L652.95 527.33L653.47 529.26L653.98 531.20L654.49 533.13L654.99 535.07L655.50 537.00L656.01 538.93L656.52 540.87L657.02 542.80L657.52 544.74L658.03 546.67L658.53 548.61L659.03 550.54L659.53 552.48L660.03 554.42L660.53 556.35L661.03 558.29L661.53 560.23L662.03 562.16L662.53 564.10L663.02 566.04L663.52 567.97L664.01 569.91L664.51 571.85L665.00 573.78L665.50 575.72L665.99 577.66L666.49 579.60L666.98 581.54L667.47 583.47L667.96 585.41L668.46 587.35L668.95 589.29L669.44 591.23L669.93 593.16L670.42 595.10L670.91 597.04L671.40 598.98L671.89 600.92L672.38 602.86L672.87 604.79L673.36 606.73L673.85 608.67L674.34 610.61L674.83 612.55L675.32 614.49L675.81 616.43L676.30 618.36L676.79 620.30L677.28 622.24L677.77 624.18L678.26 626.12L678.75 628.06L679.25 630.00L679.74 631.93L680.23 633.87L680.72 635.81L681.21 637.75L681.70 639.69L682.19 641.63L682.69 643.56L683.18 645.50L683.67 647.44L684.16 649.38L684.66 651.32L685.15 653.25L685.65 655.19L686.14 657.13L686.64 659.07L687.13 661.00L687.63 662.94L688.13 664.88L688.62 666.81L689.12 668.75L689.62 670.69L690.12 672.62L690.62 674.56L691.12 676.49L691.62 678.43L692.12 680.37L692.63 682.30L693.13 684.24L693.63 686.17L694.14 688.11L694.65 690.04L695.15 691.97L695.66 693.91L696.17 695.84L696.68 697.78L697.19 699.71L697.70 701.64L698.22 703.57L698.73 705.51L699.24 707.44L699.76 709.37L700.28 711.30L700.80 713.23L701.32 715.16L701.84 717.09L702.36 719.02L702.89 720.95L703.41 722.88L703.94 724.81L704.47 726.74L705.00 728.67L705.53 730.60L706.06 732.52L706.60 734.45L707.13 736.38L707.67 738.30L708.21 740.23L708.75 742.15L709.29 744.08L709.84 746.00L710.39 747.92L710.94 749.85L711.49 751.77L712.04 753.69L712.60 755.61L713.15 757.53L713.71 759.45L714.28 761.37L714.84 763.29L715.41 765.21L715.98 767.12L716.55 769.04L717.12 770.95L717.70 772.87L718.28 774.78L718.86 776.69L719.45 778.61L720.04 780.52L720.63 782.43L721.22 784.34L721.82 786.24L722.42 788.15L723.03 790.06L723.64 791.96L724.25 793.87L724.87 795.77L725.49 797.67L726.11 799.57L726.74 801.47L727.37 803.36L728.00 805.26L728.64 807.15L729.29 809.05L729.94 810.94L730.59 812.83L731.25 814.72L731.92 816.60L732.59 818.49L733.26 820.37L733.94 822.25L734.63 824.13L735.32 826.00L736.02 827.87L736.73 829.75L737.44 831.61L738.16 833.48L738.89 835.34L739.62 837.20L740.36 839.06L741.11 840.91L741.87 842.76L742.64 844.61L743.41 846.45L744.20 848.29L745.00 850.13L745.80 851.96L746.62 853.78L747.45 855.60L748.29 857.41L749.14 859.22L750.01 861.03L750.89 862.82L751.78 864.61L752.69 866.39L753.62 868.16L754.56 869.93L755.52 871.68L756.50 873.42L757.51 875.15L758.53 876.87L759.57 878.57L760.65 880.26L761.74 881.93L762.87 883.58L764.03 885.21L765.22 886.82L766.45 888.40L767.71 889.95L769.02 891.46L770.37 892.93L771.78 894.36L773.23 895.73L774.75 897.03L776.32 898.26L777.96 899.40L779.67 900.44L781.45 901.35L783.30 902.12L785.21 902.72L787.16 903.12L789.15 903.33L791.15 903.32L793.14 903.09L795.09 902.66L796.99 902.05L798.83 901.27L800.60 900.34L802.31 899.30L803.94 898.14L805.51 896.91L807.02 895.59L808.47 894.22L809.87 892.79L811.22 891.31L812.52 889.79L813.78 888.24L815.00 886.66L816.19 885.05L817.35 883.42L818.47 881.77L819.56 880.09L820.63 878.40L821.68 876.70L822.70 874.98L823.70 873.25L824.68 871.50L825.64 869.75L826.58 867.99L827.50 866.21L828.41 864.43L829.30 862.64L830.18 860.85L831.05 859.04L831.90 857.23L832.74 855.42L833.57 853.60L834.38 851.77L835.19 849.94L835.98 848.11L836.77 846.27L837.54 844.43L838.31 842.58L839.07 840.73L839.82 838.87L840.56 837.02L841.29 835.16L842.02 833.29L842.73 831.43L843.45 829.56L844.15 827.69L844.85 825.81L845.54 823.94L846.23 822.06L846.91 820.18L847.58 818.30L848.25 816.41L848.92 814.53L849.58 812.64L850.23 810.75L850.88 808.86L851.52 806.97L852.16 805.07L852.80 803.18L853.43 801.28L854.06 799.38L854.68 797.48L855.30 795.58L855.91 793.68L856.53 791.77L857.13 789.87L857.74 787.96L858.34 786.05L858.94 784.15L859.53 782.24L860.12 780.33L860.71 778.42L861.30 776.50L861.88 774.59L862.46 772.68L863.04 770.76L863.61 768.85L864.18 766.93L864.75 765.01L865.32 763.10L865.88 761.18L866.45 759.26L867.01 757.34L867.56 755.42L868.12 753.50L868.67 751.58L869.22 749.65L869.77 747.73L870.32 745.81L870.86 743.88L871.41 741.96L871.95 740.04L872.49 738.11L873.02 736.18L873.56 734.26L874.10 732.33L874.63 730.40L875.16 728.48L875.69 726.55L876.22 724.62L876.74 722.69L877.27 720.76L877.79 718.83L878.32 716.90L878.84 714.97L879.36 713.04L879.88 711.11L880.39 709.18L880.91 707.25L881.42 705.31L881.94 703.38L882.45 701.45L882.96 699.52L883.47 697.58L883.98 695.65L884.49 693.71L885.00 691.78L885.51 689.85L886.01 687.91L886.52 685.98L887.02 684.04L887.53 682.11L888.03 680.17L888.53 678.24L889.03 676.30L889.53 674.36L890.03 672.43L890.53 670.49L891.03 668.56L891.53 666.62L892.03 664.68L892.52 662.75L893.02 660.81L893.52 658.87L894.01 656.93L894.51 655.00L895.00 653.06L895.49 651.12L895.99 649.18L896.48 647.25L896.97 645.31L897.47 643.37L897.96 641.43L898.45 639.49L898.94 637.56L899.43 635.62L899.92 633.68L900.42 631.74L900.91 629.80L901.40 627.86L901.89 625.93L902.38 623.99L902.87 622.05L903.36 620.11L903.85 618.17L904.34 616.23L904.83 614.29L905.32 612.36L905.81 610.42L906.30 608.48L906.79 606.54L907.28 604.60L907.77 602.66L908.26 600.72L908.75 598.79L909.24 596.85L909.73 594.91L910.22 592.97L910.71 591.03L911.20 589.09L911.70 587.16L912.19 585.22L912.68 583.28L913.17 581.34L913.67 579.40L914.16 577.47L914.65 575.53L915.15 573.59L915.64 571.65L916.14 569.72L916.63 567.78L917.13 565.84L917.63 563.90L918.12 561.97L918.62 560.03L919.12 558.09L919.62 556.16L920.12 554.22L920.62 552.29L921.12 550.35L921.62 548.42L922.13 546.48L922.63 544.54L923.13 542.61L923.64 540.68L924.14 538.74L924.65 536.81L925.16 534.87L925.67 532.94L926.18 531.00L926.69 529.07L927.20 527.14L927.71 525.21L928.23 523.27L928.74 521.34L929.26 519.41L929.77 517.48L930.29 515.55L930.81 513.62L931.33 511.69L931.86 509.76L932.38 507.83L932.90 505.90L933.43 503.97L933.96 502.04L934.49 500.11L935.02 498.18L935.55 496.25L936.09 494.33L936.62 492.40L937.16 490.48L937.70 488.55L938.24 486.62L938.78 484.70L939.33 482.78L939.87 480.85L940.42 478.93L940.97 477.01L941.52 475.09L942.08 473.16L942.64 471.24L943.20 469.32L943.76 467.41L944.32 465.49L944.89 463.57L945.46 461.65L946.03 459.74L946.60 457.82L947.18 455.91L947.76 453.99L948.34 452.08L948.92 450.17L949.51 448.26L950.10 446.35L950.70 444.44L951.29 442.53L951.89 440.62L952.50 438.71L953.11 436.81L953.72 434.91L954.33 433.00L954.95 431.10L955.57 429.20L956.20 427.30L956.83 425.40L957.46 423.51L958.10 421.61L958.75 419.72L959.39 417.83L960.05 415.94L960.70 414.05L961.37 412.16L962.04 410.28L962.71 408.40L963.39 406.52L964.07 404.64L964.76 402.76L965.46 400.89L966.17 399.02L966.88 397.15L967.59 395.28L968.32 393.42L969.05 391.55L969.79 389.70L970.54 387.84L971.29 385.99L972.06 384.14L972.83 382.30L973.61 380.46L974.41 378.62L975.21 376.79L976.02 374.97L976.85 373.14L977.69 371.33L978.53 369.52L979.40 367.71L980.27 365.92L981.16 364.13L982.07 362.34L982.99 360.57L983.93 358.80L984.88 357.05L985.86 355.30L986.85 353.57L987.87 351.84L988.91 350.14L989.97 348.44L991.06 346.77L992.18 345.11L993.33 343.47L994.51 341.86L995.72 340.27L996.98 338.71L998.27 337.19L999.61 335.70L1001.00 334.26L1002.44 332.88L1003.94 331.55L1005.49 330.30L1007.11 329.13L1008.80 328.06L1010.56 327.11L1012.39 326.30L1014.28 325.65L1016.22 325.18L1018.20 324.91L1020.20 324.86L1022.19 325.02L1024.16 325.39L1026.08 325.95L1027.94 326.68L1029.73 327.57L1031.45 328.58L1033.11 329.70L1034.70 330.91L1036.22 332.21L1037.69 333.56L1039.10 334.98L1040.47 336.44L1041.78 337.95L1043.06 339.49L1044.29 341.06L1045.49 342.66L1046.65 344.29L1047.79 345.94L1048.89 347.60L1049.97 349.29L1051.02 350.99L1052.05 352.70L1053.05 354.43L1054.04 356.17L1055.00 357.92L1055.95 359.68L1056.88 361.46L1057.79 363.23L1058.69 365.02L1059.57 366.81L1060.44 368.62L1061.30 370.42L1062.14 372.24L1062.97 374.06L1063.79 375.88L1064.60 377.71L1065.39 379.54L1066.18 381.38L1066.96 383.22L1067.73 385.07L1068.49 386.92L1069.24 388.77L1069.99 390.63L1070.72 392.48L1071.45 394.35L1072.17 396.21L1072.88 398.08L1073.59 399.95L1074.29 401.82L1074.98 403.70L1075.67 405.58L1076.36 407.46L1077.03 409.34L1077.70 411.22L1078.37 413.11L1079.03 414.99L1079.68 416.88L1080.33 418.77L1080.98 420.67L1081.62 422.56L1082.26 424.46L1082.89 426.35L1083.52 428.25L1084.14 430.15L1084.76 432.05L1085.38 433.95L1085.99 435.86L1086.60 437.76L1087.21 439.67L1087.81 441.57L1088.41 443.48L1089.00 445.39L1089.60 447.30L1090.19 449.21L1090.77 451.12L1091.36 453.04L1091.94 454.95L1092.51 456.86L1093.09 458.78L1093.66 460.69L1094.23 462.61L1094.80 464.53L1095.36 466.45L1095.93 468.37L1096.49 470.28L1097.05 472.20L1097.60 474.13L1098.16 476.05L1098.71 477.97L1099.26 479.89L1099.80 481.81L1100.35 483.74L1100.89 485.66L1101.44 487.59L1101.98 489.51L1102.51 491.44L1103.05 493.36L1103.59 495.29L1104.12 497.22L1104.65 499.15L1105.18 501.07L1105.71 503.00L1106.24 504.93L1106.76 506.86L1107.29 508.79L1107.81 510.72L1108.33 512.65L1108.85 514.58L1109.37 516.51L1109.89 518.44L1110.41 520.38L1110.92 522.31L1111.44 524.24L1111.95 526.17L1112.46 528.11L1112.97 530.04L1113.48 531.97L1113.99 533.91L1114.50 535.84L1115.01 537.77L1115.51 539.71L1116.02 541.64L1116.52 543.58L1117.03 545.51L1117.53 547.45L1118.03 549.38L1118.53 551.32L1119.03 553.25L1119.53 555.19L1120.03 557.13L1120.53 559.06L1121.03 561.00L1121.53 562.94L1122.03 564.87L1122.52 566.81L1123.02 568.75L1123.51 570.68L1124.01 572.62L1124.50 574.56L1125.00 576.50L1125.49 578.43L1125.98 580.37L1126.48 582.31L1126.97 584.25L1127.46 586.19L1127.95 588.12L1128.45 590.06L1128.94 592.00L1129.43 593.94L1129.92 595.88L1130.41 597.82L1130.90 599.75L1131.39 601.69L1131.88 603.63L1132.37 605.57L1132.86 607.51L1133.35 609.45L1133.84 611.39L1134.33 613.32L1134.82 615.26L1135.31 617.20L1135.80 619.14L1136.29 621.08L1136.78 623.02L1137.27 624.96L1137.76 626.89L1138.25 628.83L1138.74 630.77L1139.23 632.71L1139.72 634.65L1140.22 636.59L1140.71 638.53L1141.20 640.46L1141.69 642.40L1142.18 644.34L1142.68 646.28L1143.17 648.22L1143.66 650.15L1144.16 652.09L1144.65 654.03L1145.14 655.97L1145.64 657.90L1146.14 659.84L1146.63 661.78L1147.13 663.71L1147.62 665.65L1148.12 667.59L1148.62 669.52L1149.12 671.46L1149.62 673.40L1150.12 675.33L1150.62 677.27L1151.12 679.20L1151.62 681.14L1152.13 683.07L1152.63 685.01L1153.14 686.94L1153.64 688.88L1154.15 690.81L1154.66 692.75L1155.16 694.68L1155.67 696.62L1156.18 698.55L1156.70 700.48L1157.21 702.41L1157.72 704.35L1158.24 706.28L1158.75 708.21L1159.27 710.14L1159.79 712.07L1160.31 714.01L1160.83 715.94L1161.35 717.87L1161.87 719.80L1162.40 721.73L1162.92 723.65L1163.45 725.58L1163.98 727.51L1164.51 729.44L1165.04 731.37L1165.58 733.29L1166.11 735.22L1166.65 737.15L1167.19 739.07L1167.73 741.00L1168.27 742.92L1168.81 744.85L1169.36 746.77L1169.91 748.69L1170.46 750.62L1171.01 752.54L1171.56 754.46L1172.12 756.38L1172.68 758.30L1173.24 760.22L1173.80 762.14L1174.37 764.06L1174.94 765.97L1175.51 767.89L1176.08 769.80L1176.65 771.72L1177.23 773.63L1177.81 775.55L1178.40 777.46L1178.99 779.37L1179.58 781.28L1180.17 783.19L1180.76 785.10L1181.36 787.01L1181.97 788.91L1182.57 790.82L1183.18 792.72L1183.80 794.63L1184.41 796.53L1185.04 798.43L1185.66 800.33L1186.29 802.23L1186.92 804.12L1187.56 806.02L1188.20 807.91L1188.85 809.80L1189.50 811.69L1190.16 813.58L1190.82 815.47L1191.49 817.36L1192.16 819.24L1192.83 821.12L1193.52 823.00L1194.21 824.88L1194.90 826.75L1195.60 828.62L1196.31 830.49L1197.03 832.36L1197.75 834.23L1198.48 836.09L1199.22 837.95L1199.96 839.80L1200.72 841.65L1201.48 843.50L1202.25 845.35L1203.03 847.19L1203.82 849.03L1204.62 850.86L1205.43 852.69L1206.25 854.51L1207.08 856.33L1207.93 858.14L1208.79 859.95L1209.66 861.74L1210.54 863.54L1211.44 865.32L1212.36 867.10L1213.29 868.87L1214.24 870.63L1215.21 872.38L1216.20 874.11L1217.21 875.84L1218.24 877.55L1219.30 879.25L1220.38 880.93L1221.49 882.60L1222.63 884.24L1223.80 885.86L1225.01 887.46L1226.25 889.02L1227.53 890.56L1228.86 892.05L1230.23 893.51L1231.65 894.91L1233.13 896.26L1234.67 897.54L1236.27 898.73L1237.94 899.83L1239.68 900.82L1241.49 901.68L1243.36 902.38L1245.29 902.90L1247.26 903.23L1249.25 903.35L1251.25 903.25L1253.22 902.94L1255.16 902.44L1257.04 901.75L1258.85 900.91L1260.59 899.94L1262.27 898.85L1263.88 897.66L1265.42 896.39L1266.91 895.05L1268.34 893.65L1269.71 892.20L1271.04 890.71L1272.33 889.18L1273.58 887.61L1274.78 886.02L1275.96 884.40L1277.10 882.76L1278.21 881.10L1279.30 879.42L1280.36 877.72L1281.39 876.01L1282.40 874.29L1283.39 872.55L1284.36 870.80L1285.32 869.04L1286.25 867.28L1287.17 865.50L1288.07 863.72L1288.96 861.92L1289.83 860.13L1290.69 858.32L1291.54 856.51L1292.37 854.69L1293.19 852.87L1294.01 851.04L1294.81 849.21L1295.60 847.37L1296.38 845.53L1297.15 843.69L1297.91 841.84L1298.67 839.99L1299.41 838.13L1300.15 836.27L1300.88 834.41L1301.60 832.55L1302.32 830.68L1303.03 828.81L1303.73 826.94L1304.43 825.06L1305.12 823.19L1305.80 821.31L1306.48 819.43L1307.15 817.54L1307.82 815.66L1308.48 813.77L1309.14 811.88L1309.79 809.99L1310.44 808.10L1311.08 806.21L1311.72 804.31L1312.35 802.42L1312.98 800.52L1313.61 798.62L1314.23 796.72L1314.85 794.82L1315.46 792.91L1316.07 791.01L1316.68 789.10L1317.28 787.20L1317.88 785.29L1318.48 783.38L1319.07 781.47L1319.66 779.56L1320.25 777.65L1320.83 775.74L1321.41 773.82L1321.99 771.91L1322.57 770.00L1323.14 768.08L1323.71 766.16L1324.28 764.25L1324.85 762.33L1325.41 760.41L1325.97 758.49L1326.53 756.57L1327.09 754.65L1327.64 752.73L1328.19 750.81L1328.74 748.89L1329.29 746.96L1329.84 745.04L1330.38 743.11L1330.92 741.19L1331.46 739.26L1332.00 737.34L1332.54 735.41L1333.08 733.49L1333.61 731.56L1334.14 729.63L1334.67 727.70L1335.20 725.78L1335.73 723.85L1336.26 721.92L1336.78 719.99L1337.30 718.06L1337.83 716.13L1338.35 714.20L1338.87 712.27L1339.38 710.34L1339.90 708.40L1340.42 706.47L1340.93 704.54L1341.44 702.61L1341.96 700.67L1342.47 698.74L1342.98 696.81L1343.49 694.87L1344.00 692.94L1344.50 691.01L1345.01 689.07L1345.52 687.14L1346.02 685.20L1346.53 683.27L1347.03 681.33L1347.53 679.40L1348.03 677.46L1348.53 675.53L1349.03 673.59L1349.53 671.65L1350.03 669.72L1350.53 667.78L1351.03 665.84L1351.53 663.91L1352.02 661.97L1352.52 660.03L1353.02 658.10L1353.51 656.16L1354.00 654.22L1354.50 652.28L1354.99 650.35L1355.49 648.41L1355.98 646.47L1356.47 644.53L1356.96 642.59L1357.46 640.66L1357.95 638.72L1358.44 636.78L1358.93 634.84L1359.42 632.90L1359.91 630.97L1360.40 629.03L1360.89 627.09L1361.38 625.15L1361.87 623.21L1362.36 621.27L1362.85 619.33L1363.34 617.40L1363.83 615.46L1364.32 613.52L1364.81 611.58L1365.30 609.64L1365.79 607.70L1366.28 605.76L1366.77 603.83L1367.26 601.89L1367.76 599.95L1368.25 598.01L1368.74 596.07L1369.23 594.13L1369.72 592.19L1370.21 590.26L1370.70 588.32L1371.19 586.38L1371.69 584.44L1372.18 582.50L1372.67 580.57L1373.16 578.63L1373.66 576.69L1374.15 574.75L1374.65 572.82L1375.14 570.88L1375.64 568.94L1376.13 567.00L1376.63 565.07L1377.13 563.13L1377.62 561.19L1378.12 559.26L1378.62 557.32L1379.12 555.38L1379.62 553.45L1380.12 551.51L1380.62 549.58L1381.12 547.64L1381.63 545.71L1382.13 543.77L1382.64 541.84L1383.14 539.90L1383.65 537.97L1384.15 536.03L1384.66 534.10L1385.17 532.16L1385.68 530.23L1386.19 528.30L1386.70 526.37L1387.22 524.43L1387.73 522.50L1388.25 520.57L1388.76 518.64L1389.28 516.71L1389.80 514.77L1390.32 512.84L1390.84 510.91L1391.37 508.98L1391.89 507.05L1392.42 505.12L1392.94 503.20L1393.47 501.27L1394.00 499.34L1394.53 497.41L1395.07 495.48L1395.60 493.56L1396.14 491.63L1396.67 489.70L1397.21 487.78L1397.76 485.85L1398.30 483.93L1398.85 482.01L1399.39 480.08L1399.94 478.16L1400.49 476.24L1401.05 474.32L1401.60 472.40L1402.16 470.48L1402.72 468.56L1403.28 466.64L1403.85 464.72L1404.42 462.80L1404.98 460.89L1405.56 458.97L1406.13 457.05L1406.71 455.14L1407.29 453.23L1407.87 451.31L1408.46 449.40L1409.05 447.49L1409.64 445.58L1410.24 443.67L1410.83 441.76L1411.44 439.86L1412.04 437.95L1412.65 436.05L1413.26 434.14L1413.88 432.24L1414.50 430.34L1415.12 428.44L1415.75 426.54L1416.38 424.65L1417.02 422.75L1417.66 420.86L1418.31 418.96L1418.96 417.07L1419.61 415.18L1420.27 413.30L1420.94 411.41L1421.61 409.53L1422.28 407.64L1422.96 405.76L1423.65 403.89L1424.34 402.01L1425.04 400.14L1425.75 398.27L1426.46 396.40L1427.18 394.53L1427.91 392.67L1428.65 390.81L1429.39 388.95L1430.14 387.10L1430.90 385.25L1431.67 383.41L1432.44 381.56L1433.23 379.72L1434.03 377.89L1434.83 376.06L1435.65 374.24L1436.48 372.42L1437.32 370.60L1438.18 368.80L1439.05 366.99L1439.93 365.20L1440.82 363.41L1441.74 361.63L1442.66 359.86L1443.61 358.10L1444.57 356.35L1445.55 354.61L1446.56 352.88L1447.58 351.16L1448.63 349.46L1449.71 347.77L1450.81 346.10L1451.94 344.45L1453.10 342.82L1454.29 341.22L1455.52 339.64L1456.79 338.10L1458.10 336.59L1459.46 335.12L1460.87 333.70L1462.33 332.34L1463.85 331.04L1465.43 329.82L1467.08 328.69L1468.80 327.66L1470.59 326.76L1472.44 326.02L1474.35 325.44L1476.31 325.05L1478.30 324.86L1480.30 324.90L1482.28 325.14L1484.23 325.59L1486.13 326.22L1487.96 327.02L1489.73 327.96L1491.42 329.02L1493.05 330.18L1494.62 331.42L1496.12 332.74L1497.56 334.12L1498.96 335.56L1500.30 337.04L1501.60 338.56L1502.86 340.11L1504.08 341.70L1505.26 343.31L1506.41 344.94L1507.53 346.60L1508.62 348.27L1509.69 349.97L1510.73 351.67L1511.75 353.39L1512.75 355.13L1513.72 356.87L1514.68 358.63L1515.62 360.39L1516.55 362.17L1517.45 363.95L1518.34 365.74L1519.22 367.53L1520.08 369.34L1520.93 371.15L1521.77 372.96L1522.60 374.78L1523.41 376.61L1524.22 378.44L1525.01 380.28L1525.80 382.12L1526.57 383.96L1527.34 385.81L1528.09 387.66L1528.84 389.51L1529.58 391.37L1530.31 393.23L1531.04 395.09L1531.76 396.96L1532.47 398.83L1533.17 400.70L1533.87 402.57L1534.56 404.45L1535.25 406.33L1535.93 408.21L1536.60 410.09L1537.27 411.98L1537.93 413.86L1538.59 415.75L1539.25 417.64L1539.89 419.53L1540.54 421.42L1541.18 423.32L1541.81 425.21L1542.44 427.11L1543.07 429.01L1543.69 430.91L1544.31 432.81L1544.93 434.72L1545.54 436.62L1546.15 438.52L1546.75 440.43L1547.35 442.34L1547.95 444.25L1548.54 446.15L1549.13 448.07L1549.72 449.98L1550.31 451.89L1550.89 453.80L1551.47 455.71L1552.05 457.63L1552.62 459.54L1553.19 461.46L1553.76 463.38L1554.33 465.30L1554.89 467.21L1555.45 469.13L1556.01 471.05L1556.57 472.97L1557.12 474.89L1557.68 476.82L1558.23 478.74L1558.78 480.66L1559.32 482.58L1559.87 484.51L1560.41 486.43L1560.95 488.36L1561.49 490.28L1562.03 492.21L1562.57 494.14L1563.10 496.06" stroke="#0000ff"/>
</g>
<g class="tick">
<text x="100.60" y="1242" text-anchor="middle">0</text>
<text x="246.60" y="1242" text-anchor="middle">2</text>
<text x="392.60" y="1242" text-anchor="middle">4</text>
<text x="538.60" y="1242" text-anchor="middle">6</text>
<text x="685.60" y="1242" text-anchor="middle">8</text>
<text x="831.60" y="1242" text-anchor="middle">10</text>
<text x="977.60" y="1242" text-anchor="middle">12</text>
<text x="1123.60" y="1242" text-anchor="middle">14</text>
<text x="1269.60" y="1242" text-anchor="middle">16</text>
<text x="1415.60" y="1242" text-anchor="middle">18</text>
<text x="1562.60" y="1242" text-anchor="middle">20</text>
<text x="86" y="1206.50" text-anchor="end">−2</text>
<text x="86" y="1061.88" text-anchor="end">−1.5</text>
<text x="86" y="917.25" text-anchor="end">−1</text>
<text x="86" y="772.62" text-anchor="end">−0.5</text>
<text x="86" y="628.00" text-anchor="end">0</text>
<text x="86" y="483.38" text-anchor="end">0.5</text>
<text x="86" y="338.75" text-anchor="end">1</text>
<text x="86" y="194.12" text-anchor="end">1.5</text>
<text x="86" y="49.50" text-anchor="end">2</text>
</g>
<text class="xlab" x="829.3" y="1293.5" text-anchor="middle">Time(s)</text>
<rect x="1396" y="69" width="133" height="201" fill="#fff" stroke="#262626" stroke-width="2" shape-rendering="crispEdges"/>
<line x1="1405" y1="93" x2="1484" y2="93" stroke="#ff0000" stroke-width="8" stroke-dasharray="22 4 11 5" shape-rendering="crispEdges"/>
<text class="leg" x="1494.2" y="100.7">y</text>
<text class="sub" x="1507.5" y="104.7">1</text>
<line x1="1405" y1="131" x2="1484" y2="131" stroke="#000000" stroke-width="8" stroke-dasharray="22 20" shape-rendering="crispEdges"/>
<text class="leg" x="1494.2" y="138.7">y</text>
<text class="sub" x="1507.5" y="142.7">2</text>
<line x1="1405" y1="170" x2="1484" y2="170" stroke="#3d7358" stroke-width="8" stroke-dasharray="22 20" shape-rendering="crispEdges"/>
<text class="leg" x="1494.2" y="177.7">y</text>
<text class="sub" x="1507.5" y="181.7">3</text>
<line x1="1405" y1="208" x2="1484" y2="208" stroke="#ff00ff" stroke-width="8" stroke-dasharray="22 4 11 5" shape-rendering="crispEdges"/>
<text class="leg" x="1494.2" y="215.7">y</text>
<text class="sub" x="1507.5" y="219.7">4</text>
<line x1="1405" y1="246.5" x2="1484" y2="246.5" stroke="#0000ff" stroke-width="8" shape-rendering="crispEdges"/>
<text class="leg" x="1494.2" y="254.2">y</text>
<text class="subi" x="1507.5" y="258.2">r</text>
</svg>
</body>
</html>
